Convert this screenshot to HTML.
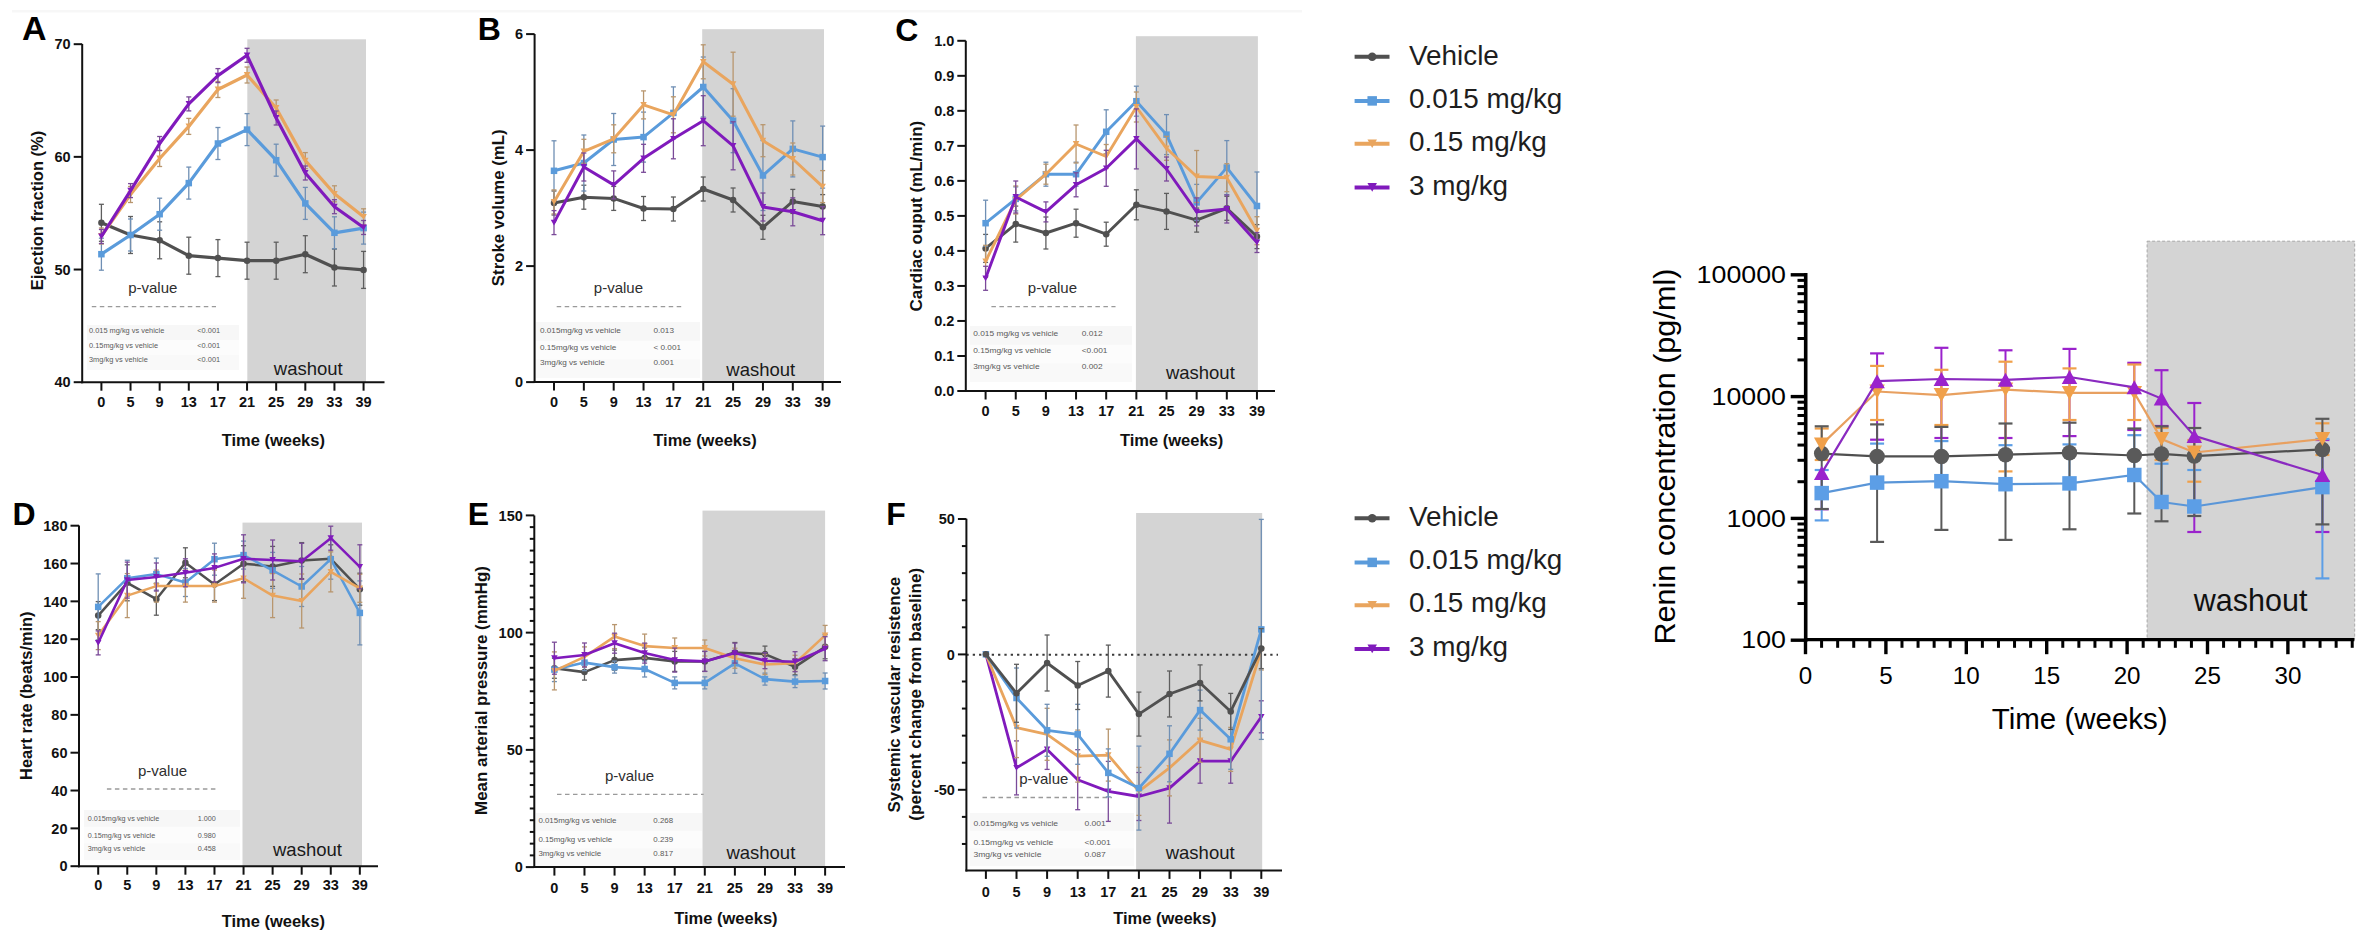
<!DOCTYPE html>
<html><head><meta charset="utf-8"><title>Figure</title>
<style>
html,body{margin:0;padding:0;background:#fff;}
body{width:2366px;height:934px;overflow:hidden;}
svg{display:block;font-family:"Liberation Sans",sans-serif;}
</style></head>
<body>
<svg width="2366" height="934" viewBox="0 0 2366 934">
<rect x="0" y="0" width="2366" height="934" fill="#fff"/>
<rect x="12" y="10" width="1290" height="2.5" fill="#f7f7f7"/>
<rect x="247.3" y="39.3" width="118.7" height="342.9" fill="#d4d4d4"/>
<rect x="87" y="325" width="152" height="45" fill="#fcfcfc"/>
<rect x="87" y="325" width="152" height="15" fill="#f7f7f7"/>
<rect x="87" y="355" width="152" height="15" fill="#f9f9f9"/>
<g transform="translate(89,332.8) scale(1.028,1)"><text x="0" y="0" font-size="7.2" fill="#5a5a5a">0.015 mg/kg vs vehicle</text></g>
<g transform="translate(197.3,332.8) scale(1.028,1)"><text x="0" y="0" font-size="7.2" fill="#5a5a5a">&lt;0.001</text></g>
<g transform="translate(89,347.8) scale(1.028,1)"><text x="0" y="0" font-size="7.2" fill="#5a5a5a">0.15mg/kg vs vehicle</text></g>
<g transform="translate(197.3,347.8) scale(1.028,1)"><text x="0" y="0" font-size="7.2" fill="#5a5a5a">&lt;0.001</text></g>
<g transform="translate(89,362.3) scale(1.028,1)"><text x="0" y="0" font-size="7.2" fill="#5a5a5a">3mg/kg vs vehicle</text></g>
<g transform="translate(197.3,362.3) scale(1.028,1)"><text x="0" y="0" font-size="7.2" fill="#5a5a5a">&lt;0.001</text></g>
<text x="152.8" y="292.8" font-size="15" text-anchor="middle" font-weight="normal" fill="#2e2e2e" >p-value</text>
<line x1="91.8" y1="306.7" x2="216" y2="306.7" stroke="#9a9a9a" stroke-width="1.3" stroke-dasharray="4.5 3.5"/>
<text x="273.8" y="375.2" font-size="18.5" text-anchor="start" font-weight="normal" fill="#1a1a1a" >washout</text>
<line x1="101.4" y1="204.3" x2="101.4" y2="241.3" stroke="#5e5e5e" stroke-width="1.3"/>
<line x1="98.9" y1="204.3" x2="103.9" y2="204.3" stroke="#5e5e5e" stroke-width="1.3"/>
<line x1="98.9" y1="241.3" x2="103.9" y2="241.3" stroke="#5e5e5e" stroke-width="1.3"/>
<line x1="130.53" y1="216.5" x2="130.53" y2="253.5" stroke="#5e5e5e" stroke-width="1.3"/>
<line x1="128.03" y1="216.5" x2="133.03" y2="216.5" stroke="#5e5e5e" stroke-width="1.3"/>
<line x1="128.03" y1="253.5" x2="133.03" y2="253.5" stroke="#5e5e5e" stroke-width="1.3"/>
<line x1="159.66" y1="221.8" x2="159.66" y2="258.8" stroke="#5e5e5e" stroke-width="1.3"/>
<line x1="157.16" y1="221.8" x2="162.16" y2="221.8" stroke="#5e5e5e" stroke-width="1.3"/>
<line x1="157.16" y1="258.8" x2="162.16" y2="258.8" stroke="#5e5e5e" stroke-width="1.3"/>
<line x1="188.79" y1="237.2" x2="188.79" y2="274.2" stroke="#5e5e5e" stroke-width="1.3"/>
<line x1="186.29" y1="237.2" x2="191.29" y2="237.2" stroke="#5e5e5e" stroke-width="1.3"/>
<line x1="186.29" y1="274.2" x2="191.29" y2="274.2" stroke="#5e5e5e" stroke-width="1.3"/>
<line x1="217.92" y1="239.6" x2="217.92" y2="276.6" stroke="#5e5e5e" stroke-width="1.3"/>
<line x1="215.42" y1="239.6" x2="220.42" y2="239.6" stroke="#5e5e5e" stroke-width="1.3"/>
<line x1="215.42" y1="276.6" x2="220.42" y2="276.6" stroke="#5e5e5e" stroke-width="1.3"/>
<line x1="247.05" y1="242.2" x2="247.05" y2="279.2" stroke="#5e5e5e" stroke-width="1.3"/>
<line x1="244.55" y1="242.2" x2="249.55" y2="242.2" stroke="#5e5e5e" stroke-width="1.3"/>
<line x1="244.55" y1="279.2" x2="249.55" y2="279.2" stroke="#5e5e5e" stroke-width="1.3"/>
<line x1="276.18" y1="242.2" x2="276.18" y2="279.2" stroke="#5e5e5e" stroke-width="1.3"/>
<line x1="273.68" y1="242.2" x2="278.68" y2="242.2" stroke="#5e5e5e" stroke-width="1.3"/>
<line x1="273.68" y1="279.2" x2="278.68" y2="279.2" stroke="#5e5e5e" stroke-width="1.3"/>
<line x1="305.31" y1="235.7" x2="305.31" y2="272.7" stroke="#5e5e5e" stroke-width="1.3"/>
<line x1="302.81" y1="235.7" x2="307.81" y2="235.7" stroke="#5e5e5e" stroke-width="1.3"/>
<line x1="302.81" y1="272.7" x2="307.81" y2="272.7" stroke="#5e5e5e" stroke-width="1.3"/>
<line x1="334.44" y1="249" x2="334.44" y2="286" stroke="#5e5e5e" stroke-width="1.3"/>
<line x1="331.94" y1="249" x2="336.94" y2="249" stroke="#5e5e5e" stroke-width="1.3"/>
<line x1="331.94" y1="286" x2="336.94" y2="286" stroke="#5e5e5e" stroke-width="1.3"/>
<line x1="363.57" y1="251.4" x2="363.57" y2="288.4" stroke="#5e5e5e" stroke-width="1.3"/>
<line x1="361.07" y1="251.4" x2="366.07" y2="251.4" stroke="#5e5e5e" stroke-width="1.3"/>
<line x1="361.07" y1="288.4" x2="366.07" y2="288.4" stroke="#5e5e5e" stroke-width="1.3"/>
<polyline points="101.4,222.8 130.53,235 159.66,240.3 188.79,255.7 217.92,258.1 247.05,260.7 276.18,260.7 305.31,254.2 334.44,267.5 363.57,269.9" fill="none" stroke="#505050" stroke-width="3.2" stroke-linejoin="round"/>
<circle cx="101.4" cy="222.8" r="3.25" fill="#505050"/>
<circle cx="130.53" cy="235" r="3.25" fill="#505050"/>
<circle cx="159.66" cy="240.3" r="3.25" fill="#505050"/>
<circle cx="188.79" cy="255.7" r="3.25" fill="#505050"/>
<circle cx="217.92" cy="258.1" r="3.25" fill="#505050"/>
<circle cx="247.05" cy="260.7" r="3.25" fill="#505050"/>
<circle cx="276.18" cy="260.7" r="3.25" fill="#505050"/>
<circle cx="305.31" cy="254.2" r="3.25" fill="#505050"/>
<circle cx="334.44" cy="267.5" r="3.25" fill="#505050"/>
<circle cx="363.57" cy="269.9" r="3.25" fill="#505050"/>
<line x1="101.4" y1="238.2" x2="101.4" y2="270.2" stroke="#6f8fb4" stroke-width="1.3"/>
<line x1="98.9" y1="238.2" x2="103.9" y2="238.2" stroke="#6f8fb4" stroke-width="1.3"/>
<line x1="98.9" y1="270.2" x2="103.9" y2="270.2" stroke="#6f8fb4" stroke-width="1.3"/>
<line x1="130.53" y1="219" x2="130.53" y2="251" stroke="#6f8fb4" stroke-width="1.3"/>
<line x1="128.03" y1="219" x2="133.03" y2="219" stroke="#6f8fb4" stroke-width="1.3"/>
<line x1="128.03" y1="251" x2="133.03" y2="251" stroke="#6f8fb4" stroke-width="1.3"/>
<line x1="159.66" y1="198.2" x2="159.66" y2="230.2" stroke="#6f8fb4" stroke-width="1.3"/>
<line x1="157.16" y1="198.2" x2="162.16" y2="198.2" stroke="#6f8fb4" stroke-width="1.3"/>
<line x1="157.16" y1="230.2" x2="162.16" y2="230.2" stroke="#6f8fb4" stroke-width="1.3"/>
<line x1="188.79" y1="167.1" x2="188.79" y2="199.1" stroke="#6f8fb4" stroke-width="1.3"/>
<line x1="186.29" y1="167.1" x2="191.29" y2="167.1" stroke="#6f8fb4" stroke-width="1.3"/>
<line x1="186.29" y1="199.1" x2="191.29" y2="199.1" stroke="#6f8fb4" stroke-width="1.3"/>
<line x1="217.92" y1="127.5" x2="217.92" y2="159.5" stroke="#6f8fb4" stroke-width="1.3"/>
<line x1="215.42" y1="127.5" x2="220.42" y2="127.5" stroke="#6f8fb4" stroke-width="1.3"/>
<line x1="215.42" y1="159.5" x2="220.42" y2="159.5" stroke="#6f8fb4" stroke-width="1.3"/>
<line x1="247.05" y1="113.6" x2="247.05" y2="145.6" stroke="#6f8fb4" stroke-width="1.3"/>
<line x1="244.55" y1="113.6" x2="249.55" y2="113.6" stroke="#6f8fb4" stroke-width="1.3"/>
<line x1="244.55" y1="145.6" x2="249.55" y2="145.6" stroke="#6f8fb4" stroke-width="1.3"/>
<line x1="276.18" y1="144.2" x2="276.18" y2="176.2" stroke="#6f8fb4" stroke-width="1.3"/>
<line x1="273.68" y1="144.2" x2="278.68" y2="144.2" stroke="#6f8fb4" stroke-width="1.3"/>
<line x1="273.68" y1="176.2" x2="278.68" y2="176.2" stroke="#6f8fb4" stroke-width="1.3"/>
<line x1="305.31" y1="187.4" x2="305.31" y2="219.4" stroke="#6f8fb4" stroke-width="1.3"/>
<line x1="302.81" y1="187.4" x2="307.81" y2="187.4" stroke="#6f8fb4" stroke-width="1.3"/>
<line x1="302.81" y1="219.4" x2="307.81" y2="219.4" stroke="#6f8fb4" stroke-width="1.3"/>
<line x1="334.44" y1="216.8" x2="334.44" y2="248.8" stroke="#6f8fb4" stroke-width="1.3"/>
<line x1="331.94" y1="216.8" x2="336.94" y2="216.8" stroke="#6f8fb4" stroke-width="1.3"/>
<line x1="331.94" y1="248.8" x2="336.94" y2="248.8" stroke="#6f8fb4" stroke-width="1.3"/>
<line x1="363.57" y1="212.1" x2="363.57" y2="244.1" stroke="#6f8fb4" stroke-width="1.3"/>
<line x1="361.07" y1="212.1" x2="366.07" y2="212.1" stroke="#6f8fb4" stroke-width="1.3"/>
<line x1="361.07" y1="244.1" x2="366.07" y2="244.1" stroke="#6f8fb4" stroke-width="1.3"/>
<polyline points="101.4,254.2 130.53,235 159.66,214.2 188.79,183.1 217.92,143.5 247.05,129.6 276.18,160.2 305.31,203.4 334.44,232.8 363.57,228.1" fill="none" stroke="#5a9bdb" stroke-width="3.2" stroke-linejoin="round"/>
<rect x="98.15" y="250.95" width="6.5" height="6.5" fill="#5a9bdb"/>
<rect x="127.28" y="231.75" width="6.5" height="6.5" fill="#5a9bdb"/>
<rect x="156.41" y="210.95" width="6.5" height="6.5" fill="#5a9bdb"/>
<rect x="185.54" y="179.85" width="6.5" height="6.5" fill="#5a9bdb"/>
<rect x="214.67" y="140.25" width="6.5" height="6.5" fill="#5a9bdb"/>
<rect x="243.8" y="126.35" width="6.5" height="6.5" fill="#5a9bdb"/>
<rect x="272.93" y="156.95" width="6.5" height="6.5" fill="#5a9bdb"/>
<rect x="302.06" y="200.15" width="6.5" height="6.5" fill="#5a9bdb"/>
<rect x="331.19" y="229.55" width="6.5" height="6.5" fill="#5a9bdb"/>
<rect x="360.32" y="224.85" width="6.5" height="6.5" fill="#5a9bdb"/>
<line x1="101.4" y1="228" x2="101.4" y2="244" stroke="#b8966e" stroke-width="1.3"/>
<line x1="98.9" y1="228" x2="103.9" y2="228" stroke="#b8966e" stroke-width="1.3"/>
<line x1="98.9" y1="244" x2="103.9" y2="244" stroke="#b8966e" stroke-width="1.3"/>
<line x1="130.53" y1="186.5" x2="130.53" y2="202.5" stroke="#b8966e" stroke-width="1.3"/>
<line x1="128.03" y1="186.5" x2="133.03" y2="186.5" stroke="#b8966e" stroke-width="1.3"/>
<line x1="128.03" y1="202.5" x2="133.03" y2="202.5" stroke="#b8966e" stroke-width="1.3"/>
<line x1="159.66" y1="150.5" x2="159.66" y2="166.5" stroke="#b8966e" stroke-width="1.3"/>
<line x1="157.16" y1="150.5" x2="162.16" y2="150.5" stroke="#b8966e" stroke-width="1.3"/>
<line x1="157.16" y1="166.5" x2="162.16" y2="166.5" stroke="#b8966e" stroke-width="1.3"/>
<line x1="188.79" y1="118.4" x2="188.79" y2="134.4" stroke="#b8966e" stroke-width="1.3"/>
<line x1="186.29" y1="118.4" x2="191.29" y2="118.4" stroke="#b8966e" stroke-width="1.3"/>
<line x1="186.29" y1="134.4" x2="191.29" y2="134.4" stroke="#b8966e" stroke-width="1.3"/>
<line x1="217.92" y1="81.5" x2="217.92" y2="97.5" stroke="#b8966e" stroke-width="1.3"/>
<line x1="215.42" y1="81.5" x2="220.42" y2="81.5" stroke="#b8966e" stroke-width="1.3"/>
<line x1="215.42" y1="97.5" x2="220.42" y2="97.5" stroke="#b8966e" stroke-width="1.3"/>
<line x1="247.05" y1="67" x2="247.05" y2="83" stroke="#b8966e" stroke-width="1.3"/>
<line x1="244.55" y1="67" x2="249.55" y2="67" stroke="#b8966e" stroke-width="1.3"/>
<line x1="244.55" y1="83" x2="249.55" y2="83" stroke="#b8966e" stroke-width="1.3"/>
<line x1="276.18" y1="100" x2="276.18" y2="116" stroke="#b8966e" stroke-width="1.3"/>
<line x1="273.68" y1="100" x2="278.68" y2="100" stroke="#b8966e" stroke-width="1.3"/>
<line x1="273.68" y1="116" x2="278.68" y2="116" stroke="#b8966e" stroke-width="1.3"/>
<line x1="305.31" y1="152.6" x2="305.31" y2="168.6" stroke="#b8966e" stroke-width="1.3"/>
<line x1="302.81" y1="152.6" x2="307.81" y2="152.6" stroke="#b8966e" stroke-width="1.3"/>
<line x1="302.81" y1="168.6" x2="307.81" y2="168.6" stroke="#b8966e" stroke-width="1.3"/>
<line x1="334.44" y1="185.8" x2="334.44" y2="201.8" stroke="#b8966e" stroke-width="1.3"/>
<line x1="331.94" y1="185.8" x2="336.94" y2="185.8" stroke="#b8966e" stroke-width="1.3"/>
<line x1="331.94" y1="201.8" x2="336.94" y2="201.8" stroke="#b8966e" stroke-width="1.3"/>
<line x1="363.57" y1="208.8" x2="363.57" y2="224.8" stroke="#b8966e" stroke-width="1.3"/>
<line x1="361.07" y1="208.8" x2="366.07" y2="208.8" stroke="#b8966e" stroke-width="1.3"/>
<line x1="361.07" y1="224.8" x2="366.07" y2="224.8" stroke="#b8966e" stroke-width="1.3"/>
<polyline points="101.4,236 130.53,194.5 159.66,158.5 188.79,126.4 217.92,89.5 247.05,75 276.18,108 305.31,160.6 334.44,193.8 363.57,216.8" fill="none" stroke="#e9a55e" stroke-width="3.2" stroke-linejoin="round"/>
<polygon points="98.15,233.07 104.65,233.07 101.4,238.93" fill="#e9a55e"/>
<polygon points="127.28,191.57 133.78,191.57 130.53,197.43" fill="#e9a55e"/>
<polygon points="156.41,155.57 162.91,155.57 159.66,161.43" fill="#e9a55e"/>
<polygon points="185.54,123.48 192.04,123.48 188.79,129.33" fill="#e9a55e"/>
<polygon points="214.67,86.58 221.17,86.58 217.92,92.42" fill="#e9a55e"/>
<polygon points="243.8,72.08 250.3,72.08 247.05,77.92" fill="#e9a55e"/>
<polygon points="272.93,105.08 279.43,105.08 276.18,110.92" fill="#e9a55e"/>
<polygon points="302.06,157.67 308.56,157.67 305.31,163.53" fill="#e9a55e"/>
<polygon points="331.19,190.88 337.69,190.88 334.44,196.73" fill="#e9a55e"/>
<polygon points="360.32,213.88 366.82,213.88 363.57,219.73" fill="#e9a55e"/>
<line x1="101.4" y1="229.5" x2="101.4" y2="243.5" stroke="#7a4a98" stroke-width="1.3"/>
<line x1="98.9" y1="229.5" x2="103.9" y2="229.5" stroke="#7a4a98" stroke-width="1.3"/>
<line x1="98.9" y1="243.5" x2="103.9" y2="243.5" stroke="#7a4a98" stroke-width="1.3"/>
<line x1="130.53" y1="183.6" x2="130.53" y2="197.6" stroke="#7a4a98" stroke-width="1.3"/>
<line x1="128.03" y1="183.6" x2="133.03" y2="183.6" stroke="#7a4a98" stroke-width="1.3"/>
<line x1="128.03" y1="197.6" x2="133.03" y2="197.6" stroke="#7a4a98" stroke-width="1.3"/>
<line x1="159.66" y1="136.5" x2="159.66" y2="150.5" stroke="#7a4a98" stroke-width="1.3"/>
<line x1="157.16" y1="136.5" x2="162.16" y2="136.5" stroke="#7a4a98" stroke-width="1.3"/>
<line x1="157.16" y1="150.5" x2="162.16" y2="150.5" stroke="#7a4a98" stroke-width="1.3"/>
<line x1="188.79" y1="96.9" x2="188.79" y2="110.9" stroke="#7a4a98" stroke-width="1.3"/>
<line x1="186.29" y1="96.9" x2="191.29" y2="96.9" stroke="#7a4a98" stroke-width="1.3"/>
<line x1="186.29" y1="110.9" x2="191.29" y2="110.9" stroke="#7a4a98" stroke-width="1.3"/>
<line x1="217.92" y1="68.6" x2="217.92" y2="82.6" stroke="#7a4a98" stroke-width="1.3"/>
<line x1="215.42" y1="68.6" x2="220.42" y2="68.6" stroke="#7a4a98" stroke-width="1.3"/>
<line x1="215.42" y1="82.6" x2="220.42" y2="82.6" stroke="#7a4a98" stroke-width="1.3"/>
<line x1="247.05" y1="48.3" x2="247.05" y2="62.3" stroke="#7a4a98" stroke-width="1.3"/>
<line x1="244.55" y1="48.3" x2="249.55" y2="48.3" stroke="#7a4a98" stroke-width="1.3"/>
<line x1="244.55" y1="62.3" x2="249.55" y2="62.3" stroke="#7a4a98" stroke-width="1.3"/>
<line x1="276.18" y1="111" x2="276.18" y2="125" stroke="#7a4a98" stroke-width="1.3"/>
<line x1="273.68" y1="111" x2="278.68" y2="111" stroke="#7a4a98" stroke-width="1.3"/>
<line x1="273.68" y1="125" x2="278.68" y2="125" stroke="#7a4a98" stroke-width="1.3"/>
<line x1="305.31" y1="166" x2="305.31" y2="180" stroke="#7a4a98" stroke-width="1.3"/>
<line x1="302.81" y1="166" x2="307.81" y2="166" stroke="#7a4a98" stroke-width="1.3"/>
<line x1="302.81" y1="180" x2="307.81" y2="180" stroke="#7a4a98" stroke-width="1.3"/>
<line x1="334.44" y1="199.7" x2="334.44" y2="213.7" stroke="#7a4a98" stroke-width="1.3"/>
<line x1="331.94" y1="199.7" x2="336.94" y2="199.7" stroke="#7a4a98" stroke-width="1.3"/>
<line x1="331.94" y1="213.7" x2="336.94" y2="213.7" stroke="#7a4a98" stroke-width="1.3"/>
<line x1="363.57" y1="220.5" x2="363.57" y2="234.5" stroke="#7a4a98" stroke-width="1.3"/>
<line x1="361.07" y1="220.5" x2="366.07" y2="220.5" stroke="#7a4a98" stroke-width="1.3"/>
<line x1="361.07" y1="234.5" x2="366.07" y2="234.5" stroke="#7a4a98" stroke-width="1.3"/>
<polyline points="101.4,236.5 130.53,190.6 159.66,143.5 188.79,103.9 217.92,75.6 247.05,55.3 276.18,118 305.31,173 334.44,206.7 363.57,227.5" fill="none" stroke="#801abc" stroke-width="3.2" stroke-linejoin="round"/>
<polygon points="98.15,233.57 104.65,233.57 101.4,239.43" fill="#801abc"/>
<polygon points="127.28,187.67 133.78,187.67 130.53,193.53" fill="#801abc"/>
<polygon points="156.41,140.57 162.91,140.57 159.66,146.43" fill="#801abc"/>
<polygon points="185.54,100.98 192.04,100.98 188.79,106.83" fill="#801abc"/>
<polygon points="214.67,72.67 221.17,72.67 217.92,78.52" fill="#801abc"/>
<polygon points="243.8,52.38 250.3,52.38 247.05,58.22" fill="#801abc"/>
<polygon points="272.93,115.08 279.43,115.08 276.18,120.92" fill="#801abc"/>
<polygon points="302.06,170.07 308.56,170.07 305.31,175.93" fill="#801abc"/>
<polygon points="331.19,203.77 337.69,203.77 334.44,209.62" fill="#801abc"/>
<polygon points="360.32,224.57 366.82,224.57 363.57,230.43" fill="#801abc"/>
<line x1="82.2" y1="43.9" x2="82.2" y2="383.2" stroke="#111" stroke-width="2"/>
<line x1="81.2" y1="382.2" x2="384.5" y2="382.2" stroke="#111" stroke-width="2"/>
<line x1="73.7" y1="382.2" x2="82.2" y2="382.2" stroke="#111" stroke-width="2"/>
<text x="70.7" y="387.4" font-size="14.5" text-anchor="end" font-weight="bold" fill="#111" >40</text>
<line x1="73.7" y1="269.53" x2="82.2" y2="269.53" stroke="#111" stroke-width="2"/>
<text x="70.7" y="274.73" font-size="14.5" text-anchor="end" font-weight="bold" fill="#111" >50</text>
<line x1="73.7" y1="156.86" x2="82.2" y2="156.86" stroke="#111" stroke-width="2"/>
<text x="70.7" y="162.06" font-size="14.5" text-anchor="end" font-weight="bold" fill="#111" >60</text>
<line x1="73.7" y1="44.19" x2="82.2" y2="44.19" stroke="#111" stroke-width="2"/>
<text x="70.7" y="49.39" font-size="14.5" text-anchor="end" font-weight="bold" fill="#111" >70</text>
<line x1="101.4" y1="382.2" x2="101.4" y2="390.7" stroke="#111" stroke-width="2"/>
<text x="101.4" y="406.6" font-size="14.5" text-anchor="middle" font-weight="bold" fill="#111" >0</text>
<line x1="130.53" y1="382.2" x2="130.53" y2="390.7" stroke="#111" stroke-width="2"/>
<text x="130.53" y="406.6" font-size="14.5" text-anchor="middle" font-weight="bold" fill="#111" >5</text>
<line x1="159.66" y1="382.2" x2="159.66" y2="390.7" stroke="#111" stroke-width="2"/>
<text x="159.66" y="406.6" font-size="14.5" text-anchor="middle" font-weight="bold" fill="#111" >9</text>
<line x1="188.79" y1="382.2" x2="188.79" y2="390.7" stroke="#111" stroke-width="2"/>
<text x="188.79" y="406.6" font-size="14.5" text-anchor="middle" font-weight="bold" fill="#111" >13</text>
<line x1="217.92" y1="382.2" x2="217.92" y2="390.7" stroke="#111" stroke-width="2"/>
<text x="217.92" y="406.6" font-size="14.5" text-anchor="middle" font-weight="bold" fill="#111" >17</text>
<line x1="247.05" y1="382.2" x2="247.05" y2="390.7" stroke="#111" stroke-width="2"/>
<text x="247.05" y="406.6" font-size="14.5" text-anchor="middle" font-weight="bold" fill="#111" >21</text>
<line x1="276.18" y1="382.2" x2="276.18" y2="390.7" stroke="#111" stroke-width="2"/>
<text x="276.18" y="406.6" font-size="14.5" text-anchor="middle" font-weight="bold" fill="#111" >25</text>
<line x1="305.31" y1="382.2" x2="305.31" y2="390.7" stroke="#111" stroke-width="2"/>
<text x="305.31" y="406.6" font-size="14.5" text-anchor="middle" font-weight="bold" fill="#111" >29</text>
<line x1="334.44" y1="382.2" x2="334.44" y2="390.7" stroke="#111" stroke-width="2"/>
<text x="334.44" y="406.6" font-size="14.5" text-anchor="middle" font-weight="bold" fill="#111" >33</text>
<line x1="363.57" y1="382.2" x2="363.57" y2="390.7" stroke="#111" stroke-width="2"/>
<text x="363.57" y="406.6" font-size="14.5" text-anchor="middle" font-weight="bold" fill="#111" >39</text>
<text x="273.3" y="446.2" font-size="16.5" text-anchor="middle" font-weight="bold" fill="#111" >Time (weeks)</text>
<text transform="translate(42.8,210.5) rotate(-90)" x="0" y="0" font-size="16.5" text-anchor="middle" font-weight="bold" fill="#111">Ejection fraction (%)</text>
<text x="22" y="40.3" font-size="34" text-anchor="start" font-weight="bold" fill="#000" >A</text>
<rect x="702.2" y="29.2" width="121.8" height="352.9" fill="#d4d4d4"/>
<rect x="536" y="322" width="164" height="56" fill="#fcfcfc"/>
<rect x="536" y="322" width="164" height="18.67" fill="#f7f7f7"/>
<rect x="536" y="359.33" width="164" height="18.67" fill="#f9f9f9"/>
<g transform="translate(540,332.8) scale(1.137,1)"><text x="0" y="0" font-size="7.2" fill="#5a5a5a">0.015mg/kg vs vehicle</text></g>
<g transform="translate(653.5,332.8) scale(1.137,1)"><text x="0" y="0" font-size="7.2" fill="#5a5a5a">0.013</text></g>
<g transform="translate(540,349.5) scale(1.137,1)"><text x="0" y="0" font-size="7.2" fill="#5a5a5a">0.15mg/kg vs vehicle</text></g>
<g transform="translate(653.5,349.5) scale(1.137,1)"><text x="0" y="0" font-size="7.2" fill="#5a5a5a">&lt; 0.001</text></g>
<g transform="translate(540,365) scale(1.137,1)"><text x="0" y="0" font-size="7.2" fill="#5a5a5a">3mg/kg vs vehicle</text></g>
<g transform="translate(653.5,365) scale(1.137,1)"><text x="0" y="0" font-size="7.2" fill="#5a5a5a">0.001</text></g>
<text x="618.4" y="293.2" font-size="15" text-anchor="middle" font-weight="normal" fill="#2e2e2e" >p-value</text>
<line x1="556.7" y1="306.7" x2="681.3" y2="306.7" stroke="#9a9a9a" stroke-width="1.3" stroke-dasharray="4.5 3.5"/>
<text x="726.3" y="375.7" font-size="18.5" text-anchor="start" font-weight="normal" fill="#1a1a1a" >washout</text>
<line x1="554" y1="191" x2="554" y2="215" stroke="#5e5e5e" stroke-width="1.3"/>
<line x1="551.5" y1="191" x2="556.5" y2="191" stroke="#5e5e5e" stroke-width="1.3"/>
<line x1="551.5" y1="215" x2="556.5" y2="215" stroke="#5e5e5e" stroke-width="1.3"/>
<line x1="583.85" y1="185.2" x2="583.85" y2="209.2" stroke="#5e5e5e" stroke-width="1.3"/>
<line x1="581.35" y1="185.2" x2="586.35" y2="185.2" stroke="#5e5e5e" stroke-width="1.3"/>
<line x1="581.35" y1="209.2" x2="586.35" y2="209.2" stroke="#5e5e5e" stroke-width="1.3"/>
<line x1="613.7" y1="186.4" x2="613.7" y2="210.4" stroke="#5e5e5e" stroke-width="1.3"/>
<line x1="611.2" y1="186.4" x2="616.2" y2="186.4" stroke="#5e5e5e" stroke-width="1.3"/>
<line x1="611.2" y1="210.4" x2="616.2" y2="210.4" stroke="#5e5e5e" stroke-width="1.3"/>
<line x1="643.55" y1="196.5" x2="643.55" y2="220.5" stroke="#5e5e5e" stroke-width="1.3"/>
<line x1="641.05" y1="196.5" x2="646.05" y2="196.5" stroke="#5e5e5e" stroke-width="1.3"/>
<line x1="641.05" y1="220.5" x2="646.05" y2="220.5" stroke="#5e5e5e" stroke-width="1.3"/>
<line x1="673.4" y1="197" x2="673.4" y2="221" stroke="#5e5e5e" stroke-width="1.3"/>
<line x1="670.9" y1="197" x2="675.9" y2="197" stroke="#5e5e5e" stroke-width="1.3"/>
<line x1="670.9" y1="221" x2="675.9" y2="221" stroke="#5e5e5e" stroke-width="1.3"/>
<line x1="703.25" y1="177" x2="703.25" y2="201" stroke="#5e5e5e" stroke-width="1.3"/>
<line x1="700.75" y1="177" x2="705.75" y2="177" stroke="#5e5e5e" stroke-width="1.3"/>
<line x1="700.75" y1="201" x2="705.75" y2="201" stroke="#5e5e5e" stroke-width="1.3"/>
<line x1="733.1" y1="188" x2="733.1" y2="212" stroke="#5e5e5e" stroke-width="1.3"/>
<line x1="730.6" y1="188" x2="735.6" y2="188" stroke="#5e5e5e" stroke-width="1.3"/>
<line x1="730.6" y1="212" x2="735.6" y2="212" stroke="#5e5e5e" stroke-width="1.3"/>
<line x1="762.95" y1="215.3" x2="762.95" y2="239.3" stroke="#5e5e5e" stroke-width="1.3"/>
<line x1="760.45" y1="215.3" x2="765.45" y2="215.3" stroke="#5e5e5e" stroke-width="1.3"/>
<line x1="760.45" y1="239.3" x2="765.45" y2="239.3" stroke="#5e5e5e" stroke-width="1.3"/>
<line x1="792.8" y1="189.4" x2="792.8" y2="213.4" stroke="#5e5e5e" stroke-width="1.3"/>
<line x1="790.3" y1="189.4" x2="795.3" y2="189.4" stroke="#5e5e5e" stroke-width="1.3"/>
<line x1="790.3" y1="213.4" x2="795.3" y2="213.4" stroke="#5e5e5e" stroke-width="1.3"/>
<line x1="822.65" y1="194.6" x2="822.65" y2="218.6" stroke="#5e5e5e" stroke-width="1.3"/>
<line x1="820.15" y1="194.6" x2="825.15" y2="194.6" stroke="#5e5e5e" stroke-width="1.3"/>
<line x1="820.15" y1="218.6" x2="825.15" y2="218.6" stroke="#5e5e5e" stroke-width="1.3"/>
<polyline points="554,203 583.85,197.2 613.7,198.4 643.55,208.5 673.4,209 703.25,189 733.1,200 762.95,227.3 792.8,201.4 822.65,206.6" fill="none" stroke="#505050" stroke-width="3.0" stroke-linejoin="round"/>
<circle cx="554" cy="203" r="3.25" fill="#505050"/>
<circle cx="583.85" cy="197.2" r="3.25" fill="#505050"/>
<circle cx="613.7" cy="198.4" r="3.25" fill="#505050"/>
<circle cx="643.55" cy="208.5" r="3.25" fill="#505050"/>
<circle cx="673.4" cy="209" r="3.25" fill="#505050"/>
<circle cx="703.25" cy="189" r="3.25" fill="#505050"/>
<circle cx="733.1" cy="200" r="3.25" fill="#505050"/>
<circle cx="762.95" cy="227.3" r="3.25" fill="#505050"/>
<circle cx="792.8" cy="201.4" r="3.25" fill="#505050"/>
<circle cx="822.65" cy="206.6" r="3.25" fill="#505050"/>
<line x1="554" y1="140.8" x2="554" y2="200.8" stroke="#6f8fb4" stroke-width="1.3"/>
<line x1="551.5" y1="140.8" x2="556.5" y2="140.8" stroke="#6f8fb4" stroke-width="1.3"/>
<line x1="551.5" y1="200.8" x2="556.5" y2="200.8" stroke="#6f8fb4" stroke-width="1.3"/>
<line x1="583.85" y1="135" x2="583.85" y2="191" stroke="#6f8fb4" stroke-width="1.3"/>
<line x1="581.35" y1="135" x2="586.35" y2="135" stroke="#6f8fb4" stroke-width="1.3"/>
<line x1="581.35" y1="191" x2="586.35" y2="191" stroke="#6f8fb4" stroke-width="1.3"/>
<line x1="613.7" y1="113.5" x2="613.7" y2="165.5" stroke="#6f8fb4" stroke-width="1.3"/>
<line x1="611.2" y1="113.5" x2="616.2" y2="113.5" stroke="#6f8fb4" stroke-width="1.3"/>
<line x1="611.2" y1="165.5" x2="616.2" y2="165.5" stroke="#6f8fb4" stroke-width="1.3"/>
<line x1="643.55" y1="112.1" x2="643.55" y2="162.1" stroke="#6f8fb4" stroke-width="1.3"/>
<line x1="641.05" y1="112.1" x2="646.05" y2="112.1" stroke="#6f8fb4" stroke-width="1.3"/>
<line x1="641.05" y1="162.1" x2="646.05" y2="162.1" stroke="#6f8fb4" stroke-width="1.3"/>
<line x1="673.4" y1="86.9" x2="673.4" y2="138.9" stroke="#6f8fb4" stroke-width="1.3"/>
<line x1="670.9" y1="86.9" x2="675.9" y2="86.9" stroke="#6f8fb4" stroke-width="1.3"/>
<line x1="670.9" y1="138.9" x2="675.9" y2="138.9" stroke="#6f8fb4" stroke-width="1.3"/>
<line x1="703.25" y1="57" x2="703.25" y2="117" stroke="#6f8fb4" stroke-width="1.3"/>
<line x1="700.75" y1="57" x2="705.75" y2="57" stroke="#6f8fb4" stroke-width="1.3"/>
<line x1="700.75" y1="117" x2="705.75" y2="117" stroke="#6f8fb4" stroke-width="1.3"/>
<line x1="733.1" y1="88.7" x2="733.1" y2="152.7" stroke="#6f8fb4" stroke-width="1.3"/>
<line x1="730.6" y1="88.7" x2="735.6" y2="88.7" stroke="#6f8fb4" stroke-width="1.3"/>
<line x1="730.6" y1="152.7" x2="735.6" y2="152.7" stroke="#6f8fb4" stroke-width="1.3"/>
<line x1="762.95" y1="140.5" x2="762.95" y2="210.5" stroke="#6f8fb4" stroke-width="1.3"/>
<line x1="760.45" y1="140.5" x2="765.45" y2="140.5" stroke="#6f8fb4" stroke-width="1.3"/>
<line x1="760.45" y1="210.5" x2="765.45" y2="210.5" stroke="#6f8fb4" stroke-width="1.3"/>
<line x1="792.8" y1="120.9" x2="792.8" y2="176.9" stroke="#6f8fb4" stroke-width="1.3"/>
<line x1="790.3" y1="120.9" x2="795.3" y2="120.9" stroke="#6f8fb4" stroke-width="1.3"/>
<line x1="790.3" y1="176.9" x2="795.3" y2="176.9" stroke="#6f8fb4" stroke-width="1.3"/>
<line x1="822.65" y1="126.1" x2="822.65" y2="188.1" stroke="#6f8fb4" stroke-width="1.3"/>
<line x1="820.15" y1="126.1" x2="825.15" y2="126.1" stroke="#6f8fb4" stroke-width="1.3"/>
<line x1="820.15" y1="188.1" x2="825.15" y2="188.1" stroke="#6f8fb4" stroke-width="1.3"/>
<polyline points="554,170.8 583.85,163 613.7,139.5 643.55,137.1 673.4,112.9 703.25,87 733.1,120.7 762.95,175.5 792.8,148.9 822.65,157.1" fill="none" stroke="#5a9bdb" stroke-width="3.0" stroke-linejoin="round"/>
<rect x="550.75" y="167.55" width="6.5" height="6.5" fill="#5a9bdb"/>
<rect x="580.6" y="159.75" width="6.5" height="6.5" fill="#5a9bdb"/>
<rect x="610.45" y="136.25" width="6.5" height="6.5" fill="#5a9bdb"/>
<rect x="640.3" y="133.85" width="6.5" height="6.5" fill="#5a9bdb"/>
<rect x="670.15" y="109.65" width="6.5" height="6.5" fill="#5a9bdb"/>
<rect x="700" y="83.75" width="6.5" height="6.5" fill="#5a9bdb"/>
<rect x="729.85" y="117.45" width="6.5" height="6.5" fill="#5a9bdb"/>
<rect x="759.7" y="172.25" width="6.5" height="6.5" fill="#5a9bdb"/>
<rect x="789.55" y="145.65" width="6.5" height="6.5" fill="#5a9bdb"/>
<rect x="819.4" y="153.85" width="6.5" height="6.5" fill="#5a9bdb"/>
<line x1="554" y1="189.9" x2="554" y2="213.9" stroke="#b8966e" stroke-width="1.3"/>
<line x1="551.5" y1="189.9" x2="556.5" y2="189.9" stroke="#b8966e" stroke-width="1.3"/>
<line x1="551.5" y1="213.9" x2="556.5" y2="213.9" stroke="#b8966e" stroke-width="1.3"/>
<line x1="583.85" y1="139.3" x2="583.85" y2="163.3" stroke="#b8966e" stroke-width="1.3"/>
<line x1="581.35" y1="139.3" x2="586.35" y2="139.3" stroke="#b8966e" stroke-width="1.3"/>
<line x1="581.35" y1="163.3" x2="586.35" y2="163.3" stroke="#b8966e" stroke-width="1.3"/>
<line x1="613.7" y1="124.8" x2="613.7" y2="152.8" stroke="#b8966e" stroke-width="1.3"/>
<line x1="611.2" y1="124.8" x2="616.2" y2="124.8" stroke="#b8966e" stroke-width="1.3"/>
<line x1="611.2" y1="152.8" x2="616.2" y2="152.8" stroke="#b8966e" stroke-width="1.3"/>
<line x1="643.55" y1="90.9" x2="643.55" y2="118.9" stroke="#b8966e" stroke-width="1.3"/>
<line x1="641.05" y1="90.9" x2="646.05" y2="90.9" stroke="#b8966e" stroke-width="1.3"/>
<line x1="641.05" y1="118.9" x2="646.05" y2="118.9" stroke="#b8966e" stroke-width="1.3"/>
<line x1="673.4" y1="96.8" x2="673.4" y2="132.8" stroke="#b8966e" stroke-width="1.3"/>
<line x1="670.9" y1="96.8" x2="675.9" y2="96.8" stroke="#b8966e" stroke-width="1.3"/>
<line x1="670.9" y1="132.8" x2="675.9" y2="132.8" stroke="#b8966e" stroke-width="1.3"/>
<line x1="703.25" y1="44.8" x2="703.25" y2="78.8" stroke="#b8966e" stroke-width="1.3"/>
<line x1="700.75" y1="44.8" x2="705.75" y2="44.8" stroke="#b8966e" stroke-width="1.3"/>
<line x1="700.75" y1="78.8" x2="705.75" y2="78.8" stroke="#b8966e" stroke-width="1.3"/>
<line x1="733.1" y1="52.2" x2="733.1" y2="116.2" stroke="#b8966e" stroke-width="1.3"/>
<line x1="730.6" y1="52.2" x2="735.6" y2="52.2" stroke="#b8966e" stroke-width="1.3"/>
<line x1="730.6" y1="116.2" x2="735.6" y2="116.2" stroke="#b8966e" stroke-width="1.3"/>
<line x1="762.95" y1="124.7" x2="762.95" y2="156.7" stroke="#b8966e" stroke-width="1.3"/>
<line x1="760.45" y1="124.7" x2="765.45" y2="124.7" stroke="#b8966e" stroke-width="1.3"/>
<line x1="760.45" y1="156.7" x2="765.45" y2="156.7" stroke="#b8966e" stroke-width="1.3"/>
<line x1="792.8" y1="143" x2="792.8" y2="175" stroke="#b8966e" stroke-width="1.3"/>
<line x1="790.3" y1="143" x2="795.3" y2="143" stroke="#b8966e" stroke-width="1.3"/>
<line x1="790.3" y1="175" x2="795.3" y2="175" stroke="#b8966e" stroke-width="1.3"/>
<line x1="822.65" y1="170.6" x2="822.65" y2="202.6" stroke="#b8966e" stroke-width="1.3"/>
<line x1="820.15" y1="170.6" x2="825.15" y2="170.6" stroke="#b8966e" stroke-width="1.3"/>
<line x1="820.15" y1="202.6" x2="825.15" y2="202.6" stroke="#b8966e" stroke-width="1.3"/>
<polyline points="554,201.9 583.85,151.3 613.7,138.8 643.55,104.9 673.4,114.8 703.25,61.8 733.1,84.2 762.95,140.7 792.8,159 822.65,186.6" fill="none" stroke="#e9a55e" stroke-width="3.0" stroke-linejoin="round"/>
<polygon points="550.75,198.97 557.25,198.97 554,204.83" fill="#e9a55e"/>
<polygon points="580.6,148.38 587.1,148.38 583.85,154.23" fill="#e9a55e"/>
<polygon points="610.45,135.88 616.95,135.88 613.7,141.73" fill="#e9a55e"/>
<polygon points="640.3,101.98 646.8,101.98 643.55,107.83" fill="#e9a55e"/>
<polygon points="670.15,111.88 676.65,111.88 673.4,117.72" fill="#e9a55e"/>
<polygon points="700,58.88 706.5,58.88 703.25,64.72" fill="#e9a55e"/>
<polygon points="729.85,81.28 736.35,81.28 733.1,87.12" fill="#e9a55e"/>
<polygon points="759.7,137.77 766.2,137.77 762.95,143.62" fill="#e9a55e"/>
<polygon points="789.55,156.07 796.05,156.07 792.8,161.93" fill="#e9a55e"/>
<polygon points="819.4,183.67 825.9,183.67 822.65,189.53" fill="#e9a55e"/>
<line x1="554" y1="210.6" x2="554" y2="234.6" stroke="#7a4a98" stroke-width="1.3"/>
<line x1="551.5" y1="210.6" x2="556.5" y2="210.6" stroke="#7a4a98" stroke-width="1.3"/>
<line x1="551.5" y1="234.6" x2="556.5" y2="234.6" stroke="#7a4a98" stroke-width="1.3"/>
<line x1="583.85" y1="153" x2="583.85" y2="181" stroke="#7a4a98" stroke-width="1.3"/>
<line x1="581.35" y1="153" x2="586.35" y2="153" stroke="#7a4a98" stroke-width="1.3"/>
<line x1="581.35" y1="181" x2="586.35" y2="181" stroke="#7a4a98" stroke-width="1.3"/>
<line x1="613.7" y1="170.9" x2="613.7" y2="198.9" stroke="#7a4a98" stroke-width="1.3"/>
<line x1="611.2" y1="170.9" x2="616.2" y2="170.9" stroke="#7a4a98" stroke-width="1.3"/>
<line x1="611.2" y1="198.9" x2="616.2" y2="198.9" stroke="#7a4a98" stroke-width="1.3"/>
<line x1="643.55" y1="144.3" x2="643.55" y2="172.3" stroke="#7a4a98" stroke-width="1.3"/>
<line x1="641.05" y1="144.3" x2="646.05" y2="144.3" stroke="#7a4a98" stroke-width="1.3"/>
<line x1="641.05" y1="172.3" x2="646.05" y2="172.3" stroke="#7a4a98" stroke-width="1.3"/>
<line x1="673.4" y1="118.8" x2="673.4" y2="158.8" stroke="#7a4a98" stroke-width="1.3"/>
<line x1="670.9" y1="118.8" x2="675.9" y2="118.8" stroke="#7a4a98" stroke-width="1.3"/>
<line x1="670.9" y1="158.8" x2="675.9" y2="158.8" stroke="#7a4a98" stroke-width="1.3"/>
<line x1="703.25" y1="95.7" x2="703.25" y2="145.7" stroke="#7a4a98" stroke-width="1.3"/>
<line x1="700.75" y1="95.7" x2="705.75" y2="95.7" stroke="#7a4a98" stroke-width="1.3"/>
<line x1="700.75" y1="145.7" x2="705.75" y2="145.7" stroke="#7a4a98" stroke-width="1.3"/>
<line x1="733.1" y1="121.8" x2="733.1" y2="169.8" stroke="#7a4a98" stroke-width="1.3"/>
<line x1="730.6" y1="121.8" x2="735.6" y2="121.8" stroke="#7a4a98" stroke-width="1.3"/>
<line x1="730.6" y1="169.8" x2="735.6" y2="169.8" stroke="#7a4a98" stroke-width="1.3"/>
<line x1="762.95" y1="193" x2="762.95" y2="221" stroke="#7a4a98" stroke-width="1.3"/>
<line x1="760.45" y1="193" x2="765.45" y2="193" stroke="#7a4a98" stroke-width="1.3"/>
<line x1="760.45" y1="221" x2="765.45" y2="221" stroke="#7a4a98" stroke-width="1.3"/>
<line x1="792.8" y1="197.8" x2="792.8" y2="225.8" stroke="#7a4a98" stroke-width="1.3"/>
<line x1="790.3" y1="197.8" x2="795.3" y2="197.8" stroke="#7a4a98" stroke-width="1.3"/>
<line x1="790.3" y1="225.8" x2="795.3" y2="225.8" stroke="#7a4a98" stroke-width="1.3"/>
<line x1="822.65" y1="206.7" x2="822.65" y2="234.7" stroke="#7a4a98" stroke-width="1.3"/>
<line x1="820.15" y1="206.7" x2="825.15" y2="206.7" stroke="#7a4a98" stroke-width="1.3"/>
<line x1="820.15" y1="234.7" x2="825.15" y2="234.7" stroke="#7a4a98" stroke-width="1.3"/>
<polyline points="554,222.6 583.85,167 613.7,184.9 643.55,158.3 673.4,138.8 703.25,120.7 733.1,145.8 762.95,207 792.8,211.8 822.65,220.7" fill="none" stroke="#801abc" stroke-width="3.0" stroke-linejoin="round"/>
<polygon points="550.75,219.67 557.25,219.67 554,225.53" fill="#801abc"/>
<polygon points="580.6,164.07 587.1,164.07 583.85,169.93" fill="#801abc"/>
<polygon points="610.45,181.97 616.95,181.97 613.7,187.83" fill="#801abc"/>
<polygon points="640.3,155.38 646.8,155.38 643.55,161.23" fill="#801abc"/>
<polygon points="670.15,135.88 676.65,135.88 673.4,141.73" fill="#801abc"/>
<polygon points="700,117.78 706.5,117.78 703.25,123.62" fill="#801abc"/>
<polygon points="729.85,142.88 736.35,142.88 733.1,148.73" fill="#801abc"/>
<polygon points="759.7,204.07 766.2,204.07 762.95,209.93" fill="#801abc"/>
<polygon points="789.55,208.88 796.05,208.88 792.8,214.73" fill="#801abc"/>
<polygon points="819.4,217.77 825.9,217.77 822.65,223.62" fill="#801abc"/>
<line x1="534.6" y1="34" x2="534.6" y2="383.1" stroke="#111" stroke-width="2"/>
<line x1="533.6" y1="382.1" x2="841" y2="382.1" stroke="#111" stroke-width="2"/>
<line x1="526.1" y1="382.1" x2="534.6" y2="382.1" stroke="#111" stroke-width="2"/>
<text x="523.1" y="387.3" font-size="14.5" text-anchor="end" font-weight="bold" fill="#111" >0</text>
<line x1="526.1" y1="266.1" x2="534.6" y2="266.1" stroke="#111" stroke-width="2"/>
<text x="523.1" y="271.3" font-size="14.5" text-anchor="end" font-weight="bold" fill="#111" >2</text>
<line x1="526.1" y1="150.1" x2="534.6" y2="150.1" stroke="#111" stroke-width="2"/>
<text x="523.1" y="155.3" font-size="14.5" text-anchor="end" font-weight="bold" fill="#111" >4</text>
<line x1="526.1" y1="34.1" x2="534.6" y2="34.1" stroke="#111" stroke-width="2"/>
<text x="523.1" y="39.3" font-size="14.5" text-anchor="end" font-weight="bold" fill="#111" >6</text>
<line x1="554" y1="382.1" x2="554" y2="390.6" stroke="#111" stroke-width="2"/>
<text x="554" y="406.7" font-size="14.5" text-anchor="middle" font-weight="bold" fill="#111" >0</text>
<line x1="583.85" y1="382.1" x2="583.85" y2="390.6" stroke="#111" stroke-width="2"/>
<text x="583.85" y="406.7" font-size="14.5" text-anchor="middle" font-weight="bold" fill="#111" >5</text>
<line x1="613.7" y1="382.1" x2="613.7" y2="390.6" stroke="#111" stroke-width="2"/>
<text x="613.7" y="406.7" font-size="14.5" text-anchor="middle" font-weight="bold" fill="#111" >9</text>
<line x1="643.55" y1="382.1" x2="643.55" y2="390.6" stroke="#111" stroke-width="2"/>
<text x="643.55" y="406.7" font-size="14.5" text-anchor="middle" font-weight="bold" fill="#111" >13</text>
<line x1="673.4" y1="382.1" x2="673.4" y2="390.6" stroke="#111" stroke-width="2"/>
<text x="673.4" y="406.7" font-size="14.5" text-anchor="middle" font-weight="bold" fill="#111" >17</text>
<line x1="703.25" y1="382.1" x2="703.25" y2="390.6" stroke="#111" stroke-width="2"/>
<text x="703.25" y="406.7" font-size="14.5" text-anchor="middle" font-weight="bold" fill="#111" >21</text>
<line x1="733.1" y1="382.1" x2="733.1" y2="390.6" stroke="#111" stroke-width="2"/>
<text x="733.1" y="406.7" font-size="14.5" text-anchor="middle" font-weight="bold" fill="#111" >25</text>
<line x1="762.95" y1="382.1" x2="762.95" y2="390.6" stroke="#111" stroke-width="2"/>
<text x="762.95" y="406.7" font-size="14.5" text-anchor="middle" font-weight="bold" fill="#111" >29</text>
<line x1="792.8" y1="382.1" x2="792.8" y2="390.6" stroke="#111" stroke-width="2"/>
<text x="792.8" y="406.7" font-size="14.5" text-anchor="middle" font-weight="bold" fill="#111" >33</text>
<line x1="822.65" y1="382.1" x2="822.65" y2="390.6" stroke="#111" stroke-width="2"/>
<text x="822.65" y="406.7" font-size="14.5" text-anchor="middle" font-weight="bold" fill="#111" >39</text>
<text x="705" y="446.3" font-size="16.5" text-anchor="middle" font-weight="bold" fill="#111" >Time (weeks)</text>
<text transform="translate(504,207.8) rotate(-90)" x="0" y="0" font-size="16.8" text-anchor="middle" font-weight="bold" fill="#111">Stroke volume (mL)</text>
<text x="477.8" y="40" font-size="32" text-anchor="start" font-weight="bold" fill="#000" >B</text>
<rect x="1135.9" y="36.2" width="122" height="354.8" fill="#d4d4d4"/>
<rect x="970" y="326" width="162" height="56" fill="#fcfcfc"/>
<rect x="970" y="326" width="162" height="18.67" fill="#f7f7f7"/>
<rect x="970" y="363.33" width="162" height="18.67" fill="#f9f9f9"/>
<g transform="translate(973.2,336) scale(1.161,1)"><text x="0" y="0" font-size="7.2" fill="#5a5a5a">0.015 mg/kg vs vehicle</text></g>
<g transform="translate(1081.7,336) scale(1.161,1)"><text x="0" y="0" font-size="7.2" fill="#5a5a5a">0.012</text></g>
<g transform="translate(973.2,352.5) scale(1.161,1)"><text x="0" y="0" font-size="7.2" fill="#5a5a5a">0.15mg/kg vs vehicle</text></g>
<g transform="translate(1081.7,352.5) scale(1.161,1)"><text x="0" y="0" font-size="7.2" fill="#5a5a5a">&lt;0.001</text></g>
<g transform="translate(973.2,369.2) scale(1.161,1)"><text x="0" y="0" font-size="7.2" fill="#5a5a5a">3mg/kg vs vehicle</text></g>
<g transform="translate(1081.7,369.2) scale(1.161,1)"><text x="0" y="0" font-size="7.2" fill="#5a5a5a">0.002</text></g>
<text x="1052.4" y="293.2" font-size="15" text-anchor="middle" font-weight="normal" fill="#2e2e2e" >p-value</text>
<line x1="991.4" y1="306.7" x2="1115.5" y2="306.7" stroke="#9a9a9a" stroke-width="1.3" stroke-dasharray="4.5 3.5"/>
<text x="1165.9" y="378.8" font-size="18.5" text-anchor="start" font-weight="normal" fill="#1a1a1a" >washout</text>
<line x1="985.6" y1="234.4" x2="985.6" y2="262.4" stroke="#5e5e5e" stroke-width="1.3"/>
<line x1="983.1" y1="234.4" x2="988.1" y2="234.4" stroke="#5e5e5e" stroke-width="1.3"/>
<line x1="983.1" y1="262.4" x2="988.1" y2="262.4" stroke="#5e5e5e" stroke-width="1.3"/>
<line x1="1015.75" y1="206.1" x2="1015.75" y2="242.1" stroke="#5e5e5e" stroke-width="1.3"/>
<line x1="1013.25" y1="206.1" x2="1018.25" y2="206.1" stroke="#5e5e5e" stroke-width="1.3"/>
<line x1="1013.25" y1="242.1" x2="1018.25" y2="242.1" stroke="#5e5e5e" stroke-width="1.3"/>
<line x1="1045.9" y1="217" x2="1045.9" y2="249" stroke="#5e5e5e" stroke-width="1.3"/>
<line x1="1043.4" y1="217" x2="1048.4" y2="217" stroke="#5e5e5e" stroke-width="1.3"/>
<line x1="1043.4" y1="249" x2="1048.4" y2="249" stroke="#5e5e5e" stroke-width="1.3"/>
<line x1="1076.05" y1="209.2" x2="1076.05" y2="237.2" stroke="#5e5e5e" stroke-width="1.3"/>
<line x1="1073.55" y1="209.2" x2="1078.55" y2="209.2" stroke="#5e5e5e" stroke-width="1.3"/>
<line x1="1073.55" y1="237.2" x2="1078.55" y2="237.2" stroke="#5e5e5e" stroke-width="1.3"/>
<line x1="1106.2" y1="222.2" x2="1106.2" y2="246.2" stroke="#5e5e5e" stroke-width="1.3"/>
<line x1="1103.7" y1="222.2" x2="1108.7" y2="222.2" stroke="#5e5e5e" stroke-width="1.3"/>
<line x1="1103.7" y1="246.2" x2="1108.7" y2="246.2" stroke="#5e5e5e" stroke-width="1.3"/>
<line x1="1136.35" y1="189.8" x2="1136.35" y2="219.8" stroke="#5e5e5e" stroke-width="1.3"/>
<line x1="1133.85" y1="189.8" x2="1138.85" y2="189.8" stroke="#5e5e5e" stroke-width="1.3"/>
<line x1="1133.85" y1="219.8" x2="1138.85" y2="219.8" stroke="#5e5e5e" stroke-width="1.3"/>
<line x1="1166.5" y1="193.4" x2="1166.5" y2="229.4" stroke="#5e5e5e" stroke-width="1.3"/>
<line x1="1164" y1="193.4" x2="1169" y2="193.4" stroke="#5e5e5e" stroke-width="1.3"/>
<line x1="1164" y1="229.4" x2="1169" y2="229.4" stroke="#5e5e5e" stroke-width="1.3"/>
<line x1="1196.65" y1="208.1" x2="1196.65" y2="232.1" stroke="#5e5e5e" stroke-width="1.3"/>
<line x1="1194.15" y1="208.1" x2="1199.15" y2="208.1" stroke="#5e5e5e" stroke-width="1.3"/>
<line x1="1194.15" y1="232.1" x2="1199.15" y2="232.1" stroke="#5e5e5e" stroke-width="1.3"/>
<line x1="1226.8" y1="196.3" x2="1226.8" y2="220.3" stroke="#5e5e5e" stroke-width="1.3"/>
<line x1="1224.3" y1="196.3" x2="1229.3" y2="196.3" stroke="#5e5e5e" stroke-width="1.3"/>
<line x1="1224.3" y1="220.3" x2="1229.3" y2="220.3" stroke="#5e5e5e" stroke-width="1.3"/>
<line x1="1256.95" y1="224.6" x2="1256.95" y2="248.6" stroke="#5e5e5e" stroke-width="1.3"/>
<line x1="1254.45" y1="224.6" x2="1259.45" y2="224.6" stroke="#5e5e5e" stroke-width="1.3"/>
<line x1="1254.45" y1="248.6" x2="1259.45" y2="248.6" stroke="#5e5e5e" stroke-width="1.3"/>
<polyline points="985.6,248.4 1015.75,224.1 1045.9,233 1076.05,223.2 1106.2,234.2 1136.35,204.8 1166.5,211.4 1196.65,220.1 1226.8,208.3 1256.95,236.6" fill="none" stroke="#505050" stroke-width="2.9" stroke-linejoin="round"/>
<circle cx="985.6" cy="248.4" r="3.25" fill="#505050"/>
<circle cx="1015.75" cy="224.1" r="3.25" fill="#505050"/>
<circle cx="1045.9" cy="233" r="3.25" fill="#505050"/>
<circle cx="1076.05" cy="223.2" r="3.25" fill="#505050"/>
<circle cx="1106.2" cy="234.2" r="3.25" fill="#505050"/>
<circle cx="1136.35" cy="204.8" r="3.25" fill="#505050"/>
<circle cx="1166.5" cy="211.4" r="3.25" fill="#505050"/>
<circle cx="1196.65" cy="220.1" r="3.25" fill="#505050"/>
<circle cx="1226.8" cy="208.3" r="3.25" fill="#505050"/>
<circle cx="1256.95" cy="236.6" r="3.25" fill="#505050"/>
<line x1="985.6" y1="200.2" x2="985.6" y2="246.2" stroke="#6f8fb4" stroke-width="1.3"/>
<line x1="983.1" y1="200.2" x2="988.1" y2="200.2" stroke="#6f8fb4" stroke-width="1.3"/>
<line x1="983.1" y1="246.2" x2="988.1" y2="246.2" stroke="#6f8fb4" stroke-width="1.3"/>
<line x1="1015.75" y1="186.9" x2="1015.75" y2="210.9" stroke="#6f8fb4" stroke-width="1.3"/>
<line x1="1013.25" y1="186.9" x2="1018.25" y2="186.9" stroke="#6f8fb4" stroke-width="1.3"/>
<line x1="1013.25" y1="210.9" x2="1018.25" y2="210.9" stroke="#6f8fb4" stroke-width="1.3"/>
<line x1="1045.9" y1="162.2" x2="1045.9" y2="186.2" stroke="#6f8fb4" stroke-width="1.3"/>
<line x1="1043.4" y1="162.2" x2="1048.4" y2="162.2" stroke="#6f8fb4" stroke-width="1.3"/>
<line x1="1043.4" y1="186.2" x2="1048.4" y2="186.2" stroke="#6f8fb4" stroke-width="1.3"/>
<line x1="1076.05" y1="162.2" x2="1076.05" y2="186.2" stroke="#6f8fb4" stroke-width="1.3"/>
<line x1="1073.55" y1="162.2" x2="1078.55" y2="162.2" stroke="#6f8fb4" stroke-width="1.3"/>
<line x1="1073.55" y1="186.2" x2="1078.55" y2="186.2" stroke="#6f8fb4" stroke-width="1.3"/>
<line x1="1106.2" y1="109.8" x2="1106.2" y2="153.8" stroke="#6f8fb4" stroke-width="1.3"/>
<line x1="1103.7" y1="109.8" x2="1108.7" y2="109.8" stroke="#6f8fb4" stroke-width="1.3"/>
<line x1="1103.7" y1="153.8" x2="1108.7" y2="153.8" stroke="#6f8fb4" stroke-width="1.3"/>
<line x1="1136.35" y1="86.2" x2="1136.35" y2="116.2" stroke="#6f8fb4" stroke-width="1.3"/>
<line x1="1133.85" y1="86.2" x2="1138.85" y2="86.2" stroke="#6f8fb4" stroke-width="1.3"/>
<line x1="1133.85" y1="116.2" x2="1138.85" y2="116.2" stroke="#6f8fb4" stroke-width="1.3"/>
<line x1="1166.5" y1="114.6" x2="1166.5" y2="154.6" stroke="#6f8fb4" stroke-width="1.3"/>
<line x1="1164" y1="114.6" x2="1169" y2="114.6" stroke="#6f8fb4" stroke-width="1.3"/>
<line x1="1164" y1="154.6" x2="1169" y2="154.6" stroke="#6f8fb4" stroke-width="1.3"/>
<line x1="1196.65" y1="184.4" x2="1196.65" y2="220.4" stroke="#6f8fb4" stroke-width="1.3"/>
<line x1="1194.15" y1="184.4" x2="1199.15" y2="184.4" stroke="#6f8fb4" stroke-width="1.3"/>
<line x1="1194.15" y1="220.4" x2="1199.15" y2="220.4" stroke="#6f8fb4" stroke-width="1.3"/>
<line x1="1226.8" y1="140.6" x2="1226.8" y2="194.6" stroke="#6f8fb4" stroke-width="1.3"/>
<line x1="1224.3" y1="140.6" x2="1229.3" y2="140.6" stroke="#6f8fb4" stroke-width="1.3"/>
<line x1="1224.3" y1="194.6" x2="1229.3" y2="194.6" stroke="#6f8fb4" stroke-width="1.3"/>
<line x1="1256.95" y1="172" x2="1256.95" y2="240" stroke="#6f8fb4" stroke-width="1.3"/>
<line x1="1254.45" y1="172" x2="1259.45" y2="172" stroke="#6f8fb4" stroke-width="1.3"/>
<line x1="1254.45" y1="240" x2="1259.45" y2="240" stroke="#6f8fb4" stroke-width="1.3"/>
<polyline points="985.6,223.2 1015.75,198.9 1045.9,174.2 1076.05,174.2 1106.2,131.8 1136.35,101.2 1166.5,134.6 1196.65,202.4 1226.8,167.6 1256.95,206" fill="none" stroke="#5a9bdb" stroke-width="2.9" stroke-linejoin="round"/>
<rect x="982.35" y="219.95" width="6.5" height="6.5" fill="#5a9bdb"/>
<rect x="1012.5" y="195.65" width="6.5" height="6.5" fill="#5a9bdb"/>
<rect x="1042.65" y="170.95" width="6.5" height="6.5" fill="#5a9bdb"/>
<rect x="1072.8" y="170.95" width="6.5" height="6.5" fill="#5a9bdb"/>
<rect x="1102.95" y="128.55" width="6.5" height="6.5" fill="#5a9bdb"/>
<rect x="1133.1" y="97.95" width="6.5" height="6.5" fill="#5a9bdb"/>
<rect x="1163.25" y="131.35" width="6.5" height="6.5" fill="#5a9bdb"/>
<rect x="1193.4" y="199.15" width="6.5" height="6.5" fill="#5a9bdb"/>
<rect x="1223.55" y="164.35" width="6.5" height="6.5" fill="#5a9bdb"/>
<rect x="1253.7" y="202.75" width="6.5" height="6.5" fill="#5a9bdb"/>
<line x1="985.6" y1="245.3" x2="985.6" y2="277.3" stroke="#b8966e" stroke-width="1.3"/>
<line x1="983.1" y1="245.3" x2="988.1" y2="245.3" stroke="#b8966e" stroke-width="1.3"/>
<line x1="983.1" y1="277.3" x2="988.1" y2="277.3" stroke="#b8966e" stroke-width="1.3"/>
<line x1="1015.75" y1="186" x2="1015.75" y2="214" stroke="#b8966e" stroke-width="1.3"/>
<line x1="1013.25" y1="186" x2="1018.25" y2="186" stroke="#b8966e" stroke-width="1.3"/>
<line x1="1013.25" y1="214" x2="1018.25" y2="214" stroke="#b8966e" stroke-width="1.3"/>
<line x1="1045.9" y1="164.2" x2="1045.9" y2="184.2" stroke="#b8966e" stroke-width="1.3"/>
<line x1="1043.4" y1="164.2" x2="1048.4" y2="164.2" stroke="#b8966e" stroke-width="1.3"/>
<line x1="1043.4" y1="184.2" x2="1048.4" y2="184.2" stroke="#b8966e" stroke-width="1.3"/>
<line x1="1076.05" y1="125" x2="1076.05" y2="163" stroke="#b8966e" stroke-width="1.3"/>
<line x1="1073.55" y1="125" x2="1078.55" y2="125" stroke="#b8966e" stroke-width="1.3"/>
<line x1="1073.55" y1="163" x2="1078.55" y2="163" stroke="#b8966e" stroke-width="1.3"/>
<line x1="1106.2" y1="144.5" x2="1106.2" y2="168.5" stroke="#b8966e" stroke-width="1.3"/>
<line x1="1103.7" y1="144.5" x2="1108.7" y2="144.5" stroke="#b8966e" stroke-width="1.3"/>
<line x1="1103.7" y1="168.5" x2="1108.7" y2="168.5" stroke="#b8966e" stroke-width="1.3"/>
<line x1="1136.35" y1="92" x2="1136.35" y2="122" stroke="#b8966e" stroke-width="1.3"/>
<line x1="1133.85" y1="92" x2="1138.85" y2="92" stroke="#b8966e" stroke-width="1.3"/>
<line x1="1133.85" y1="122" x2="1138.85" y2="122" stroke="#b8966e" stroke-width="1.3"/>
<line x1="1166.5" y1="136.3" x2="1166.5" y2="160.3" stroke="#b8966e" stroke-width="1.3"/>
<line x1="1164" y1="136.3" x2="1169" y2="136.3" stroke="#b8966e" stroke-width="1.3"/>
<line x1="1164" y1="160.3" x2="1169" y2="160.3" stroke="#b8966e" stroke-width="1.3"/>
<line x1="1196.65" y1="150.5" x2="1196.65" y2="202.5" stroke="#b8966e" stroke-width="1.3"/>
<line x1="1194.15" y1="150.5" x2="1199.15" y2="150.5" stroke="#b8966e" stroke-width="1.3"/>
<line x1="1194.15" y1="202.5" x2="1199.15" y2="202.5" stroke="#b8966e" stroke-width="1.3"/>
<line x1="1226.8" y1="163.7" x2="1226.8" y2="191.7" stroke="#b8966e" stroke-width="1.3"/>
<line x1="1224.3" y1="163.7" x2="1229.3" y2="163.7" stroke="#b8966e" stroke-width="1.3"/>
<line x1="1224.3" y1="191.7" x2="1229.3" y2="191.7" stroke="#b8966e" stroke-width="1.3"/>
<line x1="1256.95" y1="216.7" x2="1256.95" y2="244.7" stroke="#b8966e" stroke-width="1.3"/>
<line x1="1254.45" y1="216.7" x2="1259.45" y2="216.7" stroke="#b8966e" stroke-width="1.3"/>
<line x1="1254.45" y1="244.7" x2="1259.45" y2="244.7" stroke="#b8966e" stroke-width="1.3"/>
<polyline points="985.6,261.3 1015.75,200 1045.9,174.2 1076.05,144 1106.2,156.5 1136.35,107 1166.5,148.3 1196.65,176.5 1226.8,177.7 1256.95,230.7" fill="none" stroke="#e9a55e" stroke-width="2.9" stroke-linejoin="round"/>
<polygon points="982.35,258.38 988.85,258.38 985.6,264.23" fill="#e9a55e"/>
<polygon points="1012.5,197.07 1019,197.07 1015.75,202.93" fill="#e9a55e"/>
<polygon points="1042.65,171.27 1049.15,171.27 1045.9,177.12" fill="#e9a55e"/>
<polygon points="1072.8,141.07 1079.3,141.07 1076.05,146.93" fill="#e9a55e"/>
<polygon points="1102.95,153.57 1109.45,153.57 1106.2,159.43" fill="#e9a55e"/>
<polygon points="1133.1,104.08 1139.6,104.08 1136.35,109.92" fill="#e9a55e"/>
<polygon points="1163.25,145.38 1169.75,145.38 1166.5,151.23" fill="#e9a55e"/>
<polygon points="1193.4,173.57 1199.9,173.57 1196.65,179.43" fill="#e9a55e"/>
<polygon points="1223.55,174.77 1230.05,174.77 1226.8,180.62" fill="#e9a55e"/>
<polygon points="1253.7,227.77 1260.2,227.77 1256.95,233.62" fill="#e9a55e"/>
<line x1="985.6" y1="266.3" x2="985.6" y2="290.3" stroke="#7a4a98" stroke-width="1.3"/>
<line x1="983.1" y1="266.3" x2="988.1" y2="266.3" stroke="#7a4a98" stroke-width="1.3"/>
<line x1="983.1" y1="290.3" x2="988.1" y2="290.3" stroke="#7a4a98" stroke-width="1.3"/>
<line x1="1015.75" y1="181" x2="1015.75" y2="213" stroke="#7a4a98" stroke-width="1.3"/>
<line x1="1013.25" y1="181" x2="1018.25" y2="181" stroke="#7a4a98" stroke-width="1.3"/>
<line x1="1013.25" y1="213" x2="1018.25" y2="213" stroke="#7a4a98" stroke-width="1.3"/>
<line x1="1045.9" y1="201.9" x2="1045.9" y2="221.9" stroke="#7a4a98" stroke-width="1.3"/>
<line x1="1043.4" y1="201.9" x2="1048.4" y2="201.9" stroke="#7a4a98" stroke-width="1.3"/>
<line x1="1043.4" y1="221.9" x2="1048.4" y2="221.9" stroke="#7a4a98" stroke-width="1.3"/>
<line x1="1076.05" y1="172.8" x2="1076.05" y2="196.8" stroke="#7a4a98" stroke-width="1.3"/>
<line x1="1073.55" y1="172.8" x2="1078.55" y2="172.8" stroke="#7a4a98" stroke-width="1.3"/>
<line x1="1073.55" y1="196.8" x2="1078.55" y2="196.8" stroke="#7a4a98" stroke-width="1.3"/>
<line x1="1106.2" y1="150.3" x2="1106.2" y2="186.3" stroke="#7a4a98" stroke-width="1.3"/>
<line x1="1103.7" y1="150.3" x2="1108.7" y2="150.3" stroke="#7a4a98" stroke-width="1.3"/>
<line x1="1103.7" y1="186.3" x2="1108.7" y2="186.3" stroke="#7a4a98" stroke-width="1.3"/>
<line x1="1136.35" y1="108.9" x2="1136.35" y2="168.9" stroke="#7a4a98" stroke-width="1.3"/>
<line x1="1133.85" y1="108.9" x2="1138.85" y2="108.9" stroke="#7a4a98" stroke-width="1.3"/>
<line x1="1133.85" y1="168.9" x2="1138.85" y2="168.9" stroke="#7a4a98" stroke-width="1.3"/>
<line x1="1166.5" y1="157" x2="1166.5" y2="181" stroke="#7a4a98" stroke-width="1.3"/>
<line x1="1164" y1="157" x2="1169" y2="157" stroke="#7a4a98" stroke-width="1.3"/>
<line x1="1164" y1="181" x2="1169" y2="181" stroke="#7a4a98" stroke-width="1.3"/>
<line x1="1196.65" y1="197.9" x2="1196.65" y2="225.9" stroke="#7a4a98" stroke-width="1.3"/>
<line x1="1194.15" y1="197.9" x2="1199.15" y2="197.9" stroke="#7a4a98" stroke-width="1.3"/>
<line x1="1194.15" y1="225.9" x2="1199.15" y2="225.9" stroke="#7a4a98" stroke-width="1.3"/>
<line x1="1226.8" y1="195" x2="1226.8" y2="223" stroke="#7a4a98" stroke-width="1.3"/>
<line x1="1224.3" y1="195" x2="1229.3" y2="195" stroke="#7a4a98" stroke-width="1.3"/>
<line x1="1224.3" y1="223" x2="1229.3" y2="223" stroke="#7a4a98" stroke-width="1.3"/>
<line x1="1256.95" y1="232.5" x2="1256.95" y2="252.5" stroke="#7a4a98" stroke-width="1.3"/>
<line x1="1254.45" y1="232.5" x2="1259.45" y2="232.5" stroke="#7a4a98" stroke-width="1.3"/>
<line x1="1254.45" y1="252.5" x2="1259.45" y2="252.5" stroke="#7a4a98" stroke-width="1.3"/>
<polyline points="985.6,278.3 1015.75,197 1045.9,211.9 1076.05,184.8 1106.2,168.3 1136.35,138.9 1166.5,169 1196.65,211.9 1226.8,209 1256.95,242.5" fill="none" stroke="#801abc" stroke-width="2.9" stroke-linejoin="round"/>
<polygon points="982.35,275.38 988.85,275.38 985.6,281.23" fill="#801abc"/>
<polygon points="1012.5,194.07 1019,194.07 1015.75,199.93" fill="#801abc"/>
<polygon points="1042.65,208.97 1049.15,208.97 1045.9,214.83" fill="#801abc"/>
<polygon points="1072.8,181.88 1079.3,181.88 1076.05,187.73" fill="#801abc"/>
<polygon points="1102.95,165.38 1109.45,165.38 1106.2,171.23" fill="#801abc"/>
<polygon points="1133.1,135.97 1139.6,135.97 1136.35,141.83" fill="#801abc"/>
<polygon points="1163.25,166.07 1169.75,166.07 1166.5,171.93" fill="#801abc"/>
<polygon points="1193.4,208.97 1199.9,208.97 1196.65,214.83" fill="#801abc"/>
<polygon points="1223.55,206.07 1230.05,206.07 1226.8,211.93" fill="#801abc"/>
<polygon points="1253.7,239.57 1260.2,239.57 1256.95,245.43" fill="#801abc"/>
<line x1="965.8" y1="40.8" x2="965.8" y2="392" stroke="#111" stroke-width="2"/>
<line x1="964.8" y1="391" x2="1275" y2="391" stroke="#111" stroke-width="2"/>
<line x1="957.3" y1="391" x2="965.8" y2="391" stroke="#111" stroke-width="2"/>
<text x="954.3" y="396.2" font-size="14.5" text-anchor="end" font-weight="bold" fill="#111" >0.0</text>
<line x1="957.3" y1="355.98" x2="965.8" y2="355.98" stroke="#111" stroke-width="2"/>
<text x="954.3" y="361.18" font-size="14.5" text-anchor="end" font-weight="bold" fill="#111" >0.1</text>
<line x1="957.3" y1="320.96" x2="965.8" y2="320.96" stroke="#111" stroke-width="2"/>
<text x="954.3" y="326.16" font-size="14.5" text-anchor="end" font-weight="bold" fill="#111" >0.2</text>
<line x1="957.3" y1="285.94" x2="965.8" y2="285.94" stroke="#111" stroke-width="2"/>
<text x="954.3" y="291.14" font-size="14.5" text-anchor="end" font-weight="bold" fill="#111" >0.3</text>
<line x1="957.3" y1="250.92" x2="965.8" y2="250.92" stroke="#111" stroke-width="2"/>
<text x="954.3" y="256.12" font-size="14.5" text-anchor="end" font-weight="bold" fill="#111" >0.4</text>
<line x1="957.3" y1="215.9" x2="965.8" y2="215.9" stroke="#111" stroke-width="2"/>
<text x="954.3" y="221.1" font-size="14.5" text-anchor="end" font-weight="bold" fill="#111" >0.5</text>
<line x1="957.3" y1="180.88" x2="965.8" y2="180.88" stroke="#111" stroke-width="2"/>
<text x="954.3" y="186.08" font-size="14.5" text-anchor="end" font-weight="bold" fill="#111" >0.6</text>
<line x1="957.3" y1="145.86" x2="965.8" y2="145.86" stroke="#111" stroke-width="2"/>
<text x="954.3" y="151.06" font-size="14.5" text-anchor="end" font-weight="bold" fill="#111" >0.7</text>
<line x1="957.3" y1="110.84" x2="965.8" y2="110.84" stroke="#111" stroke-width="2"/>
<text x="954.3" y="116.04" font-size="14.5" text-anchor="end" font-weight="bold" fill="#111" >0.8</text>
<line x1="957.3" y1="75.82" x2="965.8" y2="75.82" stroke="#111" stroke-width="2"/>
<text x="954.3" y="81.02" font-size="14.5" text-anchor="end" font-weight="bold" fill="#111" >0.9</text>
<line x1="957.3" y1="40.8" x2="965.8" y2="40.8" stroke="#111" stroke-width="2"/>
<text x="954.3" y="46" font-size="14.5" text-anchor="end" font-weight="bold" fill="#111" >1.0</text>
<line x1="985.6" y1="391" x2="985.6" y2="399.5" stroke="#111" stroke-width="2"/>
<text x="985.6" y="415.9" font-size="14.5" text-anchor="middle" font-weight="bold" fill="#111" >0</text>
<line x1="1015.75" y1="391" x2="1015.75" y2="399.5" stroke="#111" stroke-width="2"/>
<text x="1015.75" y="415.9" font-size="14.5" text-anchor="middle" font-weight="bold" fill="#111" >5</text>
<line x1="1045.9" y1="391" x2="1045.9" y2="399.5" stroke="#111" stroke-width="2"/>
<text x="1045.9" y="415.9" font-size="14.5" text-anchor="middle" font-weight="bold" fill="#111" >9</text>
<line x1="1076.05" y1="391" x2="1076.05" y2="399.5" stroke="#111" stroke-width="2"/>
<text x="1076.05" y="415.9" font-size="14.5" text-anchor="middle" font-weight="bold" fill="#111" >13</text>
<line x1="1106.2" y1="391" x2="1106.2" y2="399.5" stroke="#111" stroke-width="2"/>
<text x="1106.2" y="415.9" font-size="14.5" text-anchor="middle" font-weight="bold" fill="#111" >17</text>
<line x1="1136.35" y1="391" x2="1136.35" y2="399.5" stroke="#111" stroke-width="2"/>
<text x="1136.35" y="415.9" font-size="14.5" text-anchor="middle" font-weight="bold" fill="#111" >21</text>
<line x1="1166.5" y1="391" x2="1166.5" y2="399.5" stroke="#111" stroke-width="2"/>
<text x="1166.5" y="415.9" font-size="14.5" text-anchor="middle" font-weight="bold" fill="#111" >25</text>
<line x1="1196.65" y1="391" x2="1196.65" y2="399.5" stroke="#111" stroke-width="2"/>
<text x="1196.65" y="415.9" font-size="14.5" text-anchor="middle" font-weight="bold" fill="#111" >29</text>
<line x1="1226.8" y1="391" x2="1226.8" y2="399.5" stroke="#111" stroke-width="2"/>
<text x="1226.8" y="415.9" font-size="14.5" text-anchor="middle" font-weight="bold" fill="#111" >33</text>
<line x1="1256.95" y1="391" x2="1256.95" y2="399.5" stroke="#111" stroke-width="2"/>
<text x="1256.95" y="415.9" font-size="14.5" text-anchor="middle" font-weight="bold" fill="#111" >39</text>
<text x="1171.6" y="446.3" font-size="16.5" text-anchor="middle" font-weight="bold" fill="#111" >Time (weeks)</text>
<text transform="translate(922,216.2) rotate(-90)" x="0" y="0" font-size="17" text-anchor="middle" font-weight="bold" fill="#111">Cardiac ouput (mL/min)</text>
<text x="895.3" y="40.8" font-size="32" text-anchor="start" font-weight="bold" fill="#000" >C</text>
<rect x="242.5" y="522.6" width="119.5" height="343.6" fill="#d4d4d4"/>
<rect x="84" y="810" width="156" height="50" fill="#fcfcfc"/>
<rect x="84" y="810" width="156" height="16.67" fill="#f7f7f7"/>
<rect x="84" y="843.33" width="156" height="16.67" fill="#f9f9f9"/>
<g transform="translate(87.8,820.6) scale(1.097,1)"><text x="0" y="0" font-size="6.6" fill="#5a5a5a">0.015mg/kg vs vehicle</text></g>
<g transform="translate(197.8,820.6) scale(1.097,1)"><text x="0" y="0" font-size="6.6" fill="#5a5a5a">1.000</text></g>
<g transform="translate(87.8,837.6) scale(1.097,1)"><text x="0" y="0" font-size="6.6" fill="#5a5a5a">0.15mg/kg vs vehicle</text></g>
<g transform="translate(197.8,837.6) scale(1.097,1)"><text x="0" y="0" font-size="6.6" fill="#5a5a5a">0.980</text></g>
<g transform="translate(87.8,851.1) scale(1.097,1)"><text x="0" y="0" font-size="6.6" fill="#5a5a5a">3mg/kg vs vehicle</text></g>
<g transform="translate(197.8,851.1) scale(1.097,1)"><text x="0" y="0" font-size="6.6" fill="#5a5a5a">0.458</text></g>
<text x="162.5" y="775.7" font-size="15" text-anchor="middle" font-weight="normal" fill="#2e2e2e" >p-value</text>
<line x1="106.9" y1="789" x2="218.2" y2="789" stroke="#9a9a9a" stroke-width="1.3" stroke-dasharray="4.5 3.5"/>
<text x="273" y="856.3" font-size="18.5" text-anchor="start" font-weight="normal" fill="#1a1a1a" >washout</text>
<line x1="98.2" y1="601.6" x2="98.2" y2="629.6" stroke="#5e5e5e" stroke-width="1.3"/>
<line x1="95.7" y1="601.6" x2="100.7" y2="601.6" stroke="#5e5e5e" stroke-width="1.3"/>
<line x1="95.7" y1="629.6" x2="100.7" y2="629.6" stroke="#5e5e5e" stroke-width="1.3"/>
<line x1="127.27" y1="564.8" x2="127.27" y2="600.8" stroke="#5e5e5e" stroke-width="1.3"/>
<line x1="124.77" y1="564.8" x2="129.77" y2="564.8" stroke="#5e5e5e" stroke-width="1.3"/>
<line x1="124.77" y1="600.8" x2="129.77" y2="600.8" stroke="#5e5e5e" stroke-width="1.3"/>
<line x1="156.34" y1="583.2" x2="156.34" y2="615.2" stroke="#5e5e5e" stroke-width="1.3"/>
<line x1="153.84" y1="583.2" x2="158.84" y2="583.2" stroke="#5e5e5e" stroke-width="1.3"/>
<line x1="153.84" y1="615.2" x2="158.84" y2="615.2" stroke="#5e5e5e" stroke-width="1.3"/>
<line x1="185.41" y1="547.8" x2="185.41" y2="577.8" stroke="#5e5e5e" stroke-width="1.3"/>
<line x1="182.91" y1="547.8" x2="187.91" y2="547.8" stroke="#5e5e5e" stroke-width="1.3"/>
<line x1="182.91" y1="577.8" x2="187.91" y2="577.8" stroke="#5e5e5e" stroke-width="1.3"/>
<line x1="214.48" y1="568.6" x2="214.48" y2="600.6" stroke="#5e5e5e" stroke-width="1.3"/>
<line x1="211.98" y1="568.6" x2="216.98" y2="568.6" stroke="#5e5e5e" stroke-width="1.3"/>
<line x1="211.98" y1="600.6" x2="216.98" y2="600.6" stroke="#5e5e5e" stroke-width="1.3"/>
<line x1="243.55" y1="545.7" x2="243.55" y2="581.7" stroke="#5e5e5e" stroke-width="1.3"/>
<line x1="241.05" y1="545.7" x2="246.05" y2="545.7" stroke="#5e5e5e" stroke-width="1.3"/>
<line x1="241.05" y1="581.7" x2="246.05" y2="581.7" stroke="#5e5e5e" stroke-width="1.3"/>
<line x1="272.62" y1="546.4" x2="272.62" y2="586.4" stroke="#5e5e5e" stroke-width="1.3"/>
<line x1="270.12" y1="546.4" x2="275.12" y2="546.4" stroke="#5e5e5e" stroke-width="1.3"/>
<line x1="270.12" y1="586.4" x2="275.12" y2="586.4" stroke="#5e5e5e" stroke-width="1.3"/>
<line x1="301.69" y1="542.6" x2="301.69" y2="578.6" stroke="#5e5e5e" stroke-width="1.3"/>
<line x1="299.19" y1="542.6" x2="304.19" y2="542.6" stroke="#5e5e5e" stroke-width="1.3"/>
<line x1="299.19" y1="578.6" x2="304.19" y2="578.6" stroke="#5e5e5e" stroke-width="1.3"/>
<line x1="330.76" y1="544.8" x2="330.76" y2="572.8" stroke="#5e5e5e" stroke-width="1.3"/>
<line x1="328.26" y1="544.8" x2="333.26" y2="544.8" stroke="#5e5e5e" stroke-width="1.3"/>
<line x1="328.26" y1="572.8" x2="333.26" y2="572.8" stroke="#5e5e5e" stroke-width="1.3"/>
<line x1="359.83" y1="573.2" x2="359.83" y2="605.2" stroke="#5e5e5e" stroke-width="1.3"/>
<line x1="357.33" y1="573.2" x2="362.33" y2="573.2" stroke="#5e5e5e" stroke-width="1.3"/>
<line x1="357.33" y1="605.2" x2="362.33" y2="605.2" stroke="#5e5e5e" stroke-width="1.3"/>
<polyline points="98.2,615.6 127.27,582.8 156.34,599.2 185.41,562.8 214.48,584.6 243.55,563.7 272.62,566.4 301.69,560.6 330.76,558.8 359.83,589.2" fill="none" stroke="#505050" stroke-width="2.5" stroke-linejoin="round"/>
<circle cx="98.2" cy="615.6" r="3.25" fill="#505050"/>
<circle cx="127.27" cy="582.8" r="3.25" fill="#505050"/>
<circle cx="156.34" cy="599.2" r="3.25" fill="#505050"/>
<circle cx="185.41" cy="562.8" r="3.25" fill="#505050"/>
<circle cx="214.48" cy="584.6" r="3.25" fill="#505050"/>
<circle cx="243.55" cy="563.7" r="3.25" fill="#505050"/>
<circle cx="272.62" cy="566.4" r="3.25" fill="#505050"/>
<circle cx="301.69" cy="560.6" r="3.25" fill="#505050"/>
<circle cx="330.76" cy="558.8" r="3.25" fill="#505050"/>
<circle cx="359.83" cy="589.2" r="3.25" fill="#505050"/>
<line x1="98.2" y1="573.9" x2="98.2" y2="639.9" stroke="#6f8fb4" stroke-width="1.3"/>
<line x1="95.7" y1="573.9" x2="100.7" y2="573.9" stroke="#6f8fb4" stroke-width="1.3"/>
<line x1="95.7" y1="639.9" x2="100.7" y2="639.9" stroke="#6f8fb4" stroke-width="1.3"/>
<line x1="127.27" y1="560.3" x2="127.27" y2="596.3" stroke="#6f8fb4" stroke-width="1.3"/>
<line x1="124.77" y1="560.3" x2="129.77" y2="560.3" stroke="#6f8fb4" stroke-width="1.3"/>
<line x1="124.77" y1="596.3" x2="129.77" y2="596.3" stroke="#6f8fb4" stroke-width="1.3"/>
<line x1="156.34" y1="558.1" x2="156.34" y2="590.1" stroke="#6f8fb4" stroke-width="1.3"/>
<line x1="153.84" y1="558.1" x2="158.84" y2="558.1" stroke="#6f8fb4" stroke-width="1.3"/>
<line x1="153.84" y1="590.1" x2="158.84" y2="590.1" stroke="#6f8fb4" stroke-width="1.3"/>
<line x1="185.41" y1="568.5" x2="185.41" y2="596.5" stroke="#6f8fb4" stroke-width="1.3"/>
<line x1="182.91" y1="568.5" x2="187.91" y2="568.5" stroke="#6f8fb4" stroke-width="1.3"/>
<line x1="182.91" y1="596.5" x2="187.91" y2="596.5" stroke="#6f8fb4" stroke-width="1.3"/>
<line x1="214.48" y1="543.2" x2="214.48" y2="575.2" stroke="#6f8fb4" stroke-width="1.3"/>
<line x1="211.98" y1="543.2" x2="216.98" y2="543.2" stroke="#6f8fb4" stroke-width="1.3"/>
<line x1="211.98" y1="575.2" x2="216.98" y2="575.2" stroke="#6f8fb4" stroke-width="1.3"/>
<line x1="243.55" y1="541.1" x2="243.55" y2="569.1" stroke="#6f8fb4" stroke-width="1.3"/>
<line x1="241.05" y1="541.1" x2="246.05" y2="541.1" stroke="#6f8fb4" stroke-width="1.3"/>
<line x1="241.05" y1="569.1" x2="246.05" y2="569.1" stroke="#6f8fb4" stroke-width="1.3"/>
<line x1="272.62" y1="552.4" x2="272.62" y2="588.4" stroke="#6f8fb4" stroke-width="1.3"/>
<line x1="270.12" y1="552.4" x2="275.12" y2="552.4" stroke="#6f8fb4" stroke-width="1.3"/>
<line x1="270.12" y1="588.4" x2="275.12" y2="588.4" stroke="#6f8fb4" stroke-width="1.3"/>
<line x1="301.69" y1="566.5" x2="301.69" y2="606.5" stroke="#6f8fb4" stroke-width="1.3"/>
<line x1="299.19" y1="566.5" x2="304.19" y2="566.5" stroke="#6f8fb4" stroke-width="1.3"/>
<line x1="299.19" y1="606.5" x2="304.19" y2="606.5" stroke="#6f8fb4" stroke-width="1.3"/>
<line x1="330.76" y1="539.2" x2="330.76" y2="579.2" stroke="#6f8fb4" stroke-width="1.3"/>
<line x1="328.26" y1="539.2" x2="333.26" y2="539.2" stroke="#6f8fb4" stroke-width="1.3"/>
<line x1="328.26" y1="579.2" x2="333.26" y2="579.2" stroke="#6f8fb4" stroke-width="1.3"/>
<line x1="359.83" y1="580.9" x2="359.83" y2="644.9" stroke="#6f8fb4" stroke-width="1.3"/>
<line x1="357.33" y1="580.9" x2="362.33" y2="580.9" stroke="#6f8fb4" stroke-width="1.3"/>
<line x1="357.33" y1="644.9" x2="362.33" y2="644.9" stroke="#6f8fb4" stroke-width="1.3"/>
<polyline points="98.2,606.9 127.27,578.3 156.34,574.1 185.41,582.5 214.48,559.2 243.55,555.1 272.62,570.4 301.69,586.5 330.76,559.2 359.83,612.9" fill="none" stroke="#5a9bdb" stroke-width="2.5" stroke-linejoin="round"/>
<rect x="94.95" y="603.65" width="6.5" height="6.5" fill="#5a9bdb"/>
<rect x="124.02" y="575.05" width="6.5" height="6.5" fill="#5a9bdb"/>
<rect x="153.09" y="570.85" width="6.5" height="6.5" fill="#5a9bdb"/>
<rect x="182.16" y="579.25" width="6.5" height="6.5" fill="#5a9bdb"/>
<rect x="211.23" y="555.95" width="6.5" height="6.5" fill="#5a9bdb"/>
<rect x="240.3" y="551.85" width="6.5" height="6.5" fill="#5a9bdb"/>
<rect x="269.37" y="567.15" width="6.5" height="6.5" fill="#5a9bdb"/>
<rect x="298.44" y="583.25" width="6.5" height="6.5" fill="#5a9bdb"/>
<rect x="327.51" y="555.95" width="6.5" height="6.5" fill="#5a9bdb"/>
<rect x="356.58" y="609.65" width="6.5" height="6.5" fill="#5a9bdb"/>
<line x1="98.2" y1="621.6" x2="98.2" y2="649.6" stroke="#b8966e" stroke-width="1.3"/>
<line x1="95.7" y1="621.6" x2="100.7" y2="621.6" stroke="#b8966e" stroke-width="1.3"/>
<line x1="95.7" y1="649.6" x2="100.7" y2="649.6" stroke="#b8966e" stroke-width="1.3"/>
<line x1="127.27" y1="573.6" x2="127.27" y2="617.6" stroke="#b8966e" stroke-width="1.3"/>
<line x1="124.77" y1="573.6" x2="129.77" y2="573.6" stroke="#b8966e" stroke-width="1.3"/>
<line x1="124.77" y1="617.6" x2="129.77" y2="617.6" stroke="#b8966e" stroke-width="1.3"/>
<line x1="156.34" y1="570.1" x2="156.34" y2="602.1" stroke="#b8966e" stroke-width="1.3"/>
<line x1="153.84" y1="570.1" x2="158.84" y2="570.1" stroke="#b8966e" stroke-width="1.3"/>
<line x1="153.84" y1="602.1" x2="158.84" y2="602.1" stroke="#b8966e" stroke-width="1.3"/>
<line x1="185.41" y1="570.1" x2="185.41" y2="602.1" stroke="#b8966e" stroke-width="1.3"/>
<line x1="182.91" y1="570.1" x2="187.91" y2="570.1" stroke="#b8966e" stroke-width="1.3"/>
<line x1="182.91" y1="602.1" x2="187.91" y2="602.1" stroke="#b8966e" stroke-width="1.3"/>
<line x1="214.48" y1="570.1" x2="214.48" y2="602.1" stroke="#b8966e" stroke-width="1.3"/>
<line x1="211.98" y1="570.1" x2="216.98" y2="570.1" stroke="#b8966e" stroke-width="1.3"/>
<line x1="211.98" y1="602.1" x2="216.98" y2="602.1" stroke="#b8966e" stroke-width="1.3"/>
<line x1="243.55" y1="558.3" x2="243.55" y2="598.3" stroke="#b8966e" stroke-width="1.3"/>
<line x1="241.05" y1="558.3" x2="246.05" y2="558.3" stroke="#b8966e" stroke-width="1.3"/>
<line x1="241.05" y1="598.3" x2="246.05" y2="598.3" stroke="#b8966e" stroke-width="1.3"/>
<line x1="272.62" y1="573.6" x2="272.62" y2="617.6" stroke="#b8966e" stroke-width="1.3"/>
<line x1="270.12" y1="573.6" x2="275.12" y2="573.6" stroke="#b8966e" stroke-width="1.3"/>
<line x1="270.12" y1="617.6" x2="275.12" y2="617.6" stroke="#b8966e" stroke-width="1.3"/>
<line x1="301.69" y1="574" x2="301.69" y2="628" stroke="#b8966e" stroke-width="1.3"/>
<line x1="299.19" y1="574" x2="304.19" y2="574" stroke="#b8966e" stroke-width="1.3"/>
<line x1="299.19" y1="628" x2="304.19" y2="628" stroke="#b8966e" stroke-width="1.3"/>
<line x1="330.76" y1="551.9" x2="330.76" y2="591.9" stroke="#b8966e" stroke-width="1.3"/>
<line x1="328.26" y1="551.9" x2="333.26" y2="551.9" stroke="#b8966e" stroke-width="1.3"/>
<line x1="328.26" y1="591.9" x2="333.26" y2="591.9" stroke="#b8966e" stroke-width="1.3"/>
<line x1="359.83" y1="574.3" x2="359.83" y2="602.3" stroke="#b8966e" stroke-width="1.3"/>
<line x1="357.33" y1="574.3" x2="362.33" y2="574.3" stroke="#b8966e" stroke-width="1.3"/>
<line x1="357.33" y1="602.3" x2="362.33" y2="602.3" stroke="#b8966e" stroke-width="1.3"/>
<polyline points="98.2,635.6 127.27,595.6 156.34,586.1 185.41,586.1 214.48,586.1 243.55,578.3 272.62,595.6 301.69,601 330.76,571.9 359.83,588.3" fill="none" stroke="#e9a55e" stroke-width="2.5" stroke-linejoin="round"/>
<polygon points="94.95,632.68 101.45,632.68 98.2,638.52" fill="#e9a55e"/>
<polygon points="124.02,592.68 130.52,592.68 127.27,598.52" fill="#e9a55e"/>
<polygon points="153.09,583.18 159.59,583.18 156.34,589.02" fill="#e9a55e"/>
<polygon points="182.16,583.18 188.66,583.18 185.41,589.02" fill="#e9a55e"/>
<polygon points="211.23,583.18 217.73,583.18 214.48,589.02" fill="#e9a55e"/>
<polygon points="240.3,575.38 246.8,575.38 243.55,581.22" fill="#e9a55e"/>
<polygon points="269.37,592.68 275.87,592.68 272.62,598.52" fill="#e9a55e"/>
<polygon points="298.44,598.08 304.94,598.08 301.69,603.92" fill="#e9a55e"/>
<polygon points="327.51,568.98 334.01,568.98 330.76,574.82" fill="#e9a55e"/>
<polygon points="356.58,585.38 363.08,585.38 359.83,591.22" fill="#e9a55e"/>
<line x1="98.2" y1="630.9" x2="98.2" y2="654.9" stroke="#7a4a98" stroke-width="1.3"/>
<line x1="95.7" y1="630.9" x2="100.7" y2="630.9" stroke="#7a4a98" stroke-width="1.3"/>
<line x1="95.7" y1="654.9" x2="100.7" y2="654.9" stroke="#7a4a98" stroke-width="1.3"/>
<line x1="127.27" y1="562.1" x2="127.27" y2="598.1" stroke="#7a4a98" stroke-width="1.3"/>
<line x1="124.77" y1="562.1" x2="129.77" y2="562.1" stroke="#7a4a98" stroke-width="1.3"/>
<line x1="124.77" y1="598.1" x2="129.77" y2="598.1" stroke="#7a4a98" stroke-width="1.3"/>
<line x1="156.34" y1="563" x2="156.34" y2="591" stroke="#7a4a98" stroke-width="1.3"/>
<line x1="153.84" y1="563" x2="158.84" y2="563" stroke="#7a4a98" stroke-width="1.3"/>
<line x1="153.84" y1="591" x2="158.84" y2="591" stroke="#7a4a98" stroke-width="1.3"/>
<line x1="185.41" y1="558.8" x2="185.41" y2="586.8" stroke="#7a4a98" stroke-width="1.3"/>
<line x1="182.91" y1="558.8" x2="187.91" y2="558.8" stroke="#7a4a98" stroke-width="1.3"/>
<line x1="182.91" y1="586.8" x2="187.91" y2="586.8" stroke="#7a4a98" stroke-width="1.3"/>
<line x1="214.48" y1="553.9" x2="214.48" y2="581.9" stroke="#7a4a98" stroke-width="1.3"/>
<line x1="211.98" y1="553.9" x2="216.98" y2="553.9" stroke="#7a4a98" stroke-width="1.3"/>
<line x1="211.98" y1="581.9" x2="216.98" y2="581.9" stroke="#7a4a98" stroke-width="1.3"/>
<line x1="243.55" y1="534.8" x2="243.55" y2="582.8" stroke="#7a4a98" stroke-width="1.3"/>
<line x1="241.05" y1="534.8" x2="246.05" y2="534.8" stroke="#7a4a98" stroke-width="1.3"/>
<line x1="241.05" y1="582.8" x2="246.05" y2="582.8" stroke="#7a4a98" stroke-width="1.3"/>
<line x1="272.62" y1="540" x2="272.62" y2="580" stroke="#7a4a98" stroke-width="1.3"/>
<line x1="270.12" y1="540" x2="275.12" y2="540" stroke="#7a4a98" stroke-width="1.3"/>
<line x1="270.12" y1="580" x2="275.12" y2="580" stroke="#7a4a98" stroke-width="1.3"/>
<line x1="301.69" y1="543.3" x2="301.69" y2="579.3" stroke="#7a4a98" stroke-width="1.3"/>
<line x1="299.19" y1="543.3" x2="304.19" y2="543.3" stroke="#7a4a98" stroke-width="1.3"/>
<line x1="299.19" y1="579.3" x2="304.19" y2="579.3" stroke="#7a4a98" stroke-width="1.3"/>
<line x1="330.76" y1="526.2" x2="330.76" y2="550.2" stroke="#7a4a98" stroke-width="1.3"/>
<line x1="328.26" y1="526.2" x2="333.26" y2="526.2" stroke="#7a4a98" stroke-width="1.3"/>
<line x1="328.26" y1="550.2" x2="333.26" y2="550.2" stroke="#7a4a98" stroke-width="1.3"/>
<line x1="359.83" y1="544.8" x2="359.83" y2="588.8" stroke="#7a4a98" stroke-width="1.3"/>
<line x1="357.33" y1="544.8" x2="362.33" y2="544.8" stroke="#7a4a98" stroke-width="1.3"/>
<line x1="357.33" y1="588.8" x2="362.33" y2="588.8" stroke="#7a4a98" stroke-width="1.3"/>
<polyline points="98.2,642.9 127.27,580.1 156.34,577 185.41,572.8 214.48,567.9 243.55,558.8 272.62,560 301.69,561.3 330.76,538.2 359.83,566.8" fill="none" stroke="#801abc" stroke-width="2.5" stroke-linejoin="round"/>
<polygon points="94.95,639.98 101.45,639.98 98.2,645.82" fill="#801abc"/>
<polygon points="124.02,577.18 130.52,577.18 127.27,583.02" fill="#801abc"/>
<polygon points="153.09,574.08 159.59,574.08 156.34,579.92" fill="#801abc"/>
<polygon points="182.16,569.88 188.66,569.88 185.41,575.72" fill="#801abc"/>
<polygon points="211.23,564.98 217.73,564.98 214.48,570.82" fill="#801abc"/>
<polygon points="240.3,555.88 246.8,555.88 243.55,561.72" fill="#801abc"/>
<polygon points="269.37,557.08 275.87,557.08 272.62,562.92" fill="#801abc"/>
<polygon points="298.44,558.38 304.94,558.38 301.69,564.22" fill="#801abc"/>
<polygon points="327.51,535.28 334.01,535.28 330.76,541.12" fill="#801abc"/>
<polygon points="356.58,563.88 363.08,563.88 359.83,569.72" fill="#801abc"/>
<line x1="79" y1="525.5" x2="79" y2="867.2" stroke="#111" stroke-width="2"/>
<line x1="78" y1="866.2" x2="378" y2="866.2" stroke="#111" stroke-width="2"/>
<line x1="70.5" y1="866.2" x2="79" y2="866.2" stroke="#111" stroke-width="2"/>
<text x="67.5" y="871.4" font-size="14.5" text-anchor="end" font-weight="bold" fill="#111" >0</text>
<line x1="70.5" y1="828.37" x2="79" y2="828.37" stroke="#111" stroke-width="2"/>
<text x="67.5" y="833.57" font-size="14.5" text-anchor="end" font-weight="bold" fill="#111" >20</text>
<line x1="70.5" y1="790.53" x2="79" y2="790.53" stroke="#111" stroke-width="2"/>
<text x="67.5" y="795.73" font-size="14.5" text-anchor="end" font-weight="bold" fill="#111" >40</text>
<line x1="70.5" y1="752.7" x2="79" y2="752.7" stroke="#111" stroke-width="2"/>
<text x="67.5" y="757.9" font-size="14.5" text-anchor="end" font-weight="bold" fill="#111" >60</text>
<line x1="70.5" y1="714.86" x2="79" y2="714.86" stroke="#111" stroke-width="2"/>
<text x="67.5" y="720.06" font-size="14.5" text-anchor="end" font-weight="bold" fill="#111" >80</text>
<line x1="70.5" y1="677.03" x2="79" y2="677.03" stroke="#111" stroke-width="2"/>
<text x="67.5" y="682.23" font-size="14.5" text-anchor="end" font-weight="bold" fill="#111" >100</text>
<line x1="70.5" y1="639.2" x2="79" y2="639.2" stroke="#111" stroke-width="2"/>
<text x="67.5" y="644.4" font-size="14.5" text-anchor="end" font-weight="bold" fill="#111" >120</text>
<line x1="70.5" y1="601.36" x2="79" y2="601.36" stroke="#111" stroke-width="2"/>
<text x="67.5" y="606.56" font-size="14.5" text-anchor="end" font-weight="bold" fill="#111" >140</text>
<line x1="70.5" y1="563.53" x2="79" y2="563.53" stroke="#111" stroke-width="2"/>
<text x="67.5" y="568.73" font-size="14.5" text-anchor="end" font-weight="bold" fill="#111" >160</text>
<line x1="70.5" y1="525.69" x2="79" y2="525.69" stroke="#111" stroke-width="2"/>
<text x="67.5" y="530.89" font-size="14.5" text-anchor="end" font-weight="bold" fill="#111" >180</text>
<line x1="98.2" y1="866.2" x2="98.2" y2="874.7" stroke="#111" stroke-width="2"/>
<text x="98.2" y="890.2" font-size="14.5" text-anchor="middle" font-weight="bold" fill="#111" >0</text>
<line x1="127.27" y1="866.2" x2="127.27" y2="874.7" stroke="#111" stroke-width="2"/>
<text x="127.27" y="890.2" font-size="14.5" text-anchor="middle" font-weight="bold" fill="#111" >5</text>
<line x1="156.34" y1="866.2" x2="156.34" y2="874.7" stroke="#111" stroke-width="2"/>
<text x="156.34" y="890.2" font-size="14.5" text-anchor="middle" font-weight="bold" fill="#111" >9</text>
<line x1="185.41" y1="866.2" x2="185.41" y2="874.7" stroke="#111" stroke-width="2"/>
<text x="185.41" y="890.2" font-size="14.5" text-anchor="middle" font-weight="bold" fill="#111" >13</text>
<line x1="214.48" y1="866.2" x2="214.48" y2="874.7" stroke="#111" stroke-width="2"/>
<text x="214.48" y="890.2" font-size="14.5" text-anchor="middle" font-weight="bold" fill="#111" >17</text>
<line x1="243.55" y1="866.2" x2="243.55" y2="874.7" stroke="#111" stroke-width="2"/>
<text x="243.55" y="890.2" font-size="14.5" text-anchor="middle" font-weight="bold" fill="#111" >21</text>
<line x1="272.62" y1="866.2" x2="272.62" y2="874.7" stroke="#111" stroke-width="2"/>
<text x="272.62" y="890.2" font-size="14.5" text-anchor="middle" font-weight="bold" fill="#111" >25</text>
<line x1="301.69" y1="866.2" x2="301.69" y2="874.7" stroke="#111" stroke-width="2"/>
<text x="301.69" y="890.2" font-size="14.5" text-anchor="middle" font-weight="bold" fill="#111" >29</text>
<line x1="330.76" y1="866.2" x2="330.76" y2="874.7" stroke="#111" stroke-width="2"/>
<text x="330.76" y="890.2" font-size="14.5" text-anchor="middle" font-weight="bold" fill="#111" >33</text>
<line x1="359.83" y1="866.2" x2="359.83" y2="874.7" stroke="#111" stroke-width="2"/>
<text x="359.83" y="890.2" font-size="14.5" text-anchor="middle" font-weight="bold" fill="#111" >39</text>
<text x="273.3" y="927" font-size="16.5" text-anchor="middle" font-weight="bold" fill="#111" >Time (weeks)</text>
<text transform="translate(32.1,695.7) rotate(-90)" x="0" y="0" font-size="16.4" text-anchor="middle" font-weight="bold" fill="#111">Heart rate (beats/min)</text>
<text x="12.6" y="525" font-size="32" text-anchor="start" font-weight="bold" fill="#000" >D</text>
<rect x="702.5" y="510.6" width="122.6" height="356.5" fill="#d4d4d4"/>
<rect x="536" y="813" width="166" height="53" fill="#fcfcfc"/>
<rect x="536" y="813" width="166" height="17.67" fill="#f7f7f7"/>
<rect x="536" y="848.33" width="166" height="17.67" fill="#f9f9f9"/>
<g transform="translate(538.4,823.1) scale(1.199,1)"><text x="0" y="0" font-size="6.6" fill="#5a5a5a">0.015mg/kg vs vehicle</text></g>
<g transform="translate(653.3,823.1) scale(1.199,1)"><text x="0" y="0" font-size="6.6" fill="#5a5a5a">0.268</text></g>
<g transform="translate(538.4,841.8) scale(1.199,1)"><text x="0" y="0" font-size="6.6" fill="#5a5a5a">0.15mg/kg vs vehicle</text></g>
<g transform="translate(653.3,841.8) scale(1.199,1)"><text x="0" y="0" font-size="6.6" fill="#5a5a5a">0.239</text></g>
<g transform="translate(538.4,856.3) scale(1.199,1)"><text x="0" y="0" font-size="6.6" fill="#5a5a5a">3mg/kg vs vehicle</text></g>
<g transform="translate(653.3,856.3) scale(1.199,1)"><text x="0" y="0" font-size="6.6" fill="#5a5a5a">0.817</text></g>
<text x="629.5" y="780.5" font-size="15" text-anchor="middle" font-weight="normal" fill="#2e2e2e" >p-value</text>
<line x1="557" y1="794.4" x2="703.6" y2="794.4" stroke="#9a9a9a" stroke-width="1.3" stroke-dasharray="4.5 3.5"/>
<text x="726.4" y="858.8" font-size="18.5" text-anchor="start" font-weight="normal" fill="#1a1a1a" >washout</text>
<line x1="554.4" y1="658.3" x2="554.4" y2="678.3" stroke="#5e5e5e" stroke-width="1.3"/>
<line x1="551.9" y1="658.3" x2="556.9" y2="658.3" stroke="#5e5e5e" stroke-width="1.3"/>
<line x1="551.9" y1="678.3" x2="556.9" y2="678.3" stroke="#5e5e5e" stroke-width="1.3"/>
<line x1="584.48" y1="664.1" x2="584.48" y2="680.1" stroke="#5e5e5e" stroke-width="1.3"/>
<line x1="581.98" y1="664.1" x2="586.98" y2="664.1" stroke="#5e5e5e" stroke-width="1.3"/>
<line x1="581.98" y1="680.1" x2="586.98" y2="680.1" stroke="#5e5e5e" stroke-width="1.3"/>
<line x1="614.56" y1="650.1" x2="614.56" y2="670.1" stroke="#5e5e5e" stroke-width="1.3"/>
<line x1="612.06" y1="650.1" x2="617.06" y2="650.1" stroke="#5e5e5e" stroke-width="1.3"/>
<line x1="612.06" y1="670.1" x2="617.06" y2="670.1" stroke="#5e5e5e" stroke-width="1.3"/>
<line x1="644.64" y1="647.9" x2="644.64" y2="667.9" stroke="#5e5e5e" stroke-width="1.3"/>
<line x1="642.14" y1="647.9" x2="647.14" y2="647.9" stroke="#5e5e5e" stroke-width="1.3"/>
<line x1="642.14" y1="667.9" x2="647.14" y2="667.9" stroke="#5e5e5e" stroke-width="1.3"/>
<line x1="674.72" y1="651.4" x2="674.72" y2="671.4" stroke="#5e5e5e" stroke-width="1.3"/>
<line x1="672.22" y1="651.4" x2="677.22" y2="651.4" stroke="#5e5e5e" stroke-width="1.3"/>
<line x1="672.22" y1="671.4" x2="677.22" y2="671.4" stroke="#5e5e5e" stroke-width="1.3"/>
<line x1="704.8" y1="651.4" x2="704.8" y2="671.4" stroke="#5e5e5e" stroke-width="1.3"/>
<line x1="702.3" y1="651.4" x2="707.3" y2="651.4" stroke="#5e5e5e" stroke-width="1.3"/>
<line x1="702.3" y1="671.4" x2="707.3" y2="671.4" stroke="#5e5e5e" stroke-width="1.3"/>
<line x1="734.88" y1="642.5" x2="734.88" y2="662.5" stroke="#5e5e5e" stroke-width="1.3"/>
<line x1="732.38" y1="642.5" x2="737.38" y2="642.5" stroke="#5e5e5e" stroke-width="1.3"/>
<line x1="732.38" y1="662.5" x2="737.38" y2="662.5" stroke="#5e5e5e" stroke-width="1.3"/>
<line x1="764.96" y1="646.1" x2="764.96" y2="662.1" stroke="#5e5e5e" stroke-width="1.3"/>
<line x1="762.46" y1="646.1" x2="767.46" y2="646.1" stroke="#5e5e5e" stroke-width="1.3"/>
<line x1="762.46" y1="662.1" x2="767.46" y2="662.1" stroke="#5e5e5e" stroke-width="1.3"/>
<line x1="795.04" y1="658.8" x2="795.04" y2="674.8" stroke="#5e5e5e" stroke-width="1.3"/>
<line x1="792.54" y1="658.8" x2="797.54" y2="658.8" stroke="#5e5e5e" stroke-width="1.3"/>
<line x1="792.54" y1="674.8" x2="797.54" y2="674.8" stroke="#5e5e5e" stroke-width="1.3"/>
<line x1="825.12" y1="634.8" x2="825.12" y2="658.8" stroke="#5e5e5e" stroke-width="1.3"/>
<line x1="822.62" y1="634.8" x2="827.62" y2="634.8" stroke="#5e5e5e" stroke-width="1.3"/>
<line x1="822.62" y1="658.8" x2="827.62" y2="658.8" stroke="#5e5e5e" stroke-width="1.3"/>
<polyline points="554.4,668.3 584.48,672.1 614.56,660.1 644.64,657.9 674.72,661.4 704.8,661.4 734.88,652.5 764.96,654.1 795.04,666.8 825.12,646.8" fill="none" stroke="#505050" stroke-width="2.6" stroke-linejoin="round"/>
<circle cx="554.4" cy="668.3" r="3.25" fill="#505050"/>
<circle cx="584.48" cy="672.1" r="3.25" fill="#505050"/>
<circle cx="614.56" cy="660.1" r="3.25" fill="#505050"/>
<circle cx="644.64" cy="657.9" r="3.25" fill="#505050"/>
<circle cx="674.72" cy="661.4" r="3.25" fill="#505050"/>
<circle cx="704.8" cy="661.4" r="3.25" fill="#505050"/>
<circle cx="734.88" cy="652.5" r="3.25" fill="#505050"/>
<circle cx="764.96" cy="654.1" r="3.25" fill="#505050"/>
<circle cx="795.04" cy="666.8" r="3.25" fill="#505050"/>
<circle cx="825.12" cy="646.8" r="3.25" fill="#505050"/>
<line x1="554.4" y1="657.6" x2="554.4" y2="681.6" stroke="#6f8fb4" stroke-width="1.3"/>
<line x1="551.9" y1="657.6" x2="556.9" y2="657.6" stroke="#6f8fb4" stroke-width="1.3"/>
<line x1="551.9" y1="681.6" x2="556.9" y2="681.6" stroke="#6f8fb4" stroke-width="1.3"/>
<line x1="584.48" y1="654.6" x2="584.48" y2="670.6" stroke="#6f8fb4" stroke-width="1.3"/>
<line x1="581.98" y1="654.6" x2="586.98" y2="654.6" stroke="#6f8fb4" stroke-width="1.3"/>
<line x1="581.98" y1="670.6" x2="586.98" y2="670.6" stroke="#6f8fb4" stroke-width="1.3"/>
<line x1="614.56" y1="661.1" x2="614.56" y2="673.1" stroke="#6f8fb4" stroke-width="1.3"/>
<line x1="612.06" y1="661.1" x2="617.06" y2="661.1" stroke="#6f8fb4" stroke-width="1.3"/>
<line x1="612.06" y1="673.1" x2="617.06" y2="673.1" stroke="#6f8fb4" stroke-width="1.3"/>
<line x1="644.64" y1="661" x2="644.64" y2="677" stroke="#6f8fb4" stroke-width="1.3"/>
<line x1="642.14" y1="661" x2="647.14" y2="661" stroke="#6f8fb4" stroke-width="1.3"/>
<line x1="642.14" y1="677" x2="647.14" y2="677" stroke="#6f8fb4" stroke-width="1.3"/>
<line x1="674.72" y1="676.9" x2="674.72" y2="688.9" stroke="#6f8fb4" stroke-width="1.3"/>
<line x1="672.22" y1="676.9" x2="677.22" y2="676.9" stroke="#6f8fb4" stroke-width="1.3"/>
<line x1="672.22" y1="688.9" x2="677.22" y2="688.9" stroke="#6f8fb4" stroke-width="1.3"/>
<line x1="704.8" y1="676.9" x2="704.8" y2="688.9" stroke="#6f8fb4" stroke-width="1.3"/>
<line x1="702.3" y1="676.9" x2="707.3" y2="676.9" stroke="#6f8fb4" stroke-width="1.3"/>
<line x1="702.3" y1="688.9" x2="707.3" y2="688.9" stroke="#6f8fb4" stroke-width="1.3"/>
<line x1="734.88" y1="653.3" x2="734.88" y2="673.3" stroke="#6f8fb4" stroke-width="1.3"/>
<line x1="732.38" y1="653.3" x2="737.38" y2="653.3" stroke="#6f8fb4" stroke-width="1.3"/>
<line x1="732.38" y1="673.3" x2="737.38" y2="673.3" stroke="#6f8fb4" stroke-width="1.3"/>
<line x1="764.96" y1="673.1" x2="764.96" y2="685.1" stroke="#6f8fb4" stroke-width="1.3"/>
<line x1="762.46" y1="673.1" x2="767.46" y2="673.1" stroke="#6f8fb4" stroke-width="1.3"/>
<line x1="762.46" y1="685.1" x2="767.46" y2="685.1" stroke="#6f8fb4" stroke-width="1.3"/>
<line x1="795.04" y1="675.6" x2="795.04" y2="687.6" stroke="#6f8fb4" stroke-width="1.3"/>
<line x1="792.54" y1="675.6" x2="797.54" y2="675.6" stroke="#6f8fb4" stroke-width="1.3"/>
<line x1="792.54" y1="687.6" x2="797.54" y2="687.6" stroke="#6f8fb4" stroke-width="1.3"/>
<line x1="825.12" y1="673" x2="825.12" y2="689" stroke="#6f8fb4" stroke-width="1.3"/>
<line x1="822.62" y1="673" x2="827.62" y2="673" stroke="#6f8fb4" stroke-width="1.3"/>
<line x1="822.62" y1="689" x2="827.62" y2="689" stroke="#6f8fb4" stroke-width="1.3"/>
<polyline points="554.4,669.6 584.48,662.6 614.56,667.1 644.64,669 674.72,682.9 704.8,682.9 734.88,663.3 764.96,679.1 795.04,681.6 825.12,681" fill="none" stroke="#5a9bdb" stroke-width="2.6" stroke-linejoin="round"/>
<rect x="551.15" y="666.35" width="6.5" height="6.5" fill="#5a9bdb"/>
<rect x="581.23" y="659.35" width="6.5" height="6.5" fill="#5a9bdb"/>
<rect x="611.31" y="663.85" width="6.5" height="6.5" fill="#5a9bdb"/>
<rect x="641.39" y="665.75" width="6.5" height="6.5" fill="#5a9bdb"/>
<rect x="671.47" y="679.65" width="6.5" height="6.5" fill="#5a9bdb"/>
<rect x="701.55" y="679.65" width="6.5" height="6.5" fill="#5a9bdb"/>
<rect x="731.63" y="660.05" width="6.5" height="6.5" fill="#5a9bdb"/>
<rect x="761.71" y="675.85" width="6.5" height="6.5" fill="#5a9bdb"/>
<rect x="791.79" y="678.35" width="6.5" height="6.5" fill="#5a9bdb"/>
<rect x="821.87" y="677.75" width="6.5" height="6.5" fill="#5a9bdb"/>
<line x1="554.4" y1="651.9" x2="554.4" y2="689.9" stroke="#b8966e" stroke-width="1.3"/>
<line x1="551.9" y1="651.9" x2="556.9" y2="651.9" stroke="#b8966e" stroke-width="1.3"/>
<line x1="551.9" y1="689.9" x2="556.9" y2="689.9" stroke="#b8966e" stroke-width="1.3"/>
<line x1="584.48" y1="646.9" x2="584.48" y2="666.9" stroke="#b8966e" stroke-width="1.3"/>
<line x1="581.98" y1="646.9" x2="586.98" y2="646.9" stroke="#b8966e" stroke-width="1.3"/>
<line x1="581.98" y1="666.9" x2="586.98" y2="666.9" stroke="#b8966e" stroke-width="1.3"/>
<line x1="614.56" y1="624.6" x2="614.56" y2="648.6" stroke="#b8966e" stroke-width="1.3"/>
<line x1="612.06" y1="624.6" x2="617.06" y2="624.6" stroke="#b8966e" stroke-width="1.3"/>
<line x1="612.06" y1="648.6" x2="617.06" y2="648.6" stroke="#b8966e" stroke-width="1.3"/>
<line x1="644.64" y1="634.1" x2="644.64" y2="658.1" stroke="#b8966e" stroke-width="1.3"/>
<line x1="642.14" y1="634.1" x2="647.14" y2="634.1" stroke="#b8966e" stroke-width="1.3"/>
<line x1="642.14" y1="658.1" x2="647.14" y2="658.1" stroke="#b8966e" stroke-width="1.3"/>
<line x1="674.72" y1="638" x2="674.72" y2="658" stroke="#b8966e" stroke-width="1.3"/>
<line x1="672.22" y1="638" x2="677.22" y2="638" stroke="#b8966e" stroke-width="1.3"/>
<line x1="672.22" y1="658" x2="677.22" y2="658" stroke="#b8966e" stroke-width="1.3"/>
<line x1="704.8" y1="640" x2="704.8" y2="656" stroke="#b8966e" stroke-width="1.3"/>
<line x1="702.3" y1="640" x2="707.3" y2="640" stroke="#b8966e" stroke-width="1.3"/>
<line x1="702.3" y1="656" x2="707.3" y2="656" stroke="#b8966e" stroke-width="1.3"/>
<line x1="734.88" y1="648.2" x2="734.88" y2="668.2" stroke="#b8966e" stroke-width="1.3"/>
<line x1="732.38" y1="648.2" x2="737.38" y2="648.2" stroke="#b8966e" stroke-width="1.3"/>
<line x1="732.38" y1="668.2" x2="737.38" y2="668.2" stroke="#b8966e" stroke-width="1.3"/>
<line x1="764.96" y1="654.5" x2="764.96" y2="674.5" stroke="#b8966e" stroke-width="1.3"/>
<line x1="762.46" y1="654.5" x2="767.46" y2="654.5" stroke="#b8966e" stroke-width="1.3"/>
<line x1="762.46" y1="674.5" x2="767.46" y2="674.5" stroke="#b8966e" stroke-width="1.3"/>
<line x1="795.04" y1="655.3" x2="795.04" y2="671.3" stroke="#b8966e" stroke-width="1.3"/>
<line x1="792.54" y1="655.3" x2="797.54" y2="655.3" stroke="#b8966e" stroke-width="1.3"/>
<line x1="792.54" y1="671.3" x2="797.54" y2="671.3" stroke="#b8966e" stroke-width="1.3"/>
<line x1="825.12" y1="625.4" x2="825.12" y2="645.4" stroke="#b8966e" stroke-width="1.3"/>
<line x1="822.62" y1="625.4" x2="827.62" y2="625.4" stroke="#b8966e" stroke-width="1.3"/>
<line x1="822.62" y1="645.4" x2="827.62" y2="645.4" stroke="#b8966e" stroke-width="1.3"/>
<polyline points="554.4,670.9 584.48,656.9 614.56,636.6 644.64,646.1 674.72,648 704.8,648 734.88,658.2 764.96,664.5 795.04,663.3 825.12,635.4" fill="none" stroke="#e9a55e" stroke-width="2.6" stroke-linejoin="round"/>
<polygon points="551.15,667.98 557.65,667.98 554.4,673.82" fill="#e9a55e"/>
<polygon points="581.23,653.98 587.73,653.98 584.48,659.82" fill="#e9a55e"/>
<polygon points="611.31,633.68 617.81,633.68 614.56,639.52" fill="#e9a55e"/>
<polygon points="641.39,643.18 647.89,643.18 644.64,649.02" fill="#e9a55e"/>
<polygon points="671.47,645.08 677.97,645.08 674.72,650.92" fill="#e9a55e"/>
<polygon points="701.55,645.08 708.05,645.08 704.8,650.92" fill="#e9a55e"/>
<polygon points="731.63,655.28 738.13,655.28 734.88,661.12" fill="#e9a55e"/>
<polygon points="761.71,661.58 768.21,661.58 764.96,667.42" fill="#e9a55e"/>
<polygon points="791.79,660.38 798.29,660.38 795.04,666.22" fill="#e9a55e"/>
<polygon points="821.87,632.48 828.37,632.48 825.12,638.32" fill="#e9a55e"/>
<line x1="554.4" y1="642.2" x2="554.4" y2="674.2" stroke="#7a4a98" stroke-width="1.3"/>
<line x1="551.9" y1="642.2" x2="556.9" y2="642.2" stroke="#7a4a98" stroke-width="1.3"/>
<line x1="551.9" y1="674.2" x2="556.9" y2="674.2" stroke="#7a4a98" stroke-width="1.3"/>
<line x1="584.48" y1="643" x2="584.48" y2="667" stroke="#7a4a98" stroke-width="1.3"/>
<line x1="581.98" y1="643" x2="586.98" y2="643" stroke="#7a4a98" stroke-width="1.3"/>
<line x1="581.98" y1="667" x2="586.98" y2="667" stroke="#7a4a98" stroke-width="1.3"/>
<line x1="614.56" y1="633.2" x2="614.56" y2="653.2" stroke="#7a4a98" stroke-width="1.3"/>
<line x1="612.06" y1="633.2" x2="617.06" y2="633.2" stroke="#7a4a98" stroke-width="1.3"/>
<line x1="612.06" y1="653.2" x2="617.06" y2="653.2" stroke="#7a4a98" stroke-width="1.3"/>
<line x1="644.64" y1="643.1" x2="644.64" y2="663.1" stroke="#7a4a98" stroke-width="1.3"/>
<line x1="642.14" y1="643.1" x2="647.14" y2="643.1" stroke="#7a4a98" stroke-width="1.3"/>
<line x1="642.14" y1="663.1" x2="647.14" y2="663.1" stroke="#7a4a98" stroke-width="1.3"/>
<line x1="674.72" y1="648.1" x2="674.72" y2="672.1" stroke="#7a4a98" stroke-width="1.3"/>
<line x1="672.22" y1="648.1" x2="677.22" y2="648.1" stroke="#7a4a98" stroke-width="1.3"/>
<line x1="672.22" y1="672.1" x2="677.22" y2="672.1" stroke="#7a4a98" stroke-width="1.3"/>
<line x1="704.8" y1="651.4" x2="704.8" y2="671.4" stroke="#7a4a98" stroke-width="1.3"/>
<line x1="702.3" y1="651.4" x2="707.3" y2="651.4" stroke="#7a4a98" stroke-width="1.3"/>
<line x1="702.3" y1="671.4" x2="707.3" y2="671.4" stroke="#7a4a98" stroke-width="1.3"/>
<line x1="734.88" y1="643.1" x2="734.88" y2="663.1" stroke="#7a4a98" stroke-width="1.3"/>
<line x1="732.38" y1="643.1" x2="737.38" y2="643.1" stroke="#7a4a98" stroke-width="1.3"/>
<line x1="732.38" y1="663.1" x2="737.38" y2="663.1" stroke="#7a4a98" stroke-width="1.3"/>
<line x1="764.96" y1="652.7" x2="764.96" y2="668.7" stroke="#7a4a98" stroke-width="1.3"/>
<line x1="762.46" y1="652.7" x2="767.46" y2="652.7" stroke="#7a4a98" stroke-width="1.3"/>
<line x1="762.46" y1="668.7" x2="767.46" y2="668.7" stroke="#7a4a98" stroke-width="1.3"/>
<line x1="795.04" y1="651.7" x2="795.04" y2="671.7" stroke="#7a4a98" stroke-width="1.3"/>
<line x1="792.54" y1="651.7" x2="797.54" y2="651.7" stroke="#7a4a98" stroke-width="1.3"/>
<line x1="792.54" y1="671.7" x2="797.54" y2="671.7" stroke="#7a4a98" stroke-width="1.3"/>
<line x1="825.12" y1="636.7" x2="825.12" y2="660.7" stroke="#7a4a98" stroke-width="1.3"/>
<line x1="822.62" y1="636.7" x2="827.62" y2="636.7" stroke="#7a4a98" stroke-width="1.3"/>
<line x1="822.62" y1="660.7" x2="827.62" y2="660.7" stroke="#7a4a98" stroke-width="1.3"/>
<polyline points="554.4,658.2 584.48,655 614.56,643.2 644.64,653.1 674.72,660.1 704.8,661.4 734.88,653.1 764.96,660.7 795.04,661.7 825.12,648.7" fill="none" stroke="#801abc" stroke-width="2.6" stroke-linejoin="round"/>
<polygon points="551.15,655.28 557.65,655.28 554.4,661.12" fill="#801abc"/>
<polygon points="581.23,652.08 587.73,652.08 584.48,657.92" fill="#801abc"/>
<polygon points="611.31,640.28 617.81,640.28 614.56,646.12" fill="#801abc"/>
<polygon points="641.39,650.18 647.89,650.18 644.64,656.02" fill="#801abc"/>
<polygon points="671.47,657.18 677.97,657.18 674.72,663.02" fill="#801abc"/>
<polygon points="701.55,658.48 708.05,658.48 704.8,664.32" fill="#801abc"/>
<polygon points="731.63,650.18 738.13,650.18 734.88,656.02" fill="#801abc"/>
<polygon points="761.71,657.78 768.21,657.78 764.96,663.62" fill="#801abc"/>
<polygon points="791.79,658.78 798.29,658.78 795.04,664.62" fill="#801abc"/>
<polygon points="821.87,645.78 828.37,645.78 825.12,651.62" fill="#801abc"/>
<line x1="534.3" y1="515.4" x2="534.3" y2="868.1" stroke="#111" stroke-width="2"/>
<line x1="533.3" y1="867.1" x2="845" y2="867.1" stroke="#111" stroke-width="2"/>
<line x1="525.8" y1="867.1" x2="534.3" y2="867.1" stroke="#111" stroke-width="2"/>
<text x="522.8" y="872.3" font-size="14.5" text-anchor="end" font-weight="bold" fill="#111" >0</text>
<line x1="525.8" y1="749.87" x2="534.3" y2="749.87" stroke="#111" stroke-width="2"/>
<text x="522.8" y="755.07" font-size="14.5" text-anchor="end" font-weight="bold" fill="#111" >50</text>
<line x1="525.8" y1="632.63" x2="534.3" y2="632.63" stroke="#111" stroke-width="2"/>
<text x="522.8" y="637.83" font-size="14.5" text-anchor="end" font-weight="bold" fill="#111" >100</text>
<line x1="525.8" y1="515.39" x2="534.3" y2="515.39" stroke="#111" stroke-width="2"/>
<text x="522.8" y="520.6" font-size="14.5" text-anchor="end" font-weight="bold" fill="#111" >150</text>
<line x1="529.8" y1="855.38" x2="534.3" y2="855.38" stroke="#111" stroke-width="2"/>
<line x1="529.8" y1="843.65" x2="534.3" y2="843.65" stroke="#111" stroke-width="2"/>
<line x1="529.8" y1="831.93" x2="534.3" y2="831.93" stroke="#111" stroke-width="2"/>
<line x1="529.8" y1="820.21" x2="534.3" y2="820.21" stroke="#111" stroke-width="2"/>
<line x1="529.8" y1="808.48" x2="534.3" y2="808.48" stroke="#111" stroke-width="2"/>
<line x1="529.8" y1="796.76" x2="534.3" y2="796.76" stroke="#111" stroke-width="2"/>
<line x1="529.8" y1="785.04" x2="534.3" y2="785.04" stroke="#111" stroke-width="2"/>
<line x1="529.8" y1="773.31" x2="534.3" y2="773.31" stroke="#111" stroke-width="2"/>
<line x1="529.8" y1="761.59" x2="534.3" y2="761.59" stroke="#111" stroke-width="2"/>
<line x1="529.8" y1="738.14" x2="534.3" y2="738.14" stroke="#111" stroke-width="2"/>
<line x1="529.8" y1="726.42" x2="534.3" y2="726.42" stroke="#111" stroke-width="2"/>
<line x1="529.8" y1="714.69" x2="534.3" y2="714.69" stroke="#111" stroke-width="2"/>
<line x1="529.8" y1="702.97" x2="534.3" y2="702.97" stroke="#111" stroke-width="2"/>
<line x1="529.8" y1="691.25" x2="534.3" y2="691.25" stroke="#111" stroke-width="2"/>
<line x1="529.8" y1="679.52" x2="534.3" y2="679.52" stroke="#111" stroke-width="2"/>
<line x1="529.8" y1="667.8" x2="534.3" y2="667.8" stroke="#111" stroke-width="2"/>
<line x1="529.8" y1="656.08" x2="534.3" y2="656.08" stroke="#111" stroke-width="2"/>
<line x1="529.8" y1="644.35" x2="534.3" y2="644.35" stroke="#111" stroke-width="2"/>
<line x1="529.8" y1="620.91" x2="534.3" y2="620.91" stroke="#111" stroke-width="2"/>
<line x1="529.8" y1="609.18" x2="534.3" y2="609.18" stroke="#111" stroke-width="2"/>
<line x1="529.8" y1="597.46" x2="534.3" y2="597.46" stroke="#111" stroke-width="2"/>
<line x1="529.8" y1="585.74" x2="534.3" y2="585.74" stroke="#111" stroke-width="2"/>
<line x1="529.8" y1="574.01" x2="534.3" y2="574.01" stroke="#111" stroke-width="2"/>
<line x1="529.8" y1="562.29" x2="534.3" y2="562.29" stroke="#111" stroke-width="2"/>
<line x1="529.8" y1="550.57" x2="534.3" y2="550.57" stroke="#111" stroke-width="2"/>
<line x1="529.8" y1="538.84" x2="534.3" y2="538.84" stroke="#111" stroke-width="2"/>
<line x1="529.8" y1="527.12" x2="534.3" y2="527.12" stroke="#111" stroke-width="2"/>
<line x1="554.4" y1="867.1" x2="554.4" y2="875.6" stroke="#111" stroke-width="2"/>
<text x="554.4" y="892.7" font-size="14.5" text-anchor="middle" font-weight="bold" fill="#111" >0</text>
<line x1="584.48" y1="867.1" x2="584.48" y2="875.6" stroke="#111" stroke-width="2"/>
<text x="584.48" y="892.7" font-size="14.5" text-anchor="middle" font-weight="bold" fill="#111" >5</text>
<line x1="614.56" y1="867.1" x2="614.56" y2="875.6" stroke="#111" stroke-width="2"/>
<text x="614.56" y="892.7" font-size="14.5" text-anchor="middle" font-weight="bold" fill="#111" >9</text>
<line x1="644.64" y1="867.1" x2="644.64" y2="875.6" stroke="#111" stroke-width="2"/>
<text x="644.64" y="892.7" font-size="14.5" text-anchor="middle" font-weight="bold" fill="#111" >13</text>
<line x1="674.72" y1="867.1" x2="674.72" y2="875.6" stroke="#111" stroke-width="2"/>
<text x="674.72" y="892.7" font-size="14.5" text-anchor="middle" font-weight="bold" fill="#111" >17</text>
<line x1="704.8" y1="867.1" x2="704.8" y2="875.6" stroke="#111" stroke-width="2"/>
<text x="704.8" y="892.7" font-size="14.5" text-anchor="middle" font-weight="bold" fill="#111" >21</text>
<line x1="734.88" y1="867.1" x2="734.88" y2="875.6" stroke="#111" stroke-width="2"/>
<text x="734.88" y="892.7" font-size="14.5" text-anchor="middle" font-weight="bold" fill="#111" >25</text>
<line x1="764.96" y1="867.1" x2="764.96" y2="875.6" stroke="#111" stroke-width="2"/>
<text x="764.96" y="892.7" font-size="14.5" text-anchor="middle" font-weight="bold" fill="#111" >29</text>
<line x1="795.04" y1="867.1" x2="795.04" y2="875.6" stroke="#111" stroke-width="2"/>
<text x="795.04" y="892.7" font-size="14.5" text-anchor="middle" font-weight="bold" fill="#111" >33</text>
<line x1="825.12" y1="867.1" x2="825.12" y2="875.6" stroke="#111" stroke-width="2"/>
<text x="825.12" y="892.7" font-size="14.5" text-anchor="middle" font-weight="bold" fill="#111" >39</text>
<text x="725.9" y="923.8" font-size="16.5" text-anchor="middle" font-weight="bold" fill="#111" >Time (weeks)</text>
<text transform="translate(486.8,690.5) rotate(-90)" x="0" y="0" font-size="16.9" text-anchor="middle" font-weight="bold" fill="#111">Mean arterial pressure (mmHg)</text>
<text x="467.8" y="525" font-size="32" text-anchor="start" font-weight="bold" fill="#000" >E</text>
<rect x="1136.1" y="513" width="126.1" height="357.4" fill="#d4d4d4"/>
<rect x="970" y="813" width="164" height="53" fill="#fcfcfc"/>
<rect x="970" y="813" width="164" height="17.67" fill="#f7f7f7"/>
<rect x="970" y="848.33" width="164" height="17.67" fill="#f9f9f9"/>
<g transform="translate(973.4,825.7) scale(1.19,1)"><text x="0" y="0" font-size="7.2" fill="#5a5a5a">0.015mg/kg vs vehicle</text></g>
<g transform="translate(1084.4,825.7) scale(1.19,1)"><text x="0" y="0" font-size="7.2" fill="#5a5a5a">0.001</text></g>
<g transform="translate(973.4,844.5) scale(1.19,1)"><text x="0" y="0" font-size="7.2" fill="#5a5a5a">0.15mg/kg vs vehicle</text></g>
<g transform="translate(1084.4,844.5) scale(1.19,1)"><text x="0" y="0" font-size="7.2" fill="#5a5a5a">&lt;0.001</text></g>
<g transform="translate(973.4,857) scale(1.19,1)"><text x="0" y="0" font-size="7.2" fill="#5a5a5a">3mg/kg vs vehicle</text></g>
<g transform="translate(1084.4,857) scale(1.19,1)"><text x="0" y="0" font-size="7.2" fill="#5a5a5a">0.087</text></g>
<text x="1043.8" y="784" font-size="15" text-anchor="middle" font-weight="normal" fill="#2e2e2e" >p-value</text>
<line x1="982.5" y1="797.5" x2="1111.9" y2="797.5" stroke="#9a9a9a" stroke-width="1.3" stroke-dasharray="4.5 3.5"/>
<text x="1165.7" y="859.3" font-size="18.5" text-anchor="start" font-weight="normal" fill="#1a1a1a" >washout</text>
<line x1="966.4" y1="654.8" x2="1278" y2="654.8" stroke="#3a3a3a" stroke-width="2.1" stroke-dasharray="2.3 4.03"/>
<line x1="1016.5" y1="740.9" x2="1016.5" y2="794.9" stroke="#7a4a98" stroke-width="1.3"/>
<line x1="1014" y1="740.9" x2="1019" y2="740.9" stroke="#7a4a98" stroke-width="1.3"/>
<line x1="1014" y1="794.9" x2="1019" y2="794.9" stroke="#7a4a98" stroke-width="1.3"/>
<line x1="1047.1" y1="729.4" x2="1047.1" y2="769.4" stroke="#7a4a98" stroke-width="1.3"/>
<line x1="1044.6" y1="729.4" x2="1049.6" y2="729.4" stroke="#7a4a98" stroke-width="1.3"/>
<line x1="1044.6" y1="769.4" x2="1049.6" y2="769.4" stroke="#7a4a98" stroke-width="1.3"/>
<line x1="1077.7" y1="749.7" x2="1077.7" y2="809.7" stroke="#7a4a98" stroke-width="1.3"/>
<line x1="1075.2" y1="749.7" x2="1080.2" y2="749.7" stroke="#7a4a98" stroke-width="1.3"/>
<line x1="1075.2" y1="809.7" x2="1080.2" y2="809.7" stroke="#7a4a98" stroke-width="1.3"/>
<line x1="1108.3" y1="761.4" x2="1108.3" y2="821.4" stroke="#7a4a98" stroke-width="1.3"/>
<line x1="1105.8" y1="761.4" x2="1110.8" y2="761.4" stroke="#7a4a98" stroke-width="1.3"/>
<line x1="1105.8" y1="821.4" x2="1110.8" y2="821.4" stroke="#7a4a98" stroke-width="1.3"/>
<line x1="1138.9" y1="772.5" x2="1138.9" y2="820.5" stroke="#7a4a98" stroke-width="1.3"/>
<line x1="1136.4" y1="772.5" x2="1141.4" y2="772.5" stroke="#7a4a98" stroke-width="1.3"/>
<line x1="1136.4" y1="820.5" x2="1141.4" y2="820.5" stroke="#7a4a98" stroke-width="1.3"/>
<line x1="1169.5" y1="753.1" x2="1169.5" y2="823.1" stroke="#7a4a98" stroke-width="1.3"/>
<line x1="1167" y1="753.1" x2="1172" y2="753.1" stroke="#7a4a98" stroke-width="1.3"/>
<line x1="1167" y1="823.1" x2="1172" y2="823.1" stroke="#7a4a98" stroke-width="1.3"/>
<line x1="1200.1" y1="739.2" x2="1200.1" y2="783.2" stroke="#7a4a98" stroke-width="1.3"/>
<line x1="1197.6" y1="739.2" x2="1202.6" y2="739.2" stroke="#7a4a98" stroke-width="1.3"/>
<line x1="1197.6" y1="783.2" x2="1202.6" y2="783.2" stroke="#7a4a98" stroke-width="1.3"/>
<line x1="1230.7" y1="739.2" x2="1230.7" y2="783.2" stroke="#7a4a98" stroke-width="1.3"/>
<line x1="1228.2" y1="739.2" x2="1233.2" y2="739.2" stroke="#7a4a98" stroke-width="1.3"/>
<line x1="1228.2" y1="783.2" x2="1233.2" y2="783.2" stroke="#7a4a98" stroke-width="1.3"/>
<line x1="1261.3" y1="700.8" x2="1261.3" y2="732.8" stroke="#7a4a98" stroke-width="1.3"/>
<line x1="1258.8" y1="700.8" x2="1263.8" y2="700.8" stroke="#7a4a98" stroke-width="1.3"/>
<line x1="1258.8" y1="732.8" x2="1263.8" y2="732.8" stroke="#7a4a98" stroke-width="1.3"/>
<polyline points="985.9,654.3 1016.5,767.9 1047.1,749.4 1077.7,779.7 1108.3,791.4 1138.9,796.5 1169.5,788.1 1200.1,761.2 1230.7,761.2 1261.3,716.8" fill="none" stroke="#801abc" stroke-width="2.8" stroke-linejoin="round"/>
<polygon points="982.65,651.38 989.15,651.38 985.9,657.22" fill="#801abc"/>
<polygon points="1013.25,764.98 1019.75,764.98 1016.5,770.82" fill="#801abc"/>
<polygon points="1043.85,746.48 1050.35,746.48 1047.1,752.32" fill="#801abc"/>
<polygon points="1074.45,776.78 1080.95,776.78 1077.7,782.62" fill="#801abc"/>
<polygon points="1105.05,788.48 1111.55,788.48 1108.3,794.32" fill="#801abc"/>
<polygon points="1135.65,793.58 1142.15,793.58 1138.9,799.42" fill="#801abc"/>
<polygon points="1166.25,785.18 1172.75,785.18 1169.5,791.02" fill="#801abc"/>
<polygon points="1196.85,758.28 1203.35,758.28 1200.1,764.12" fill="#801abc"/>
<polygon points="1227.45,758.28 1233.95,758.28 1230.7,764.12" fill="#801abc"/>
<polygon points="1258.05,713.88 1264.55,713.88 1261.3,719.72" fill="#801abc"/>
<line x1="1016.5" y1="697.6" x2="1016.5" y2="757.6" stroke="#b8966e" stroke-width="1.3"/>
<line x1="1014" y1="697.6" x2="1019" y2="697.6" stroke="#b8966e" stroke-width="1.3"/>
<line x1="1014" y1="757.6" x2="1019" y2="757.6" stroke="#b8966e" stroke-width="1.3"/>
<line x1="1047.1" y1="708.3" x2="1047.1" y2="760.3" stroke="#b8966e" stroke-width="1.3"/>
<line x1="1044.6" y1="708.3" x2="1049.6" y2="708.3" stroke="#b8966e" stroke-width="1.3"/>
<line x1="1044.6" y1="760.3" x2="1049.6" y2="760.3" stroke="#b8966e" stroke-width="1.3"/>
<line x1="1077.7" y1="730.1" x2="1077.7" y2="782.1" stroke="#b8966e" stroke-width="1.3"/>
<line x1="1075.2" y1="730.1" x2="1080.2" y2="730.1" stroke="#b8966e" stroke-width="1.3"/>
<line x1="1075.2" y1="782.1" x2="1080.2" y2="782.1" stroke="#b8966e" stroke-width="1.3"/>
<line x1="1108.3" y1="729.1" x2="1108.3" y2="781.1" stroke="#b8966e" stroke-width="1.3"/>
<line x1="1105.8" y1="729.1" x2="1110.8" y2="729.1" stroke="#b8966e" stroke-width="1.3"/>
<line x1="1105.8" y1="781.1" x2="1110.8" y2="781.1" stroke="#b8966e" stroke-width="1.3"/>
<line x1="1138.9" y1="767.4" x2="1138.9" y2="815.4" stroke="#b8966e" stroke-width="1.3"/>
<line x1="1136.4" y1="767.4" x2="1141.4" y2="767.4" stroke="#b8966e" stroke-width="1.3"/>
<line x1="1136.4" y1="815.4" x2="1141.4" y2="815.4" stroke="#b8966e" stroke-width="1.3"/>
<line x1="1169.5" y1="739.9" x2="1169.5" y2="795.9" stroke="#b8966e" stroke-width="1.3"/>
<line x1="1167" y1="739.9" x2="1172" y2="739.9" stroke="#b8966e" stroke-width="1.3"/>
<line x1="1167" y1="795.9" x2="1172" y2="795.9" stroke="#b8966e" stroke-width="1.3"/>
<line x1="1200.1" y1="718.3" x2="1200.1" y2="762.3" stroke="#b8966e" stroke-width="1.3"/>
<line x1="1197.6" y1="718.3" x2="1202.6" y2="718.3" stroke="#b8966e" stroke-width="1.3"/>
<line x1="1197.6" y1="762.3" x2="1202.6" y2="762.3" stroke="#b8966e" stroke-width="1.3"/>
<line x1="1230.7" y1="727.4" x2="1230.7" y2="771.4" stroke="#b8966e" stroke-width="1.3"/>
<line x1="1228.2" y1="727.4" x2="1233.2" y2="727.4" stroke="#b8966e" stroke-width="1.3"/>
<line x1="1228.2" y1="771.4" x2="1233.2" y2="771.4" stroke="#b8966e" stroke-width="1.3"/>
<line x1="1261.3" y1="630" x2="1261.3" y2="670" stroke="#b8966e" stroke-width="1.3"/>
<line x1="1258.8" y1="630" x2="1263.8" y2="630" stroke="#b8966e" stroke-width="1.3"/>
<line x1="1258.8" y1="670" x2="1263.8" y2="670" stroke="#b8966e" stroke-width="1.3"/>
<polyline points="985.9,654.3 1016.5,727.6 1047.1,734.3 1077.7,756.1 1108.3,755.1 1138.9,791.4 1169.5,767.9 1200.1,740.3 1230.7,749.4 1261.3,650" fill="none" stroke="#e9a55e" stroke-width="2.8" stroke-linejoin="round"/>
<polygon points="982.65,651.38 989.15,651.38 985.9,657.22" fill="#e9a55e"/>
<polygon points="1013.25,724.68 1019.75,724.68 1016.5,730.52" fill="#e9a55e"/>
<polygon points="1043.85,731.38 1050.35,731.38 1047.1,737.22" fill="#e9a55e"/>
<polygon points="1074.45,753.18 1080.95,753.18 1077.7,759.02" fill="#e9a55e"/>
<polygon points="1105.05,752.18 1111.55,752.18 1108.3,758.02" fill="#e9a55e"/>
<polygon points="1135.65,788.48 1142.15,788.48 1138.9,794.32" fill="#e9a55e"/>
<polygon points="1166.25,764.98 1172.75,764.98 1169.5,770.82" fill="#e9a55e"/>
<polygon points="1196.85,737.38 1203.35,737.38 1200.1,743.22" fill="#e9a55e"/>
<polygon points="1227.45,746.48 1233.95,746.48 1230.7,752.32" fill="#e9a55e"/>
<polygon points="1258.05,647.08 1264.55,647.08 1261.3,652.92" fill="#e9a55e"/>
<line x1="1016.5" y1="668" x2="1016.5" y2="728" stroke="#6f8fb4" stroke-width="1.3"/>
<line x1="1014" y1="668" x2="1019" y2="668" stroke="#6f8fb4" stroke-width="1.3"/>
<line x1="1014" y1="728" x2="1019" y2="728" stroke="#6f8fb4" stroke-width="1.3"/>
<line x1="1047.1" y1="704.3" x2="1047.1" y2="756.3" stroke="#6f8fb4" stroke-width="1.3"/>
<line x1="1044.6" y1="704.3" x2="1049.6" y2="704.3" stroke="#6f8fb4" stroke-width="1.3"/>
<line x1="1044.6" y1="756.3" x2="1049.6" y2="756.3" stroke="#6f8fb4" stroke-width="1.3"/>
<line x1="1077.7" y1="704.3" x2="1077.7" y2="764.3" stroke="#6f8fb4" stroke-width="1.3"/>
<line x1="1075.2" y1="704.3" x2="1080.2" y2="704.3" stroke="#6f8fb4" stroke-width="1.3"/>
<line x1="1075.2" y1="764.3" x2="1080.2" y2="764.3" stroke="#6f8fb4" stroke-width="1.3"/>
<line x1="1108.3" y1="748.9" x2="1108.3" y2="796.9" stroke="#6f8fb4" stroke-width="1.3"/>
<line x1="1105.8" y1="748.9" x2="1110.8" y2="748.9" stroke="#6f8fb4" stroke-width="1.3"/>
<line x1="1105.8" y1="796.9" x2="1110.8" y2="796.9" stroke="#6f8fb4" stroke-width="1.3"/>
<line x1="1138.9" y1="746.1" x2="1138.9" y2="830.1" stroke="#6f8fb4" stroke-width="1.3"/>
<line x1="1136.4" y1="746.1" x2="1141.4" y2="746.1" stroke="#6f8fb4" stroke-width="1.3"/>
<line x1="1136.4" y1="830.1" x2="1141.4" y2="830.1" stroke="#6f8fb4" stroke-width="1.3"/>
<line x1="1169.5" y1="725.8" x2="1169.5" y2="781.8" stroke="#6f8fb4" stroke-width="1.3"/>
<line x1="1167" y1="725.8" x2="1172" y2="725.8" stroke="#6f8fb4" stroke-width="1.3"/>
<line x1="1167" y1="781.8" x2="1172" y2="781.8" stroke="#6f8fb4" stroke-width="1.3"/>
<line x1="1200.1" y1="690.1" x2="1200.1" y2="730.1" stroke="#6f8fb4" stroke-width="1.3"/>
<line x1="1197.6" y1="690.1" x2="1202.6" y2="690.1" stroke="#6f8fb4" stroke-width="1.3"/>
<line x1="1197.6" y1="730.1" x2="1202.6" y2="730.1" stroke="#6f8fb4" stroke-width="1.3"/>
<line x1="1230.7" y1="709.3" x2="1230.7" y2="769.3" stroke="#6f8fb4" stroke-width="1.3"/>
<line x1="1228.2" y1="709.3" x2="1233.2" y2="709.3" stroke="#6f8fb4" stroke-width="1.3"/>
<line x1="1228.2" y1="769.3" x2="1233.2" y2="769.3" stroke="#6f8fb4" stroke-width="1.3"/>
<line x1="1261.3" y1="519.4" x2="1261.3" y2="739.4" stroke="#6f8fb4" stroke-width="1.3"/>
<line x1="1258.8" y1="519.4" x2="1263.8" y2="519.4" stroke="#6f8fb4" stroke-width="1.3"/>
<line x1="1258.8" y1="739.4" x2="1263.8" y2="739.4" stroke="#6f8fb4" stroke-width="1.3"/>
<polyline points="985.9,654.3 1016.5,698 1047.1,730.3 1077.7,734.3 1108.3,772.9 1138.9,788.1 1169.5,753.8 1200.1,710.1 1230.7,739.3 1261.3,629.4" fill="none" stroke="#5a9bdb" stroke-width="2.8" stroke-linejoin="round"/>
<rect x="982.65" y="651.05" width="6.5" height="6.5" fill="#5a9bdb"/>
<rect x="1013.25" y="694.75" width="6.5" height="6.5" fill="#5a9bdb"/>
<rect x="1043.85" y="727.05" width="6.5" height="6.5" fill="#5a9bdb"/>
<rect x="1074.45" y="731.05" width="6.5" height="6.5" fill="#5a9bdb"/>
<rect x="1105.05" y="769.65" width="6.5" height="6.5" fill="#5a9bdb"/>
<rect x="1135.65" y="784.85" width="6.5" height="6.5" fill="#5a9bdb"/>
<rect x="1166.25" y="750.55" width="6.5" height="6.5" fill="#5a9bdb"/>
<rect x="1196.85" y="706.85" width="6.5" height="6.5" fill="#5a9bdb"/>
<rect x="1227.45" y="736.05" width="6.5" height="6.5" fill="#5a9bdb"/>
<rect x="1258.05" y="626.15" width="6.5" height="6.5" fill="#5a9bdb"/>
<line x1="1016.5" y1="664.3" x2="1016.5" y2="722.3" stroke="#5e5e5e" stroke-width="1.3"/>
<line x1="1014" y1="664.3" x2="1019" y2="664.3" stroke="#5e5e5e" stroke-width="1.3"/>
<line x1="1014" y1="722.3" x2="1019" y2="722.3" stroke="#5e5e5e" stroke-width="1.3"/>
<line x1="1047.1" y1="635" x2="1047.1" y2="691" stroke="#5e5e5e" stroke-width="1.3"/>
<line x1="1044.6" y1="635" x2="1049.6" y2="635" stroke="#5e5e5e" stroke-width="1.3"/>
<line x1="1044.6" y1="691" x2="1049.6" y2="691" stroke="#5e5e5e" stroke-width="1.3"/>
<line x1="1077.7" y1="661.5" x2="1077.7" y2="709.5" stroke="#5e5e5e" stroke-width="1.3"/>
<line x1="1075.2" y1="661.5" x2="1080.2" y2="661.5" stroke="#5e5e5e" stroke-width="1.3"/>
<line x1="1075.2" y1="709.5" x2="1080.2" y2="709.5" stroke="#5e5e5e" stroke-width="1.3"/>
<line x1="1108.3" y1="645.1" x2="1108.3" y2="697.1" stroke="#5e5e5e" stroke-width="1.3"/>
<line x1="1105.8" y1="645.1" x2="1110.8" y2="645.1" stroke="#5e5e5e" stroke-width="1.3"/>
<line x1="1105.8" y1="697.1" x2="1110.8" y2="697.1" stroke="#5e5e5e" stroke-width="1.3"/>
<line x1="1138.9" y1="692.1" x2="1138.9" y2="736.1" stroke="#5e5e5e" stroke-width="1.3"/>
<line x1="1136.4" y1="692.1" x2="1141.4" y2="692.1" stroke="#5e5e5e" stroke-width="1.3"/>
<line x1="1136.4" y1="736.1" x2="1141.4" y2="736.1" stroke="#5e5e5e" stroke-width="1.3"/>
<line x1="1169.5" y1="671" x2="1169.5" y2="717" stroke="#5e5e5e" stroke-width="1.3"/>
<line x1="1167" y1="671" x2="1172" y2="671" stroke="#5e5e5e" stroke-width="1.3"/>
<line x1="1167" y1="717" x2="1172" y2="717" stroke="#5e5e5e" stroke-width="1.3"/>
<line x1="1200.1" y1="664.9" x2="1200.1" y2="700.9" stroke="#5e5e5e" stroke-width="1.3"/>
<line x1="1197.6" y1="664.9" x2="1202.6" y2="664.9" stroke="#5e5e5e" stroke-width="1.3"/>
<line x1="1197.6" y1="700.9" x2="1202.6" y2="700.9" stroke="#5e5e5e" stroke-width="1.3"/>
<line x1="1230.7" y1="693.4" x2="1230.7" y2="729.4" stroke="#5e5e5e" stroke-width="1.3"/>
<line x1="1228.2" y1="693.4" x2="1233.2" y2="693.4" stroke="#5e5e5e" stroke-width="1.3"/>
<line x1="1228.2" y1="729.4" x2="1233.2" y2="729.4" stroke="#5e5e5e" stroke-width="1.3"/>
<line x1="1261.3" y1="628.6" x2="1261.3" y2="668.6" stroke="#5e5e5e" stroke-width="1.3"/>
<line x1="1258.8" y1="628.6" x2="1263.8" y2="628.6" stroke="#5e5e5e" stroke-width="1.3"/>
<line x1="1258.8" y1="668.6" x2="1263.8" y2="668.6" stroke="#5e5e5e" stroke-width="1.3"/>
<polyline points="985.9,654.3 1016.5,693.3 1047.1,663 1077.7,685.5 1108.3,671.1 1138.9,714.1 1169.5,694 1200.1,682.9 1230.7,711.4 1261.3,648.6" fill="none" stroke="#505050" stroke-width="2.8" stroke-linejoin="round"/>
<circle cx="985.9" cy="654.3" r="3.25" fill="#505050"/>
<circle cx="1016.5" cy="693.3" r="3.25" fill="#505050"/>
<circle cx="1047.1" cy="663" r="3.25" fill="#505050"/>
<circle cx="1077.7" cy="685.5" r="3.25" fill="#505050"/>
<circle cx="1108.3" cy="671.1" r="3.25" fill="#505050"/>
<circle cx="1138.9" cy="714.1" r="3.25" fill="#505050"/>
<circle cx="1169.5" cy="694" r="3.25" fill="#505050"/>
<circle cx="1200.1" cy="682.9" r="3.25" fill="#505050"/>
<circle cx="1230.7" cy="711.4" r="3.25" fill="#505050"/>
<circle cx="1261.3" cy="648.6" r="3.25" fill="#505050"/>
<line x1="966.4" y1="518.8" x2="966.4" y2="871.4" stroke="#111" stroke-width="2"/>
<line x1="965.4" y1="870.4" x2="1282" y2="870.4" stroke="#111" stroke-width="2"/>
<line x1="957.9" y1="519" x2="966.4" y2="519" stroke="#111" stroke-width="2"/>
<text x="954.9" y="524.2" font-size="14.5" text-anchor="end" font-weight="bold" fill="#111" >50</text>
<line x1="957.9" y1="654.4" x2="966.4" y2="654.4" stroke="#111" stroke-width="2"/>
<text x="954.9" y="659.6" font-size="14.5" text-anchor="end" font-weight="bold" fill="#111" >0</text>
<line x1="957.9" y1="789.8" x2="966.4" y2="789.8" stroke="#111" stroke-width="2"/>
<text x="954.9" y="795" font-size="14.5" text-anchor="end" font-weight="bold" fill="#111" >-50</text>
<line x1="961.9" y1="546.08" x2="966.4" y2="546.08" stroke="#111" stroke-width="2"/>
<line x1="961.9" y1="573.16" x2="966.4" y2="573.16" stroke="#111" stroke-width="2"/>
<line x1="961.9" y1="600.24" x2="966.4" y2="600.24" stroke="#111" stroke-width="2"/>
<line x1="961.9" y1="627.32" x2="966.4" y2="627.32" stroke="#111" stroke-width="2"/>
<line x1="961.9" y1="681.48" x2="966.4" y2="681.48" stroke="#111" stroke-width="2"/>
<line x1="961.9" y1="708.56" x2="966.4" y2="708.56" stroke="#111" stroke-width="2"/>
<line x1="961.9" y1="735.64" x2="966.4" y2="735.64" stroke="#111" stroke-width="2"/>
<line x1="961.9" y1="762.72" x2="966.4" y2="762.72" stroke="#111" stroke-width="2"/>
<line x1="961.9" y1="816.88" x2="966.4" y2="816.88" stroke="#111" stroke-width="2"/>
<line x1="961.9" y1="843.96" x2="966.4" y2="843.96" stroke="#111" stroke-width="2"/>
<line x1="985.9" y1="870.4" x2="985.9" y2="878.9" stroke="#111" stroke-width="2"/>
<text x="985.9" y="897.3" font-size="14.5" text-anchor="middle" font-weight="bold" fill="#111" >0</text>
<line x1="1016.5" y1="870.4" x2="1016.5" y2="878.9" stroke="#111" stroke-width="2"/>
<text x="1016.5" y="897.3" font-size="14.5" text-anchor="middle" font-weight="bold" fill="#111" >5</text>
<line x1="1047.1" y1="870.4" x2="1047.1" y2="878.9" stroke="#111" stroke-width="2"/>
<text x="1047.1" y="897.3" font-size="14.5" text-anchor="middle" font-weight="bold" fill="#111" >9</text>
<line x1="1077.7" y1="870.4" x2="1077.7" y2="878.9" stroke="#111" stroke-width="2"/>
<text x="1077.7" y="897.3" font-size="14.5" text-anchor="middle" font-weight="bold" fill="#111" >13</text>
<line x1="1108.3" y1="870.4" x2="1108.3" y2="878.9" stroke="#111" stroke-width="2"/>
<text x="1108.3" y="897.3" font-size="14.5" text-anchor="middle" font-weight="bold" fill="#111" >17</text>
<line x1="1138.9" y1="870.4" x2="1138.9" y2="878.9" stroke="#111" stroke-width="2"/>
<text x="1138.9" y="897.3" font-size="14.5" text-anchor="middle" font-weight="bold" fill="#111" >21</text>
<line x1="1169.5" y1="870.4" x2="1169.5" y2="878.9" stroke="#111" stroke-width="2"/>
<text x="1169.5" y="897.3" font-size="14.5" text-anchor="middle" font-weight="bold" fill="#111" >25</text>
<line x1="1200.1" y1="870.4" x2="1200.1" y2="878.9" stroke="#111" stroke-width="2"/>
<text x="1200.1" y="897.3" font-size="14.5" text-anchor="middle" font-weight="bold" fill="#111" >29</text>
<line x1="1230.7" y1="870.4" x2="1230.7" y2="878.9" stroke="#111" stroke-width="2"/>
<text x="1230.7" y="897.3" font-size="14.5" text-anchor="middle" font-weight="bold" fill="#111" >33</text>
<line x1="1261.3" y1="870.4" x2="1261.3" y2="878.9" stroke="#111" stroke-width="2"/>
<text x="1261.3" y="897.3" font-size="14.5" text-anchor="middle" font-weight="bold" fill="#111" >39</text>
<text x="1164.8" y="924.2" font-size="16.5" text-anchor="middle" font-weight="bold" fill="#111" >Time (weeks)</text>
<text transform="translate(899.6,694.6) rotate(-90)" x="0" y="0" font-size="16.9" text-anchor="middle" font-weight="bold" fill="#111">Systemic vascular resistence</text>
<text transform="translate(921,694.3) rotate(-90)" x="0" y="0" font-size="17.05" text-anchor="middle" font-weight="bold" fill="#111">(percent change from baseline)</text>
<text x="886.3" y="524.7" font-size="32" text-anchor="start" font-weight="bold" fill="#000" >F</text>
<line x1="1354.6" y1="56.8" x2="1389.5" y2="56.8" stroke="#505050" stroke-width="4"/>
<circle cx="1372.2" cy="56.8" r="4.25" fill="#505050"/>
<g transform="translate(1409,64.5) scale(1.04,1)"><text x="0" y="0" font-size="26.8" fill="#1e1e1e">Vehicle</text></g>
<line x1="1354.6" y1="100.9" x2="1389.5" y2="100.9" stroke="#5a9bdb" stroke-width="4"/>
<rect x="1367.45" y="96.15" width="9.5" height="9.5" fill="#5a9bdb"/>
<g transform="translate(1409,108.2) scale(1.04,1)"><text x="0" y="0" font-size="26.8" fill="#1e1e1e">0.015 mg/kg</text></g>
<line x1="1354.6" y1="143.7" x2="1389.5" y2="143.7" stroke="#e9a55e" stroke-width="4"/>
<polygon points="1367.45,139.42 1376.95,139.42 1372.2,147.97" fill="#e9a55e"/>
<g transform="translate(1409,151) scale(1.04,1)"><text x="0" y="0" font-size="26.8" fill="#1e1e1e">0.15 mg/kg</text></g>
<line x1="1354.6" y1="187.4" x2="1389.5" y2="187.4" stroke="#801abc" stroke-width="4"/>
<polygon points="1367.45,183.12 1376.95,183.12 1372.2,191.68" fill="#801abc"/>
<g transform="translate(1409,195.1) scale(1.04,1)"><text x="0" y="0" font-size="26.8" fill="#1e1e1e">3 mg/kg</text></g>
<line x1="1354.6" y1="518.3" x2="1389.5" y2="518.3" stroke="#505050" stroke-width="4"/>
<circle cx="1372.2" cy="518.3" r="4.25" fill="#505050"/>
<g transform="translate(1409,525.5) scale(1.04,1)"><text x="0" y="0" font-size="26.8" fill="#1e1e1e">Vehicle</text></g>
<line x1="1354.6" y1="562.4" x2="1389.5" y2="562.4" stroke="#5a9bdb" stroke-width="4"/>
<rect x="1367.45" y="557.65" width="9.5" height="9.5" fill="#5a9bdb"/>
<g transform="translate(1409,569.2) scale(1.04,1)"><text x="0" y="0" font-size="26.8" fill="#1e1e1e">0.015 mg/kg</text></g>
<line x1="1354.6" y1="605.2" x2="1389.5" y2="605.2" stroke="#e9a55e" stroke-width="4"/>
<polygon points="1367.45,600.93 1376.95,600.93 1372.2,609.48" fill="#e9a55e"/>
<g transform="translate(1409,612) scale(1.04,1)"><text x="0" y="0" font-size="26.8" fill="#1e1e1e">0.15 mg/kg</text></g>
<line x1="1354.6" y1="648.9" x2="1389.5" y2="648.9" stroke="#801abc" stroke-width="4"/>
<polygon points="1367.45,644.62 1376.95,644.62 1372.2,653.17" fill="#801abc"/>
<g transform="translate(1409,656.1) scale(1.04,1)"><text x="0" y="0" font-size="26.8" fill="#1e1e1e">3 mg/kg</text></g>
<rect x="2147.1" y="241.2" width="207.6" height="398" fill="#d4d4d4" stroke="#a8a8a8" stroke-width="1" stroke-dasharray="3 2"/>
<text x="2193.8" y="611.2" font-size="30.5" text-anchor="start" font-weight="normal" fill="#111" >washout</text>
<line x1="1805.7" y1="273" x2="1805.7" y2="641.8" stroke="#000" stroke-width="3.6"/>
<line x1="1804" y1="639.6" x2="2354.4" y2="639.6" stroke="#000" stroke-width="3.4"/>
<line x1="1790.7" y1="640.2" x2="1806" y2="640.2" stroke="#000" stroke-width="3.4"/>
<text x="1786" y="648.4" font-size="24" text-anchor="end" font-weight="normal" fill="#000" textLength="44.7" lengthAdjust="spacingAndGlyphs">100</text>
<line x1="1797.5" y1="603.53" x2="1806" y2="603.53" stroke="#000" stroke-width="3"/>
<line x1="1797.5" y1="582.09" x2="1806" y2="582.09" stroke="#000" stroke-width="3"/>
<line x1="1797.5" y1="566.87" x2="1806" y2="566.87" stroke="#000" stroke-width="3"/>
<line x1="1797.5" y1="555.07" x2="1806" y2="555.07" stroke="#000" stroke-width="3"/>
<line x1="1797.5" y1="545.42" x2="1806" y2="545.42" stroke="#000" stroke-width="3"/>
<line x1="1797.5" y1="537.27" x2="1806" y2="537.27" stroke="#000" stroke-width="3"/>
<line x1="1797.5" y1="530.2" x2="1806" y2="530.2" stroke="#000" stroke-width="3"/>
<line x1="1797.5" y1="523.97" x2="1806" y2="523.97" stroke="#000" stroke-width="3"/>
<line x1="1790.7" y1="518.4" x2="1806" y2="518.4" stroke="#000" stroke-width="3.4"/>
<text x="1786" y="526.6" font-size="24" text-anchor="end" font-weight="normal" fill="#000" textLength="59.6" lengthAdjust="spacingAndGlyphs">1000</text>
<line x1="1797.5" y1="481.73" x2="1806" y2="481.73" stroke="#000" stroke-width="3"/>
<line x1="1797.5" y1="460.29" x2="1806" y2="460.29" stroke="#000" stroke-width="3"/>
<line x1="1797.5" y1="445.07" x2="1806" y2="445.07" stroke="#000" stroke-width="3"/>
<line x1="1797.5" y1="433.27" x2="1806" y2="433.27" stroke="#000" stroke-width="3"/>
<line x1="1797.5" y1="423.62" x2="1806" y2="423.62" stroke="#000" stroke-width="3"/>
<line x1="1797.5" y1="415.47" x2="1806" y2="415.47" stroke="#000" stroke-width="3"/>
<line x1="1797.5" y1="408.4" x2="1806" y2="408.4" stroke="#000" stroke-width="3"/>
<line x1="1797.5" y1="402.17" x2="1806" y2="402.17" stroke="#000" stroke-width="3"/>
<line x1="1790.7" y1="396.6" x2="1806" y2="396.6" stroke="#000" stroke-width="3.4"/>
<text x="1786" y="404.8" font-size="24" text-anchor="end" font-weight="normal" fill="#000" textLength="74.5" lengthAdjust="spacingAndGlyphs">10000</text>
<line x1="1797.5" y1="359.93" x2="1806" y2="359.93" stroke="#000" stroke-width="3"/>
<line x1="1797.5" y1="338.49" x2="1806" y2="338.49" stroke="#000" stroke-width="3"/>
<line x1="1797.5" y1="323.27" x2="1806" y2="323.27" stroke="#000" stroke-width="3"/>
<line x1="1797.5" y1="311.47" x2="1806" y2="311.47" stroke="#000" stroke-width="3"/>
<line x1="1797.5" y1="301.82" x2="1806" y2="301.82" stroke="#000" stroke-width="3"/>
<line x1="1797.5" y1="293.67" x2="1806" y2="293.67" stroke="#000" stroke-width="3"/>
<line x1="1797.5" y1="286.6" x2="1806" y2="286.6" stroke="#000" stroke-width="3"/>
<line x1="1797.5" y1="280.37" x2="1806" y2="280.37" stroke="#000" stroke-width="3"/>
<line x1="1790.7" y1="274.8" x2="1806" y2="274.8" stroke="#000" stroke-width="3.4"/>
<text x="1786" y="283" font-size="24" text-anchor="end" font-weight="normal" fill="#000" textLength="89.4" lengthAdjust="spacingAndGlyphs">100000</text>
<line x1="1805.5" y1="639" x2="1805.5" y2="654.2" stroke="#000" stroke-width="3.4"/>
<text x="1805.5" y="684.2" font-size="24.2" text-anchor="middle" font-weight="normal" fill="#000" >0</text>
<line x1="1821.58" y1="639" x2="1821.58" y2="647.8" stroke="#000" stroke-width="3"/>
<line x1="1837.66" y1="639" x2="1837.66" y2="647.8" stroke="#000" stroke-width="3"/>
<line x1="1853.74" y1="639" x2="1853.74" y2="647.8" stroke="#000" stroke-width="3"/>
<line x1="1869.82" y1="639" x2="1869.82" y2="647.8" stroke="#000" stroke-width="3"/>
<line x1="1885.9" y1="639" x2="1885.9" y2="654.2" stroke="#000" stroke-width="3.4"/>
<text x="1885.9" y="684.2" font-size="24.2" text-anchor="middle" font-weight="normal" fill="#000" >5</text>
<line x1="1901.98" y1="639" x2="1901.98" y2="647.8" stroke="#000" stroke-width="3"/>
<line x1="1918.06" y1="639" x2="1918.06" y2="647.8" stroke="#000" stroke-width="3"/>
<line x1="1934.14" y1="639" x2="1934.14" y2="647.8" stroke="#000" stroke-width="3"/>
<line x1="1950.22" y1="639" x2="1950.22" y2="647.8" stroke="#000" stroke-width="3"/>
<line x1="1966.3" y1="639" x2="1966.3" y2="654.2" stroke="#000" stroke-width="3.4"/>
<text x="1966.3" y="684.2" font-size="24.2" text-anchor="middle" font-weight="normal" fill="#000" >10</text>
<line x1="1982.38" y1="639" x2="1982.38" y2="647.8" stroke="#000" stroke-width="3"/>
<line x1="1998.46" y1="639" x2="1998.46" y2="647.8" stroke="#000" stroke-width="3"/>
<line x1="2014.54" y1="639" x2="2014.54" y2="647.8" stroke="#000" stroke-width="3"/>
<line x1="2030.62" y1="639" x2="2030.62" y2="647.8" stroke="#000" stroke-width="3"/>
<line x1="2046.7" y1="639" x2="2046.7" y2="654.2" stroke="#000" stroke-width="3.4"/>
<text x="2046.7" y="684.2" font-size="24.2" text-anchor="middle" font-weight="normal" fill="#000" >15</text>
<line x1="2062.78" y1="639" x2="2062.78" y2="647.8" stroke="#000" stroke-width="3"/>
<line x1="2078.86" y1="639" x2="2078.86" y2="647.8" stroke="#000" stroke-width="3"/>
<line x1="2094.94" y1="639" x2="2094.94" y2="647.8" stroke="#000" stroke-width="3"/>
<line x1="2111.02" y1="639" x2="2111.02" y2="647.8" stroke="#000" stroke-width="3"/>
<line x1="2127.1" y1="639" x2="2127.1" y2="654.2" stroke="#000" stroke-width="3.4"/>
<text x="2127.1" y="684.2" font-size="24.2" text-anchor="middle" font-weight="normal" fill="#000" >20</text>
<line x1="2143.18" y1="639" x2="2143.18" y2="647.8" stroke="#000" stroke-width="3"/>
<line x1="2159.26" y1="639" x2="2159.26" y2="647.8" stroke="#000" stroke-width="3"/>
<line x1="2175.34" y1="639" x2="2175.34" y2="647.8" stroke="#000" stroke-width="3"/>
<line x1="2191.42" y1="639" x2="2191.42" y2="647.8" stroke="#000" stroke-width="3"/>
<line x1="2207.5" y1="639" x2="2207.5" y2="654.2" stroke="#000" stroke-width="3.4"/>
<text x="2207.5" y="684.2" font-size="24.2" text-anchor="middle" font-weight="normal" fill="#000" >25</text>
<line x1="2223.58" y1="639" x2="2223.58" y2="647.8" stroke="#000" stroke-width="3"/>
<line x1="2239.66" y1="639" x2="2239.66" y2="647.8" stroke="#000" stroke-width="3"/>
<line x1="2255.74" y1="639" x2="2255.74" y2="647.8" stroke="#000" stroke-width="3"/>
<line x1="2271.82" y1="639" x2="2271.82" y2="647.8" stroke="#000" stroke-width="3"/>
<line x1="2287.9" y1="639" x2="2287.9" y2="654.2" stroke="#000" stroke-width="3.4"/>
<text x="2287.9" y="684.2" font-size="24.2" text-anchor="middle" font-weight="normal" fill="#000" >30</text>
<line x1="2303.98" y1="639" x2="2303.98" y2="647.8" stroke="#000" stroke-width="3"/>
<line x1="2320.06" y1="639" x2="2320.06" y2="647.8" stroke="#000" stroke-width="3"/>
<line x1="2336.14" y1="639" x2="2336.14" y2="647.8" stroke="#000" stroke-width="3"/>
<line x1="2352.22" y1="639" x2="2352.22" y2="647.8" stroke="#000" stroke-width="3"/>
<text x="2079.7" y="728.8" font-size="29.5" text-anchor="middle" font-weight="normal" fill="#000" >Time (weeks)</text>
<text transform="translate(1675,456.6) rotate(-90)" font-size="29.5" text-anchor="middle" textLength="376" lengthAdjust="spacingAndGlyphs" fill="#000">Renin concentration (pg/ml)</text>
<line x1="1821.7" y1="473.1" x2="1821.7" y2="509.3" stroke="#9a22cc" stroke-width="2"/>
<line x1="1814.7" y1="509.3" x2="1828.7" y2="509.3" stroke="#9a22cc" stroke-width="2.2"/>
<line x1="1877.1" y1="353.4" x2="1877.1" y2="381.2" stroke="#9a22cc" stroke-width="2"/>
<line x1="1870.1" y1="353.4" x2="1884.1" y2="353.4" stroke="#9a22cc" stroke-width="2.2"/>
<line x1="1877.1" y1="381.2" x2="1877.1" y2="439.7" stroke="#9a22cc" stroke-width="2"/>
<line x1="1870.1" y1="439.7" x2="1884.1" y2="439.7" stroke="#9a22cc" stroke-width="2.2"/>
<line x1="1941.4" y1="347.8" x2="1941.4" y2="379" stroke="#9a22cc" stroke-width="2"/>
<line x1="1934.4" y1="347.8" x2="1948.4" y2="347.8" stroke="#9a22cc" stroke-width="2.2"/>
<line x1="1941.4" y1="379" x2="1941.4" y2="438" stroke="#9a22cc" stroke-width="2"/>
<line x1="1934.4" y1="438" x2="1948.4" y2="438" stroke="#9a22cc" stroke-width="2.2"/>
<line x1="2005.5" y1="350.3" x2="2005.5" y2="379.8" stroke="#9a22cc" stroke-width="2"/>
<line x1="1998.5" y1="350.3" x2="2012.5" y2="350.3" stroke="#9a22cc" stroke-width="2.2"/>
<line x1="2005.5" y1="379.8" x2="2005.5" y2="438" stroke="#9a22cc" stroke-width="2"/>
<line x1="1998.5" y1="438" x2="2012.5" y2="438" stroke="#9a22cc" stroke-width="2.2"/>
<line x1="2069.5" y1="348.9" x2="2069.5" y2="377" stroke="#9a22cc" stroke-width="2"/>
<line x1="2062.5" y1="348.9" x2="2076.5" y2="348.9" stroke="#9a22cc" stroke-width="2.2"/>
<line x1="2069.5" y1="377" x2="2069.5" y2="436.1" stroke="#9a22cc" stroke-width="2"/>
<line x1="2062.5" y1="436.1" x2="2076.5" y2="436.1" stroke="#9a22cc" stroke-width="2.2"/>
<line x1="2134.3" y1="362.8" x2="2134.3" y2="387.3" stroke="#9a22cc" stroke-width="2"/>
<line x1="2127.3" y1="362.8" x2="2141.3" y2="362.8" stroke="#9a22cc" stroke-width="2.2"/>
<line x1="2134.3" y1="387.3" x2="2134.3" y2="430" stroke="#9a22cc" stroke-width="2"/>
<line x1="2127.3" y1="430" x2="2141.3" y2="430" stroke="#9a22cc" stroke-width="2.2"/>
<line x1="2161.5" y1="370.2" x2="2161.5" y2="398.6" stroke="#9a22cc" stroke-width="2"/>
<line x1="2154.5" y1="370.2" x2="2168.5" y2="370.2" stroke="#9a22cc" stroke-width="2.2"/>
<line x1="2161.5" y1="398.6" x2="2161.5" y2="426" stroke="#9a22cc" stroke-width="2"/>
<line x1="2154.5" y1="426" x2="2168.5" y2="426" stroke="#9a22cc" stroke-width="2.2"/>
<line x1="2194.3" y1="403" x2="2194.3" y2="435.9" stroke="#9a22cc" stroke-width="2"/>
<line x1="2187.3" y1="403" x2="2201.3" y2="403" stroke="#9a22cc" stroke-width="2.2"/>
<line x1="2194.3" y1="435.9" x2="2194.3" y2="532" stroke="#9a22cc" stroke-width="2"/>
<line x1="2187.3" y1="532" x2="2201.3" y2="532" stroke="#9a22cc" stroke-width="2.2"/>
<line x1="2322.4" y1="440" x2="2322.4" y2="475" stroke="#9a22cc" stroke-width="2"/>
<line x1="2315.4" y1="440" x2="2329.4" y2="440" stroke="#9a22cc" stroke-width="2.2"/>
<line x1="2322.4" y1="475" x2="2322.4" y2="532" stroke="#9a22cc" stroke-width="2"/>
<line x1="2315.4" y1="532" x2="2329.4" y2="532" stroke="#9a22cc" stroke-width="2.2"/>
<line x1="1821.7" y1="428.5" x2="1821.7" y2="444.4" stroke="#f0a04a" stroke-width="2"/>
<line x1="1814.7" y1="428.5" x2="1828.7" y2="428.5" stroke="#f0a04a" stroke-width="2.2"/>
<line x1="1821.7" y1="444.4" x2="1821.7" y2="460" stroke="#f0a04a" stroke-width="2"/>
<line x1="1814.7" y1="460" x2="1828.7" y2="460" stroke="#f0a04a" stroke-width="2.2"/>
<line x1="1877.1" y1="365.9" x2="1877.1" y2="391.5" stroke="#f0a04a" stroke-width="2"/>
<line x1="1870.1" y1="365.9" x2="1884.1" y2="365.9" stroke="#f0a04a" stroke-width="2.2"/>
<line x1="1877.1" y1="391.5" x2="1877.1" y2="420" stroke="#f0a04a" stroke-width="2"/>
<line x1="1870.1" y1="420" x2="1884.1" y2="420" stroke="#f0a04a" stroke-width="2.2"/>
<line x1="1941.4" y1="369.8" x2="1941.4" y2="395.1" stroke="#f0a04a" stroke-width="2"/>
<line x1="1934.4" y1="369.8" x2="1948.4" y2="369.8" stroke="#f0a04a" stroke-width="2.2"/>
<line x1="1941.4" y1="395.1" x2="1941.4" y2="425" stroke="#f0a04a" stroke-width="2"/>
<line x1="1934.4" y1="425" x2="1948.4" y2="425" stroke="#f0a04a" stroke-width="2.2"/>
<line x1="2005.5" y1="361.7" x2="2005.5" y2="389.6" stroke="#f0a04a" stroke-width="2"/>
<line x1="1998.5" y1="361.7" x2="2012.5" y2="361.7" stroke="#f0a04a" stroke-width="2.2"/>
<line x1="2005.5" y1="389.6" x2="2005.5" y2="471.4" stroke="#f0a04a" stroke-width="2"/>
<line x1="1998.5" y1="471.4" x2="2012.5" y2="471.4" stroke="#f0a04a" stroke-width="2.2"/>
<line x1="2069.5" y1="368.4" x2="2069.5" y2="392.9" stroke="#f0a04a" stroke-width="2"/>
<line x1="2062.5" y1="368.4" x2="2076.5" y2="368.4" stroke="#f0a04a" stroke-width="2.2"/>
<line x1="2069.5" y1="392.9" x2="2069.5" y2="420" stroke="#f0a04a" stroke-width="2"/>
<line x1="2062.5" y1="420" x2="2076.5" y2="420" stroke="#f0a04a" stroke-width="2.2"/>
<line x1="2134.3" y1="364.5" x2="2134.3" y2="392.9" stroke="#f0a04a" stroke-width="2"/>
<line x1="2127.3" y1="364.5" x2="2141.3" y2="364.5" stroke="#f0a04a" stroke-width="2.2"/>
<line x1="2134.3" y1="392.9" x2="2134.3" y2="420" stroke="#f0a04a" stroke-width="2"/>
<line x1="2127.3" y1="420" x2="2141.3" y2="420" stroke="#f0a04a" stroke-width="2.2"/>
<line x1="2161.5" y1="428" x2="2161.5" y2="439" stroke="#f0a04a" stroke-width="2"/>
<line x1="2154.5" y1="428" x2="2168.5" y2="428" stroke="#f0a04a" stroke-width="2.2"/>
<line x1="2161.5" y1="439" x2="2161.5" y2="460" stroke="#f0a04a" stroke-width="2"/>
<line x1="2154.5" y1="460" x2="2168.5" y2="460" stroke="#f0a04a" stroke-width="2.2"/>
<line x1="2194.3" y1="440" x2="2194.3" y2="452.5" stroke="#f0a04a" stroke-width="2"/>
<line x1="2187.3" y1="440" x2="2201.3" y2="440" stroke="#f0a04a" stroke-width="2.2"/>
<line x1="2194.3" y1="452.5" x2="2194.3" y2="481.7" stroke="#f0a04a" stroke-width="2"/>
<line x1="2187.3" y1="481.7" x2="2201.3" y2="481.7" stroke="#f0a04a" stroke-width="2.2"/>
<line x1="2322.4" y1="423.3" x2="2322.4" y2="439" stroke="#f0a04a" stroke-width="2"/>
<line x1="2315.4" y1="423.3" x2="2329.4" y2="423.3" stroke="#f0a04a" stroke-width="2.2"/>
<line x1="2322.4" y1="439" x2="2322.4" y2="455" stroke="#f0a04a" stroke-width="2"/>
<line x1="2315.4" y1="455" x2="2329.4" y2="455" stroke="#f0a04a" stroke-width="2.2"/>
<line x1="1821.7" y1="470" x2="1821.7" y2="493.1" stroke="#5c9ee6" stroke-width="2"/>
<line x1="1814.7" y1="470" x2="1828.7" y2="470" stroke="#5c9ee6" stroke-width="2.2"/>
<line x1="1821.7" y1="493.1" x2="1821.7" y2="520.4" stroke="#5c9ee6" stroke-width="2"/>
<line x1="1814.7" y1="520.4" x2="1828.7" y2="520.4" stroke="#5c9ee6" stroke-width="2.2"/>
<line x1="1877.1" y1="443.6" x2="1877.1" y2="482.6" stroke="#5c9ee6" stroke-width="2"/>
<line x1="1870.1" y1="443.6" x2="1884.1" y2="443.6" stroke="#5c9ee6" stroke-width="2.2"/>
<line x1="1941.4" y1="441.1" x2="1941.4" y2="481.2" stroke="#5c9ee6" stroke-width="2"/>
<line x1="1934.4" y1="441.1" x2="1948.4" y2="441.1" stroke="#5c9ee6" stroke-width="2.2"/>
<line x1="2005.5" y1="445.2" x2="2005.5" y2="484.2" stroke="#5c9ee6" stroke-width="2"/>
<line x1="1998.5" y1="445.2" x2="2012.5" y2="445.2" stroke="#5c9ee6" stroke-width="2.2"/>
<line x1="2069.5" y1="444.4" x2="2069.5" y2="483.4" stroke="#5c9ee6" stroke-width="2"/>
<line x1="2062.5" y1="444.4" x2="2076.5" y2="444.4" stroke="#5c9ee6" stroke-width="2.2"/>
<line x1="2134.3" y1="435.2" x2="2134.3" y2="475" stroke="#5c9ee6" stroke-width="2"/>
<line x1="2127.3" y1="435.2" x2="2141.3" y2="435.2" stroke="#5c9ee6" stroke-width="2.2"/>
<line x1="2161.5" y1="463.7" x2="2161.5" y2="502" stroke="#5c9ee6" stroke-width="2"/>
<line x1="2154.5" y1="463.7" x2="2168.5" y2="463.7" stroke="#5c9ee6" stroke-width="2.2"/>
<line x1="2194.3" y1="470" x2="2194.3" y2="506.5" stroke="#5c9ee6" stroke-width="2"/>
<line x1="2187.3" y1="470" x2="2201.3" y2="470" stroke="#5c9ee6" stroke-width="2.2"/>
<line x1="2322.4" y1="439" x2="2322.4" y2="487.1" stroke="#5c9ee6" stroke-width="2"/>
<line x1="2315.4" y1="439" x2="2329.4" y2="439" stroke="#5c9ee6" stroke-width="2.2"/>
<line x1="2322.4" y1="487.1" x2="2322.4" y2="578.4" stroke="#5c9ee6" stroke-width="2"/>
<line x1="2315.4" y1="578.4" x2="2329.4" y2="578.4" stroke="#5c9ee6" stroke-width="2.2"/>
<line x1="1821.7" y1="426.3" x2="1821.7" y2="453.6" stroke="#5a5a5a" stroke-width="2"/>
<line x1="1814.7" y1="426.3" x2="1828.7" y2="426.3" stroke="#5a5a5a" stroke-width="2.2"/>
<line x1="1821.7" y1="453.6" x2="1821.7" y2="509" stroke="#5a5a5a" stroke-width="2"/>
<line x1="1814.7" y1="509" x2="1828.7" y2="509" stroke="#5a5a5a" stroke-width="2.2"/>
<line x1="1877.1" y1="424.4" x2="1877.1" y2="456.4" stroke="#5a5a5a" stroke-width="2"/>
<line x1="1870.1" y1="424.4" x2="1884.1" y2="424.4" stroke="#5a5a5a" stroke-width="2.2"/>
<line x1="1877.1" y1="456.4" x2="1877.1" y2="541.9" stroke="#5a5a5a" stroke-width="2"/>
<line x1="1870.1" y1="541.9" x2="1884.1" y2="541.9" stroke="#5a5a5a" stroke-width="2.2"/>
<line x1="1941.4" y1="426.9" x2="1941.4" y2="456.4" stroke="#5a5a5a" stroke-width="2"/>
<line x1="1934.4" y1="426.9" x2="1948.4" y2="426.9" stroke="#5a5a5a" stroke-width="2.2"/>
<line x1="1941.4" y1="456.4" x2="1941.4" y2="529.9" stroke="#5a5a5a" stroke-width="2"/>
<line x1="1934.4" y1="529.9" x2="1948.4" y2="529.9" stroke="#5a5a5a" stroke-width="2.2"/>
<line x1="2005.5" y1="423.5" x2="2005.5" y2="454.7" stroke="#5a5a5a" stroke-width="2"/>
<line x1="1998.5" y1="423.5" x2="2012.5" y2="423.5" stroke="#5a5a5a" stroke-width="2.2"/>
<line x1="2005.5" y1="454.7" x2="2005.5" y2="539.9" stroke="#5a5a5a" stroke-width="2"/>
<line x1="1998.5" y1="539.9" x2="2012.5" y2="539.9" stroke="#5a5a5a" stroke-width="2.2"/>
<line x1="2069.5" y1="422.7" x2="2069.5" y2="452.8" stroke="#5a5a5a" stroke-width="2"/>
<line x1="2062.5" y1="422.7" x2="2076.5" y2="422.7" stroke="#5a5a5a" stroke-width="2.2"/>
<line x1="2069.5" y1="452.8" x2="2069.5" y2="529.3" stroke="#5a5a5a" stroke-width="2"/>
<line x1="2062.5" y1="529.3" x2="2076.5" y2="529.3" stroke="#5a5a5a" stroke-width="2.2"/>
<line x1="2134.3" y1="428.5" x2="2134.3" y2="455.5" stroke="#5a5a5a" stroke-width="2"/>
<line x1="2127.3" y1="428.5" x2="2141.3" y2="428.5" stroke="#5a5a5a" stroke-width="2.2"/>
<line x1="2134.3" y1="455.5" x2="2134.3" y2="513.5" stroke="#5a5a5a" stroke-width="2"/>
<line x1="2127.3" y1="513.5" x2="2141.3" y2="513.5" stroke="#5a5a5a" stroke-width="2.2"/>
<line x1="2161.5" y1="426.4" x2="2161.5" y2="453.9" stroke="#5a5a5a" stroke-width="2"/>
<line x1="2154.5" y1="426.4" x2="2168.5" y2="426.4" stroke="#5a5a5a" stroke-width="2.2"/>
<line x1="2161.5" y1="453.9" x2="2161.5" y2="521.3" stroke="#5a5a5a" stroke-width="2"/>
<line x1="2154.5" y1="521.3" x2="2168.5" y2="521.3" stroke="#5a5a5a" stroke-width="2.2"/>
<line x1="2194.3" y1="428" x2="2194.3" y2="456.1" stroke="#5a5a5a" stroke-width="2"/>
<line x1="2187.3" y1="428" x2="2201.3" y2="428" stroke="#5a5a5a" stroke-width="2.2"/>
<line x1="2194.3" y1="456.1" x2="2194.3" y2="516" stroke="#5a5a5a" stroke-width="2"/>
<line x1="2187.3" y1="516" x2="2201.3" y2="516" stroke="#5a5a5a" stroke-width="2.2"/>
<line x1="2322.4" y1="418.8" x2="2322.4" y2="449.4" stroke="#5a5a5a" stroke-width="2"/>
<line x1="2315.4" y1="418.8" x2="2329.4" y2="418.8" stroke="#5a5a5a" stroke-width="2.2"/>
<line x1="2322.4" y1="449.4" x2="2322.4" y2="524.4" stroke="#5a5a5a" stroke-width="2"/>
<line x1="2315.4" y1="524.4" x2="2329.4" y2="524.4" stroke="#5a5a5a" stroke-width="2.2"/>
<polyline points="1821.7,453.6 1877.1,456.4 1941.4,456.4 2005.5,454.7 2069.5,452.8 2134.3,455.5 2161.5,453.9 2194.3,456.1 2322.4,449.4" fill="none" stroke="#4f4f4f" stroke-width="2.2"/>
<circle cx="1821.7" cy="453.6" r="7.75" fill="#5a5a5a"/>
<circle cx="1877.1" cy="456.4" r="7.75" fill="#5a5a5a"/>
<circle cx="1941.4" cy="456.4" r="7.75" fill="#5a5a5a"/>
<circle cx="2005.5" cy="454.7" r="7.75" fill="#5a5a5a"/>
<circle cx="2069.5" cy="452.8" r="7.75" fill="#5a5a5a"/>
<circle cx="2134.3" cy="455.5" r="7.75" fill="#5a5a5a"/>
<circle cx="2161.5" cy="453.9" r="7.75" fill="#5a5a5a"/>
<circle cx="2194.3" cy="456.1" r="7.75" fill="#5a5a5a"/>
<circle cx="2322.4" cy="449.4" r="7.75" fill="#5a5a5a"/>
<polyline points="1821.7,493.1 1877.1,482.6 1941.4,481.2 2005.5,484.2 2069.5,483.4 2134.3,475 2161.5,502 2194.3,506.5 2322.4,487.1" fill="none" stroke="#5a96d8" stroke-width="2.2"/>
<rect x="1814.45" y="485.85" width="14.5" height="14.5" fill="#5c9ee6"/>
<rect x="1869.85" y="475.35" width="14.5" height="14.5" fill="#5c9ee6"/>
<rect x="1934.15" y="473.95" width="14.5" height="14.5" fill="#5c9ee6"/>
<rect x="1998.25" y="476.95" width="14.5" height="14.5" fill="#5c9ee6"/>
<rect x="2062.25" y="476.15" width="14.5" height="14.5" fill="#5c9ee6"/>
<rect x="2127.05" y="467.75" width="14.5" height="14.5" fill="#5c9ee6"/>
<rect x="2154.25" y="494.75" width="14.5" height="14.5" fill="#5c9ee6"/>
<rect x="2187.05" y="499.25" width="14.5" height="14.5" fill="#5c9ee6"/>
<rect x="2315.15" y="479.85" width="14.5" height="14.5" fill="#5c9ee6"/>
<polyline points="1821.7,444.4 1877.1,391.5 1941.4,395.1 2005.5,389.6 2069.5,392.9 2134.3,392.9 2161.5,439 2194.3,452.5 2322.4,439" fill="none" stroke="#e8a060" stroke-width="2.2"/>
<polygon points="1813.95,437.42 1829.45,437.42 1821.7,451.38" fill="#f0a04a"/>
<polygon points="1869.35,384.52 1884.85,384.52 1877.1,398.48" fill="#f0a04a"/>
<polygon points="1933.65,388.12 1949.15,388.12 1941.4,402.08" fill="#f0a04a"/>
<polygon points="1997.75,382.62 2013.25,382.62 2005.5,396.58" fill="#f0a04a"/>
<polygon points="2061.75,385.92 2077.25,385.92 2069.5,399.88" fill="#f0a04a"/>
<polygon points="2126.55,385.92 2142.05,385.92 2134.3,399.88" fill="#f0a04a"/>
<polygon points="2153.75,432.02 2169.25,432.02 2161.5,445.98" fill="#f0a04a"/>
<polygon points="2186.55,445.52 2202.05,445.52 2194.3,459.48" fill="#f0a04a"/>
<polygon points="2314.65,432.02 2330.15,432.02 2322.4,445.98" fill="#f0a04a"/>
<polyline points="1821.7,473.1 1877.1,381.2 1941.4,379 2005.5,379.8 2069.5,377 2134.3,387.3 2161.5,398.6 2194.3,435.9 2322.4,475" fill="none" stroke="#8a2ac0" stroke-width="2.2"/>
<polygon points="1813.95,480.08 1829.45,480.08 1821.7,466.12" fill="#9a22cc"/>
<polygon points="1869.35,388.18 1884.85,388.18 1877.1,374.22" fill="#9a22cc"/>
<polygon points="1933.65,385.98 1949.15,385.98 1941.4,372.02" fill="#9a22cc"/>
<polygon points="1997.75,386.78 2013.25,386.78 2005.5,372.82" fill="#9a22cc"/>
<polygon points="2061.75,383.98 2077.25,383.98 2069.5,370.02" fill="#9a22cc"/>
<polygon points="2126.55,394.28 2142.05,394.28 2134.3,380.32" fill="#9a22cc"/>
<polygon points="2153.75,405.58 2169.25,405.58 2161.5,391.62" fill="#9a22cc"/>
<polygon points="2186.55,442.88 2202.05,442.88 2194.3,428.92" fill="#9a22cc"/>
<polygon points="2314.65,481.98 2330.15,481.98 2322.4,468.02" fill="#9a22cc"/>
</svg>
</body></html>
